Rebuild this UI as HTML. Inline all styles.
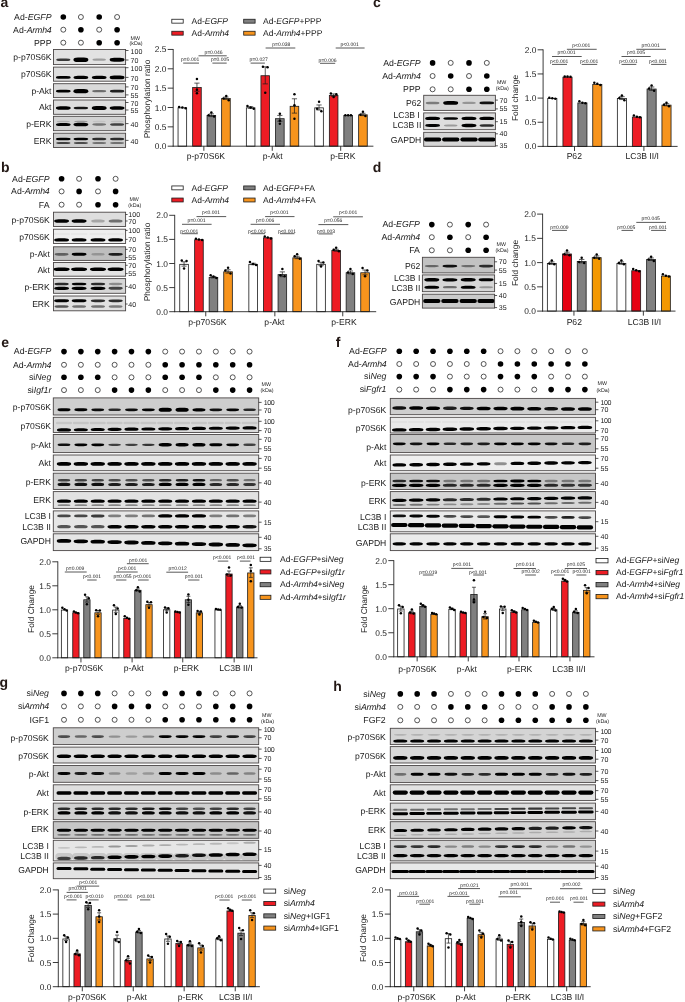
<!DOCTYPE html>
<html><head><meta charset="utf-8"><title>Figure</title>
<style>
html,body{margin:0;padding:0;background:#fff;}
body{width:685px;height:1002px;overflow:hidden;font-family:"Liberation Sans",sans-serif;}
svg{display:block;font-family:"Liberation Sans",sans-serif;opacity:0.999;will-change:transform;text-rendering:geometricPrecision;}
</style></head><body>
<svg width="685" height="1002" viewBox="0 0 685 1002">
<defs><filter id="bl" x="-5%" y="-50%" width="110%" height="200%"><feGaussianBlur stdDeviation="0.75"/></filter></defs>
<rect width="685" height="1002" fill="#fff"/>
<text x="0.50" y="6.90" font-size="14.00" text-anchor="start" font-weight="bold" fill="#231815">a</text>
<text x="1.00" y="171.80" font-size="14.00" text-anchor="start" font-weight="bold" fill="#231815">b</text>
<text x="373.00" y="7.10" font-size="14.00" text-anchor="start" font-weight="bold" fill="#231815">c</text>
<text x="372.80" y="171.80" font-size="14.00" text-anchor="start" font-weight="bold" fill="#231815">d</text>
<text x="1.20" y="346.90" font-size="14.00" text-anchor="start" font-weight="bold" fill="#231815">e</text>
<text x="335.70" y="346.90" font-size="14.00" text-anchor="start" font-weight="bold" fill="#231815">f</text>
<text x="-0.40" y="686.60" font-size="14.00" text-anchor="start" font-weight="bold" fill="#231815">g</text>
<text x="333.30" y="690.70" font-size="14.00" text-anchor="start" font-weight="bold" fill="#231815">h</text>
<text x="51.50" y="19.80" font-size="8.75" text-anchor="end" fill="#1a1a1a">Ad-<tspan font-style="italic">EGFP</tspan></text>
<circle cx="63.30" cy="17.00" r="2.80" fill="#000"/>
<circle cx="80.90" cy="17.00" r="2.50" fill="#fff" stroke="#111" stroke-width="0.7"/>
<circle cx="99.20" cy="17.00" r="2.80" fill="#000"/>
<circle cx="117.10" cy="17.00" r="2.50" fill="#fff" stroke="#111" stroke-width="0.7"/>
<text x="51.50" y="32.50" font-size="8.75" text-anchor="end" fill="#1a1a1a">Ad-<tspan font-style="italic" letter-spacing="-0.2">Armh4</tspan></text>
<circle cx="63.30" cy="29.70" r="2.50" fill="#fff" stroke="#111" stroke-width="0.7"/>
<circle cx="80.90" cy="29.70" r="2.80" fill="#000"/>
<circle cx="99.20" cy="29.70" r="2.50" fill="#fff" stroke="#111" stroke-width="0.7"/>
<circle cx="117.10" cy="29.70" r="2.80" fill="#000"/>
<text x="51.50" y="45.50" font-size="8.75" text-anchor="end" fill="#1a1a1a">PPP</text>
<circle cx="63.30" cy="42.70" r="2.50" fill="#fff" stroke="#111" stroke-width="0.7"/>
<circle cx="80.90" cy="42.70" r="2.50" fill="#fff" stroke="#111" stroke-width="0.7"/>
<circle cx="99.20" cy="42.70" r="2.80" fill="#000"/>
<circle cx="117.10" cy="42.70" r="2.80" fill="#000"/>
<clipPath id="c1"><rect x="53.50" y="49.50" width="72.10" height="15.10"/></clipPath>
<rect x="53.50" y="49.50" width="72.10" height="15.10" fill="#e2e2e2"/>
<g clip-path="url(#c1)"><g filter="url(#bl)">
<rect x="56.19" y="58.40" width="14.22" height="2.60" rx="4.27" ry="1.30" fill="#000" fill-opacity="0.75"/>
<rect x="73.44" y="57.40" width="14.92" height="4.60" rx="4.48" ry="2.30" fill="#000" fill-opacity="1.00"/>
<rect x="92.44" y="58.58" width="13.51" height="2.24" rx="4.05" ry="1.12" fill="#000" fill-opacity="0.30"/>
<rect x="109.66" y="57.71" width="14.88" height="3.98" rx="4.46" ry="1.99" fill="#000" fill-opacity="1.00"/>
</g></g>
<rect x="53.50" y="49.50" width="72.10" height="15.10" fill="none" stroke="#4a4646" stroke-width="0.9"/>
<clipPath id="c2"><rect x="53.50" y="67.10" width="72.10" height="14.10"/></clipPath>
<rect x="53.50" y="67.10" width="72.10" height="14.10" fill="#dedede"/>
<g clip-path="url(#c2)"><g filter="url(#bl)">
<rect x="55.94" y="75.93" width="14.72" height="2.94" rx="4.42" ry="1.47" fill="#000" fill-opacity="1.00"/>
<rect x="73.52" y="75.73" width="14.76" height="3.35" rx="4.43" ry="1.67" fill="#000" fill-opacity="1.00"/>
<rect x="91.84" y="75.73" width="14.72" height="3.33" rx="4.42" ry="1.67" fill="#000" fill-opacity="1.00"/>
<rect x="109.66" y="75.51" width="14.88" height="3.78" rx="4.46" ry="1.89" fill="#000" fill-opacity="1.00"/>
</g></g>
<rect x="53.50" y="67.10" width="72.10" height="14.10" fill="none" stroke="#4a4646" stroke-width="0.9"/>
<clipPath id="c3"><rect x="53.50" y="83.70" width="72.10" height="13.90"/></clipPath>
<rect x="53.50" y="83.70" width="72.10" height="13.90" fill="#dadada"/>
<g clip-path="url(#c3)"><g filter="url(#bl)">
<rect x="55.94" y="89.83" width="14.72" height="2.74" rx="4.42" ry="1.37" fill="#000" fill-opacity="1.00"/>
<rect x="73.44" y="89.10" width="14.92" height="4.20" rx="4.48" ry="2.10" fill="#000" fill-opacity="1.00"/>
<rect x="92.24" y="90.12" width="13.92" height="2.16" rx="4.17" ry="1.08" fill="#000" fill-opacity="0.50"/>
<rect x="109.89" y="89.87" width="14.42" height="2.66" rx="4.33" ry="1.33" fill="#000" fill-opacity="0.86"/>
</g></g>
<rect x="53.50" y="83.70" width="72.10" height="13.90" fill="none" stroke="#4a4646" stroke-width="0.9"/>
<clipPath id="c4"><rect x="53.50" y="100.00" width="72.10" height="14.30"/></clipPath>
<rect x="53.50" y="100.00" width="72.10" height="14.30" fill="#dedede"/>
<g clip-path="url(#c4)"><g filter="url(#bl)">
<rect x="55.87" y="106.21" width="14.86" height="3.58" rx="4.46" ry="1.79" fill="#000" fill-opacity="1.00"/>
<rect x="73.66" y="106.66" width="14.48" height="2.68" rx="4.34" ry="1.34" fill="#000" fill-opacity="0.90"/>
<rect x="91.74" y="105.90" width="14.92" height="4.20" rx="4.48" ry="2.10" fill="#000" fill-opacity="1.00"/>
<rect x="109.69" y="106.22" width="14.82" height="3.56" rx="4.45" ry="1.78" fill="#000" fill-opacity="1.00"/>
</g></g>
<rect x="53.50" y="100.00" width="72.10" height="14.30" fill="none" stroke="#4a4646" stroke-width="0.9"/>
<clipPath id="c5"><rect x="53.50" y="116.30" width="72.10" height="14.40"/></clipPath>
<rect x="53.50" y="116.30" width="72.10" height="14.40" fill="#d2d2d2"/>
<g clip-path="url(#c5)"><g filter="url(#bl)">
<rect x="55.94" y="122.93" width="14.72" height="3.14" rx="4.42" ry="1.57" fill="#000" fill-opacity="1.00"/>
<rect x="73.47" y="122.71" width="14.86" height="3.58" rx="4.46" ry="1.79" fill="#000" fill-opacity="1.00"/>
<rect x="92.29" y="123.34" width="13.82" height="2.31" rx="4.14" ry="1.16" fill="#000" fill-opacity="0.45"/>
<rect x="110.04" y="123.21" width="14.12" height="2.58" rx="4.24" ry="1.29" fill="#000" fill-opacity="0.69"/>
<rect x="56.66" y="120.65" width="13.27" height="1.50" rx="3.98" ry="0.75" fill="#000" fill-opacity="0.18"/>
<rect x="74.16" y="120.63" width="13.47" height="1.54" rx="4.04" ry="0.77" fill="#000" fill-opacity="0.28"/>
<rect x="92.66" y="120.67" width="13.07" height="1.47" rx="3.92" ry="0.73" fill="#000" fill-opacity="0.08"/>
<rect x="110.54" y="120.66" width="13.11" height="1.48" rx="3.93" ry="0.74" fill="#000" fill-opacity="0.10"/>
</g></g>
<rect x="53.50" y="116.30" width="72.10" height="14.40" fill="none" stroke="#4a4646" stroke-width="0.9"/>
<clipPath id="c6"><rect x="53.50" y="133.20" width="72.10" height="14.30"/></clipPath>
<rect x="53.50" y="133.20" width="72.10" height="14.30" fill="#cecece"/>
<g clip-path="url(#c6)"><g filter="url(#bl)">
<rect x="55.94" y="137.63" width="14.72" height="2.74" rx="4.42" ry="1.37" fill="#000" fill-opacity="1.00"/>
<rect x="73.56" y="137.63" width="14.68" height="2.73" rx="4.40" ry="1.37" fill="#000" fill-opacity="1.00"/>
<rect x="92.06" y="137.69" width="14.28" height="2.62" rx="4.28" ry="1.31" fill="#000" fill-opacity="0.78"/>
<rect x="109.96" y="137.69" width="14.28" height="2.62" rx="4.28" ry="1.31" fill="#000" fill-opacity="0.78"/>
<rect x="56.24" y="141.90" width="14.12" height="2.21" rx="4.24" ry="1.10" fill="#000" fill-opacity="0.69"/>
<rect x="73.89" y="141.91" width="14.02" height="2.18" rx="4.21" ry="1.09" fill="#000" fill-opacity="0.63"/>
<rect x="92.29" y="141.93" width="13.82" height="2.14" rx="4.14" ry="1.07" fill="#000" fill-opacity="0.45"/>
<rect x="110.19" y="141.93" width="13.82" height="2.14" rx="4.14" ry="1.07" fill="#000" fill-opacity="0.45"/>
</g></g>
<rect x="53.50" y="133.20" width="72.10" height="14.30" fill="none" stroke="#4a4646" stroke-width="0.9"/>
<text x="51.50" y="60.00" font-size="8.60" text-anchor="end" fill="#1a1a1a">p-p70S6K</text>
<text x="51.50" y="77.20" font-size="8.60" text-anchor="end" fill="#1a1a1a">p70S6K</text>
<text x="51.50" y="94.00" font-size="8.60" text-anchor="end" fill="#1a1a1a">p-Akt</text>
<text x="51.50" y="110.30" font-size="8.60" text-anchor="end" fill="#1a1a1a">Akt</text>
<text x="51.50" y="126.70" font-size="8.60" text-anchor="end" fill="#1a1a1a">p-ERK</text>
<text x="51.50" y="143.50" font-size="8.60" text-anchor="end" fill="#1a1a1a">ERK</text>
<text x="135.30" y="39.80" font-size="5.30" text-anchor="middle" fill="#1a1a1a">MW</text>
<text x="136.00" y="45.30" font-size="5.30" text-anchor="middle" fill="#1a1a1a">(kDa)</text>
<line x1="125.60" y1="50.50" x2="128.50" y2="50.50" stroke="#222" stroke-width="0.75"/>
<text x="130.60" y="53.80" font-size="7.05" text-anchor="start" fill="#1a1a1a">100</text>
<line x1="125.60" y1="60.00" x2="128.50" y2="60.00" stroke="#222" stroke-width="0.75"/>
<text x="130.60" y="63.30" font-size="7.05" text-anchor="start" fill="#1a1a1a">70</text>
<line x1="125.60" y1="67.70" x2="128.50" y2="67.70" stroke="#222" stroke-width="0.75"/>
<text x="130.60" y="71.00" font-size="7.05" text-anchor="start" fill="#1a1a1a">100</text>
<line x1="125.60" y1="77.40" x2="128.50" y2="77.40" stroke="#222" stroke-width="0.75"/>
<text x="130.60" y="80.70" font-size="7.05" text-anchor="start" fill="#1a1a1a">70</text>
<line x1="125.60" y1="86.90" x2="128.50" y2="86.90" stroke="#222" stroke-width="0.75"/>
<text x="130.60" y="90.20" font-size="7.05" text-anchor="start" fill="#1a1a1a">70</text>
<line x1="125.60" y1="94.90" x2="128.50" y2="94.90" stroke="#222" stroke-width="0.75"/>
<text x="130.60" y="98.20" font-size="7.05" text-anchor="start" fill="#1a1a1a">55</text>
<line x1="125.60" y1="102.50" x2="128.50" y2="102.50" stroke="#222" stroke-width="0.75"/>
<text x="130.60" y="105.80" font-size="7.05" text-anchor="start" fill="#1a1a1a">70</text>
<line x1="125.60" y1="110.00" x2="128.50" y2="110.00" stroke="#222" stroke-width="0.75"/>
<text x="130.60" y="113.30" font-size="7.05" text-anchor="start" fill="#1a1a1a">55</text>
<line x1="125.60" y1="123.60" x2="128.50" y2="123.60" stroke="#222" stroke-width="0.75"/>
<text x="130.60" y="126.90" font-size="7.05" text-anchor="start" fill="#1a1a1a">40</text>
<line x1="125.60" y1="140.40" x2="128.50" y2="140.40" stroke="#222" stroke-width="0.75"/>
<text x="130.60" y="143.70" font-size="7.05" text-anchor="start" fill="#1a1a1a">40</text>
<rect x="171.80" y="19.25" width="11.40" height="3.90" fill="#ffffff" stroke="#1a1a1a" stroke-width="0.8"/>
<text x="191.50" y="23.90" font-size="8.50" text-anchor="start" fill="#1a1a1a">Ad-<tspan font-style="italic">EGFP</tspan></text>
<rect x="171.80" y="31.25" width="11.40" height="3.90" fill="#ed1c24" stroke="#1a1a1a" stroke-width="0.8"/>
<text x="191.50" y="35.90" font-size="8.50" text-anchor="start" fill="#1a1a1a">Ad-<tspan font-style="italic" letter-spacing="-0.2">Armh4</tspan></text>
<rect x="243.70" y="19.25" width="11.40" height="3.90" fill="#808080" stroke="#1a1a1a" stroke-width="0.8"/>
<text x="263.10" y="23.90" font-size="8.50" text-anchor="start" fill="#1a1a1a">Ad-<tspan font-style="italic">EGFP</tspan>+PPP</text>
<rect x="243.70" y="31.25" width="11.40" height="3.90" fill="#f7941d" stroke="#1a1a1a" stroke-width="0.8"/>
<text x="263.10" y="35.90" font-size="8.50" text-anchor="start" fill="#1a1a1a">Ad-<tspan font-style="italic" letter-spacing="-0.2">Armh4</tspan>+PPP</text>
<rect x="178.05" y="107.85" width="8.60" height="38.35" fill="#ffffff" stroke="#1a1a1a" stroke-width="0.8"/>
<circle cx="179.15" cy="106.92" r="1.25" fill="#000"/>
<circle cx="182.35" cy="107.50" r="1.25" fill="#000"/>
<circle cx="185.65" cy="108.27" r="1.25" fill="#000"/>
<rect x="192.65" y="87.53" width="8.60" height="58.67" fill="#ed1c24" stroke="#1a1a1a" stroke-width="0.8"/>
<line x1="196.95" y1="83.12" x2="196.95" y2="91.25" stroke="#1a1a1a" stroke-width="0.70"/>
<line x1="194.35" y1="83.12" x2="199.55" y2="83.12" stroke="#1a1a1a" stroke-width="0.70"/>
<line x1="194.35" y1="91.25" x2="199.55" y2="91.25" stroke="#1a1a1a" stroke-width="0.70"/>
<circle cx="196.95" cy="79.06" r="1.25" fill="#000"/>
<circle cx="196.95" cy="89.85" r="1.25" fill="#000"/>
<circle cx="196.95" cy="93.18" r="1.25" fill="#000"/>
<rect x="207.05" y="115.59" width="8.60" height="30.61" fill="#808080" stroke="#1a1a1a" stroke-width="0.8"/>
<line x1="211.35" y1="113.89" x2="211.35" y2="116.59" stroke="#1a1a1a" stroke-width="0.70"/>
<line x1="208.75" y1="113.89" x2="213.95" y2="113.89" stroke="#1a1a1a" stroke-width="0.70"/>
<line x1="208.75" y1="116.59" x2="213.95" y2="116.59" stroke="#1a1a1a" stroke-width="0.70"/>
<circle cx="208.65" cy="115.24" r="1.25" fill="#000"/>
<circle cx="211.35" cy="112.53" r="1.25" fill="#000"/>
<circle cx="214.15" cy="116.40" r="1.25" fill="#000"/>
<rect x="221.65" y="98.56" width="8.60" height="47.64" fill="#f7941d" stroke="#1a1a1a" stroke-width="0.8"/>
<line x1="225.95" y1="97.05" x2="225.95" y2="99.37" stroke="#1a1a1a" stroke-width="0.70"/>
<line x1="223.35" y1="97.05" x2="228.55" y2="97.05" stroke="#1a1a1a" stroke-width="0.70"/>
<line x1="223.35" y1="99.37" x2="228.55" y2="99.37" stroke="#1a1a1a" stroke-width="0.70"/>
<circle cx="223.55" cy="98.60" r="1.25" fill="#000"/>
<circle cx="226.25" cy="95.89" r="1.25" fill="#000"/>
<circle cx="228.75" cy="100.15" r="1.25" fill="#000"/>
<rect x="246.35" y="107.85" width="8.60" height="38.35" fill="#ffffff" stroke="#1a1a1a" stroke-width="0.8"/>
<line x1="250.65" y1="106.73" x2="250.65" y2="108.27" stroke="#1a1a1a" stroke-width="0.70"/>
<line x1="248.05" y1="106.73" x2="253.25" y2="106.73" stroke="#1a1a1a" stroke-width="0.70"/>
<line x1="248.05" y1="108.27" x2="253.25" y2="108.27" stroke="#1a1a1a" stroke-width="0.70"/>
<circle cx="247.45" cy="105.95" r="1.25" fill="#000"/>
<circle cx="250.65" cy="107.50" r="1.25" fill="#000"/>
<circle cx="253.75" cy="108.82" r="1.25" fill="#000"/>
<rect x="260.95" y="75.73" width="8.60" height="70.47" fill="#ed1c24" stroke="#1a1a1a" stroke-width="0.8"/>
<line x1="265.25" y1="66.86" x2="265.25" y2="83.89" stroke="#1a1a1a" stroke-width="0.70"/>
<line x1="262.65" y1="66.86" x2="267.85" y2="66.86" stroke="#1a1a1a" stroke-width="0.70"/>
<line x1="262.65" y1="83.89" x2="267.85" y2="83.89" stroke="#1a1a1a" stroke-width="0.70"/>
<circle cx="262.95" cy="66.86" r="1.25" fill="#000"/>
<circle cx="267.55" cy="67.25" r="1.25" fill="#000"/>
<circle cx="265.25" cy="92.79" r="1.25" fill="#000"/>
<rect x="275.55" y="118.69" width="8.60" height="27.51" fill="#808080" stroke="#1a1a1a" stroke-width="0.8"/>
<line x1="279.85" y1="115.43" x2="279.85" y2="121.24" stroke="#1a1a1a" stroke-width="0.70"/>
<line x1="277.25" y1="115.43" x2="282.45" y2="115.43" stroke="#1a1a1a" stroke-width="0.70"/>
<line x1="277.25" y1="121.24" x2="282.45" y2="121.24" stroke="#1a1a1a" stroke-width="0.70"/>
<circle cx="279.85" cy="113.69" r="1.25" fill="#000"/>
<circle cx="279.85" cy="120.66" r="1.25" fill="#000"/>
<circle cx="279.85" cy="123.75" r="1.25" fill="#000"/>
<rect x="290.15" y="106.30" width="8.60" height="39.90" fill="#f7941d" stroke="#1a1a1a" stroke-width="0.8"/>
<line x1="294.45" y1="98.79" x2="294.45" y2="113.11" stroke="#1a1a1a" stroke-width="0.70"/>
<line x1="291.85" y1="98.79" x2="297.05" y2="98.79" stroke="#1a1a1a" stroke-width="0.70"/>
<line x1="291.85" y1="113.11" x2="297.05" y2="113.11" stroke="#1a1a1a" stroke-width="0.70"/>
<circle cx="294.45" cy="94.34" r="1.25" fill="#000"/>
<circle cx="294.45" cy="105.18" r="1.25" fill="#000"/>
<circle cx="294.45" cy="118.72" r="1.25" fill="#000"/>
<rect x="314.75" y="107.85" width="8.60" height="38.35" fill="#ffffff" stroke="#1a1a1a" stroke-width="0.8"/>
<line x1="319.05" y1="104.98" x2="319.05" y2="110.02" stroke="#1a1a1a" stroke-width="0.70"/>
<line x1="316.45" y1="104.98" x2="321.65" y2="104.98" stroke="#1a1a1a" stroke-width="0.70"/>
<line x1="316.45" y1="110.02" x2="321.65" y2="110.02" stroke="#1a1a1a" stroke-width="0.70"/>
<circle cx="319.05" cy="101.81" r="1.25" fill="#000"/>
<circle cx="317.15" cy="108.82" r="1.25" fill="#000"/>
<circle cx="321.35" cy="111.37" r="1.25" fill="#000"/>
<rect x="329.35" y="95.47" width="8.60" height="50.73" fill="#ed1c24" stroke="#1a1a1a" stroke-width="0.8"/>
<line x1="333.65" y1="93.95" x2="333.65" y2="96.28" stroke="#1a1a1a" stroke-width="0.70"/>
<line x1="331.05" y1="93.95" x2="336.25" y2="93.95" stroke="#1a1a1a" stroke-width="0.70"/>
<line x1="331.05" y1="96.28" x2="336.25" y2="96.28" stroke="#1a1a1a" stroke-width="0.70"/>
<circle cx="330.85" cy="93.57" r="1.25" fill="#000"/>
<circle cx="333.65" cy="97.05" r="1.25" fill="#000"/>
<circle cx="336.35" cy="94.34" r="1.25" fill="#000"/>
<rect x="343.85" y="115.59" width="8.60" height="30.61" fill="#808080" stroke="#1a1a1a" stroke-width="0.8"/>
<circle cx="345.35" cy="115.24" r="1.25" fill="#000"/>
<circle cx="348.15" cy="115.24" r="1.25" fill="#000"/>
<circle cx="350.95" cy="115.36" r="1.25" fill="#000"/>
<rect x="358.65" y="114.82" width="8.60" height="31.38" fill="#f7941d" stroke="#1a1a1a" stroke-width="0.8"/>
<line x1="362.95" y1="113.30" x2="362.95" y2="115.63" stroke="#1a1a1a" stroke-width="0.70"/>
<line x1="360.35" y1="113.30" x2="365.55" y2="113.30" stroke="#1a1a1a" stroke-width="0.70"/>
<line x1="360.35" y1="115.63" x2="365.55" y2="115.63" stroke="#1a1a1a" stroke-width="0.70"/>
<circle cx="360.45" cy="114.85" r="1.25" fill="#000"/>
<circle cx="362.95" cy="111.76" r="1.25" fill="#000"/>
<circle cx="365.45" cy="116.01" r="1.25" fill="#000"/>
<line x1="173.20" y1="49.05" x2="173.20" y2="146.60" stroke="#1a1a1a" stroke-width="0.85"/>
<line x1="172.80" y1="146.20" x2="373.40" y2="146.20" stroke="#1a1a1a" stroke-width="0.85"/>
<line x1="167.70" y1="146.20" x2="173.20" y2="146.20" stroke="#1a1a1a" stroke-width="0.85"/>
<text x="166.40" y="149.20" font-size="8.40" text-anchor="end" fill="#1a1a1a">0.0</text>
<line x1="167.70" y1="126.85" x2="173.20" y2="126.85" stroke="#1a1a1a" stroke-width="0.85"/>
<text x="166.40" y="129.85" font-size="8.40" text-anchor="end" fill="#1a1a1a">0.5</text>
<line x1="167.70" y1="107.50" x2="173.20" y2="107.50" stroke="#1a1a1a" stroke-width="0.85"/>
<text x="166.40" y="110.50" font-size="8.40" text-anchor="end" fill="#1a1a1a">1.0</text>
<line x1="167.70" y1="88.15" x2="173.20" y2="88.15" stroke="#1a1a1a" stroke-width="0.85"/>
<text x="166.40" y="91.15" font-size="8.40" text-anchor="end" fill="#1a1a1a">1.5</text>
<line x1="167.70" y1="68.80" x2="173.20" y2="68.80" stroke="#1a1a1a" stroke-width="0.85"/>
<text x="166.40" y="71.80" font-size="8.40" text-anchor="end" fill="#1a1a1a">2.0</text>
<line x1="167.70" y1="49.45" x2="173.20" y2="49.45" stroke="#1a1a1a" stroke-width="0.85"/>
<text x="166.40" y="52.45" font-size="8.40" text-anchor="end" fill="#1a1a1a">2.5</text>
<text transform="translate(150.30,99.00) rotate(-90)" font-size="8.40" text-anchor="middle" fill="#1a1a1a">Phosphorylation ratio</text>
<line x1="203.85" y1="146.20" x2="203.85" y2="150.80" stroke="#1a1a1a" stroke-width="0.85"/>
<text x="205.80" y="159.40" font-size="8.60" text-anchor="middle" fill="#1a1a1a">p-p70S6K</text>
<line x1="272.25" y1="146.20" x2="272.25" y2="150.80" stroke="#1a1a1a" stroke-width="0.85"/>
<text x="272.70" y="159.40" font-size="8.60" text-anchor="middle" fill="#1a1a1a">p-Akt</text>
<line x1="340.70" y1="146.20" x2="340.70" y2="150.80" stroke="#1a1a1a" stroke-width="0.85"/>
<text x="342.80" y="159.40" font-size="8.60" text-anchor="middle" fill="#1a1a1a">p-ERK</text>
<text x="190.20" y="61.40" font-size="5.00" text-anchor="middle" fill="#222">p=0.001</text>
<line x1="183.20" y1="63.10" x2="199.00" y2="63.10" stroke="#222" stroke-width="0.75"/>
<text x="213.50" y="53.90" font-size="5.00" text-anchor="middle" fill="#222">p=0.046</text>
<line x1="198.50" y1="55.80" x2="226.70" y2="55.80" stroke="#222" stroke-width="0.75"/>
<text x="220.00" y="61.40" font-size="5.00" text-anchor="middle" fill="#222">p=0.005</text>
<line x1="212.40" y1="63.10" x2="226.70" y2="63.10" stroke="#222" stroke-width="0.75"/>
<text x="258.70" y="61.40" font-size="5.00" text-anchor="middle" fill="#222">p=0.027</text>
<line x1="250.60" y1="63.10" x2="264.90" y2="63.10" stroke="#222" stroke-width="0.75"/>
<text x="281.30" y="46.40" font-size="5.00" text-anchor="middle" fill="#222">p=0.038</text>
<line x1="265.60" y1="48.00" x2="295.30" y2="48.00" stroke="#222" stroke-width="0.75"/>
<text x="327.50" y="61.70" font-size="5.00" text-anchor="middle" fill="#222">p=0.006</text>
<line x1="320.00" y1="63.30" x2="335.20" y2="63.30" stroke="#222" stroke-width="0.75"/>
<text x="349.70" y="46.10" font-size="5.00" text-anchor="middle" fill="#222">p&lt;0.001</text>
<line x1="335.70" y1="48.00" x2="364.60" y2="48.00" stroke="#222" stroke-width="0.75"/>
<text x="49.50" y="181.60" font-size="8.75" text-anchor="end" fill="#1a1a1a">Ad-<tspan font-style="italic">EGFP</tspan></text>
<circle cx="61.60" cy="178.80" r="2.80" fill="#000"/>
<circle cx="79.10" cy="178.80" r="2.50" fill="#fff" stroke="#111" stroke-width="0.7"/>
<circle cx="98.00" cy="178.80" r="2.80" fill="#000"/>
<circle cx="115.60" cy="178.80" r="2.50" fill="#fff" stroke="#111" stroke-width="0.7"/>
<text x="49.50" y="194.20" font-size="8.75" text-anchor="end" fill="#1a1a1a">Ad-<tspan font-style="italic" letter-spacing="-0.2">Armh4</tspan></text>
<circle cx="61.60" cy="191.40" r="2.50" fill="#fff" stroke="#111" stroke-width="0.7"/>
<circle cx="79.10" cy="191.40" r="2.80" fill="#000"/>
<circle cx="98.00" cy="191.40" r="2.50" fill="#fff" stroke="#111" stroke-width="0.7"/>
<circle cx="115.60" cy="191.40" r="2.80" fill="#000"/>
<text x="49.50" y="207.50" font-size="8.75" text-anchor="end" fill="#1a1a1a">FA</text>
<circle cx="61.60" cy="204.70" r="2.50" fill="#fff" stroke="#111" stroke-width="0.7"/>
<circle cx="79.10" cy="204.70" r="2.50" fill="#fff" stroke="#111" stroke-width="0.7"/>
<circle cx="98.00" cy="204.70" r="2.80" fill="#000"/>
<circle cx="115.60" cy="204.70" r="2.80" fill="#000"/>
<clipPath id="c7"><rect x="53.50" y="212.20" width="72.10" height="14.30"/></clipPath>
<rect x="53.50" y="212.20" width="72.10" height="14.30" fill="#dedede"/>
<g clip-path="url(#c7)"><g filter="url(#bl)">
<rect x="54.16" y="219.22" width="14.88" height="3.56" rx="4.46" ry="1.78" fill="#000" fill-opacity="1.00"/>
<rect x="71.61" y="219.20" width="14.98" height="3.60" rx="4.49" ry="1.80" fill="#000" fill-opacity="1.00"/>
<rect x="91.27" y="219.47" width="13.46" height="3.06" rx="4.04" ry="1.53" fill="#000" fill-opacity="0.25"/>
<rect x="108.62" y="219.38" width="13.97" height="3.24" rx="4.19" ry="1.62" fill="#000" fill-opacity="0.50"/>
</g></g>
<rect x="53.50" y="212.20" width="72.10" height="14.30" fill="none" stroke="#4a4646" stroke-width="0.9"/>
<clipPath id="c8"><rect x="53.50" y="229.20" width="72.10" height="14.30"/></clipPath>
<rect x="53.50" y="229.20" width="72.10" height="14.30" fill="#efefef"/>
<g clip-path="url(#c8)"><g filter="url(#bl)">
<rect x="54.16" y="238.32" width="14.88" height="3.17" rx="4.46" ry="1.58" fill="#000" fill-opacity="1.00"/>
<rect x="71.66" y="238.32" width="14.88" height="3.17" rx="4.46" ry="1.58" fill="#000" fill-opacity="1.00"/>
<rect x="90.56" y="238.32" width="14.88" height="3.17" rx="4.46" ry="1.58" fill="#000" fill-opacity="1.00"/>
<rect x="108.21" y="238.33" width="14.77" height="3.14" rx="4.43" ry="1.57" fill="#000" fill-opacity="1.00"/>
<rect x="53.12" y="233.35" width="16.95" height="1.29" rx="0.65" ry="0.65" fill="#000" fill-opacity="0.04"/>
<rect x="70.62" y="233.35" width="16.95" height="1.29" rx="0.65" ry="0.65" fill="#000" fill-opacity="0.04"/>
<rect x="89.52" y="233.35" width="16.95" height="1.29" rx="0.65" ry="0.65" fill="#000" fill-opacity="0.04"/>
<rect x="107.12" y="233.35" width="16.95" height="1.29" rx="0.65" ry="0.65" fill="#000" fill-opacity="0.04"/>
</g></g>
<rect x="53.50" y="229.20" width="72.10" height="14.30" fill="none" stroke="#4a4646" stroke-width="0.9"/>
<clipPath id="c9"><rect x="53.50" y="246.80" width="72.10" height="13.60"/></clipPath>
<rect x="53.50" y="246.80" width="72.10" height="13.60" fill="#bebebe"/>
<g clip-path="url(#c9)"><g filter="url(#bl)">
<rect x="54.62" y="252.95" width="13.97" height="2.70" rx="4.19" ry="1.35" fill="#000" fill-opacity="0.50"/>
<rect x="71.71" y="252.83" width="14.77" height="2.94" rx="4.43" ry="1.47" fill="#000" fill-opacity="1.00"/>
<rect x="91.30" y="253.03" width="13.40" height="2.53" rx="4.02" ry="1.27" fill="#000" fill-opacity="0.22"/>
<rect x="108.36" y="252.88" width="14.47" height="2.85" rx="4.34" ry="1.43" fill="#000" fill-opacity="0.86"/>
</g></g>
<rect x="53.50" y="246.80" width="72.10" height="13.60" fill="none" stroke="#4a4646" stroke-width="0.9"/>
<clipPath id="c10"><rect x="53.50" y="262.50" width="72.10" height="13.70"/></clipPath>
<rect x="53.50" y="262.50" width="72.10" height="13.70" fill="#e2e2e2"/>
<g clip-path="url(#c10)"><g filter="url(#bl)">
<rect x="53.53" y="267.51" width="16.13" height="3.59" rx="4.84" ry="1.79" fill="#000" fill-opacity="1.00"/>
<rect x="71.10" y="267.53" width="16.00" height="3.54" rx="4.80" ry="1.77" fill="#000" fill-opacity="1.00"/>
<rect x="89.93" y="267.51" width="16.13" height="3.59" rx="4.84" ry="1.79" fill="#000" fill-opacity="1.00"/>
<rect x="107.57" y="267.52" width="16.07" height="3.56" rx="4.82" ry="1.78" fill="#000" fill-opacity="1.00"/>
</g></g>
<rect x="53.50" y="262.50" width="72.10" height="13.70" fill="none" stroke="#4a4646" stroke-width="0.9"/>
<clipPath id="c11"><rect x="53.50" y="278.60" width="72.10" height="14.70"/></clipPath>
<rect x="53.50" y="278.60" width="72.10" height="14.70" fill="#d6d6d6"/>
<g clip-path="url(#c11)"><g filter="url(#bl)">
<rect x="54.41" y="282.78" width="14.37" height="2.44" rx="4.31" ry="1.22" fill="#000" fill-opacity="0.80"/>
<rect x="71.76" y="282.74" width="14.67" height="2.52" rx="4.40" ry="1.26" fill="#000" fill-opacity="0.98"/>
<rect x="90.81" y="282.78" width="14.37" height="2.44" rx="4.31" ry="1.22" fill="#000" fill-opacity="0.80"/>
<rect x="108.77" y="282.87" width="13.67" height="2.26" rx="4.10" ry="1.13" fill="#000" fill-opacity="0.35"/>
<rect x="54.16" y="286.72" width="14.88" height="3.17" rx="4.46" ry="1.58" fill="#000" fill-opacity="1.00"/>
<rect x="71.63" y="286.71" width="14.94" height="3.19" rx="4.48" ry="1.59" fill="#000" fill-opacity="1.00"/>
<rect x="90.56" y="286.72" width="14.88" height="3.17" rx="4.46" ry="1.58" fill="#000" fill-opacity="1.00"/>
<rect x="108.52" y="286.83" width="14.17" height="2.94" rx="4.25" ry="1.47" fill="#000" fill-opacity="0.69"/>
</g></g>
<rect x="53.50" y="278.60" width="72.10" height="14.70" fill="none" stroke="#4a4646" stroke-width="0.9"/>
<clipPath id="c12"><rect x="53.50" y="296.00" width="72.10" height="14.80"/></clipPath>
<rect x="53.50" y="296.00" width="72.10" height="14.80" fill="#e0e0e0"/>
<g clip-path="url(#c12)"><g filter="url(#bl)">
<rect x="54.16" y="299.31" width="14.88" height="2.97" rx="4.46" ry="1.48" fill="#000" fill-opacity="1.00"/>
<rect x="71.71" y="299.33" width="14.77" height="2.94" rx="4.43" ry="1.47" fill="#000" fill-opacity="1.00"/>
<rect x="90.81" y="299.39" width="14.37" height="2.82" rx="4.31" ry="1.41" fill="#000" fill-opacity="0.80"/>
<rect x="108.41" y="299.39" width="14.37" height="2.82" rx="4.31" ry="1.41" fill="#000" fill-opacity="0.80"/>
<rect x="54.57" y="305.13" width="14.07" height="2.55" rx="4.22" ry="1.27" fill="#000" fill-opacity="0.63"/>
<rect x="72.12" y="305.14" width="13.97" height="2.52" rx="4.19" ry="1.26" fill="#000" fill-opacity="0.50"/>
<rect x="91.02" y="305.14" width="13.97" height="2.52" rx="4.19" ry="1.26" fill="#000" fill-opacity="0.50"/>
<rect x="108.67" y="305.15" width="13.87" height="2.49" rx="4.16" ry="1.25" fill="#000" fill-opacity="0.45"/>
</g></g>
<rect x="53.50" y="296.00" width="72.10" height="14.80" fill="none" stroke="#4a4646" stroke-width="0.9"/>
<text x="49.80" y="223.30" font-size="8.60" text-anchor="end" fill="#1a1a1a">p-p70S6K</text>
<text x="49.80" y="240.20" font-size="8.60" text-anchor="end" fill="#1a1a1a">p70S6K</text>
<text x="49.80" y="257.00" font-size="8.60" text-anchor="end" fill="#1a1a1a">p-Akt</text>
<text x="49.80" y="273.20" font-size="8.60" text-anchor="end" fill="#1a1a1a">Akt</text>
<text x="49.80" y="290.30" font-size="8.60" text-anchor="end" fill="#1a1a1a">p-ERK</text>
<text x="49.80" y="307.20" font-size="8.60" text-anchor="end" fill="#1a1a1a">ERK</text>
<text x="134.10" y="201.30" font-size="5.30" text-anchor="middle" fill="#1a1a1a">MW</text>
<text x="134.80" y="207.30" font-size="5.30" text-anchor="middle" fill="#1a1a1a">(kDa)</text>
<line x1="125.60" y1="214.50" x2="127.60" y2="214.50" stroke="#222" stroke-width="0.75"/>
<text x="128.30" y="217.00" font-size="7.05" text-anchor="start" fill="#1a1a1a">100</text>
<line x1="125.60" y1="221.00" x2="127.60" y2="221.00" stroke="#222" stroke-width="0.75"/>
<text x="128.30" y="223.50" font-size="7.05" text-anchor="start" fill="#1a1a1a">70</text>
<line x1="125.60" y1="230.40" x2="127.60" y2="230.40" stroke="#222" stroke-width="0.75"/>
<text x="128.30" y="232.90" font-size="7.05" text-anchor="start" fill="#1a1a1a">100</text>
<line x1="125.60" y1="239.40" x2="127.60" y2="239.40" stroke="#222" stroke-width="0.75"/>
<text x="128.30" y="241.90" font-size="7.05" text-anchor="start" fill="#1a1a1a">70</text>
<line x1="125.60" y1="249.40" x2="127.60" y2="249.40" stroke="#222" stroke-width="0.75"/>
<text x="128.30" y="251.90" font-size="7.05" text-anchor="start" fill="#1a1a1a">70</text>
<line x1="125.60" y1="257.50" x2="127.60" y2="257.50" stroke="#222" stroke-width="0.75"/>
<text x="128.30" y="260.00" font-size="7.05" text-anchor="start" fill="#1a1a1a">55</text>
<line x1="125.60" y1="265.30" x2="127.60" y2="265.30" stroke="#222" stroke-width="0.75"/>
<text x="128.30" y="267.80" font-size="7.05" text-anchor="start" fill="#1a1a1a">70</text>
<line x1="125.60" y1="273.60" x2="127.60" y2="273.60" stroke="#222" stroke-width="0.75"/>
<text x="128.30" y="276.10" font-size="7.05" text-anchor="start" fill="#1a1a1a">55</text>
<line x1="125.60" y1="286.40" x2="127.60" y2="286.40" stroke="#222" stroke-width="0.75"/>
<text x="128.30" y="288.90" font-size="7.05" text-anchor="start" fill="#1a1a1a">40</text>
<line x1="125.60" y1="304.00" x2="127.60" y2="304.00" stroke="#222" stroke-width="0.75"/>
<text x="128.30" y="306.50" font-size="7.05" text-anchor="start" fill="#1a1a1a">40</text>
<rect x="171.80" y="185.95" width="11.40" height="3.90" fill="#ffffff" stroke="#1a1a1a" stroke-width="0.8"/>
<text x="191.50" y="190.60" font-size="8.50" text-anchor="start" fill="#1a1a1a">Ad-<tspan font-style="italic">EGFP</tspan></text>
<rect x="171.80" y="198.05" width="11.40" height="3.90" fill="#ed1c24" stroke="#1a1a1a" stroke-width="0.8"/>
<text x="191.50" y="202.70" font-size="8.50" text-anchor="start" fill="#1a1a1a">Ad-<tspan font-style="italic" letter-spacing="-0.2">Armh4</tspan></text>
<rect x="243.70" y="185.95" width="11.40" height="3.90" fill="#808080" stroke="#1a1a1a" stroke-width="0.8"/>
<text x="263.10" y="190.60" font-size="8.50" text-anchor="start" fill="#1a1a1a">Ad-<tspan font-style="italic">EGFP</tspan>+FA</text>
<rect x="243.70" y="198.05" width="11.40" height="3.90" fill="#f7941d" stroke="#1a1a1a" stroke-width="0.8"/>
<text x="263.10" y="202.70" font-size="8.50" text-anchor="start" fill="#1a1a1a">Ad-<tspan font-style="italic" letter-spacing="-0.2">Armh4</tspan>+FA</text>
<rect x="179.75" y="264.33" width="8.60" height="47.37" fill="#ffffff" stroke="#1a1a1a" stroke-width="0.8"/>
<line x1="184.05" y1="261.81" x2="184.05" y2="266.15" stroke="#1a1a1a" stroke-width="0.70"/>
<line x1="181.45" y1="261.81" x2="186.65" y2="261.81" stroke="#1a1a1a" stroke-width="0.70"/>
<line x1="181.45" y1="266.15" x2="186.65" y2="266.15" stroke="#1a1a1a" stroke-width="0.70"/>
<circle cx="181.75" cy="260.46" r="1.25" fill="#000"/>
<circle cx="186.55" cy="261.09" r="1.25" fill="#000"/>
<circle cx="184.05" cy="268.61" r="1.25" fill="#000"/>
<rect x="194.65" y="239.75" width="8.60" height="71.95" fill="#ed1c24" stroke="#1a1a1a" stroke-width="0.8"/>
<circle cx="195.95" cy="238.63" r="1.25" fill="#000"/>
<circle cx="198.95" cy="239.40" r="1.25" fill="#000"/>
<circle cx="202.15" cy="239.88" r="1.25" fill="#000"/>
<rect x="209.15" y="277.54" width="8.60" height="34.16" fill="#808080" stroke="#1a1a1a" stroke-width="0.8"/>
<line x1="213.45" y1="276.47" x2="213.45" y2="277.91" stroke="#1a1a1a" stroke-width="0.70"/>
<line x1="210.85" y1="276.47" x2="216.05" y2="276.47" stroke="#1a1a1a" stroke-width="0.70"/>
<line x1="210.85" y1="277.91" x2="216.05" y2="277.91" stroke="#1a1a1a" stroke-width="0.70"/>
<circle cx="210.65" cy="275.26" r="1.25" fill="#000"/>
<circle cx="213.45" cy="276.61" r="1.25" fill="#000"/>
<circle cx="216.45" cy="277.96" r="1.25" fill="#000"/>
<rect x="223.75" y="271.80" width="8.60" height="39.90" fill="#f7941d" stroke="#1a1a1a" stroke-width="0.8"/>
<line x1="228.05" y1="269.77" x2="228.05" y2="273.14" stroke="#1a1a1a" stroke-width="0.70"/>
<line x1="225.45" y1="269.77" x2="230.65" y2="269.77" stroke="#1a1a1a" stroke-width="0.70"/>
<line x1="225.45" y1="273.14" x2="230.65" y2="273.14" stroke="#1a1a1a" stroke-width="0.70"/>
<circle cx="225.35" cy="270.54" r="1.25" fill="#000"/>
<circle cx="228.05" cy="267.69" r="1.25" fill="#000"/>
<circle cx="230.55" cy="273.38" r="1.25" fill="#000"/>
<rect x="248.85" y="264.33" width="8.60" height="47.37" fill="#ffffff" stroke="#1a1a1a" stroke-width="0.8"/>
<line x1="253.15" y1="263.26" x2="253.15" y2="264.70" stroke="#1a1a1a" stroke-width="0.70"/>
<line x1="250.55" y1="263.26" x2="255.75" y2="263.26" stroke="#1a1a1a" stroke-width="0.70"/>
<line x1="250.55" y1="264.70" x2="255.75" y2="264.70" stroke="#1a1a1a" stroke-width="0.70"/>
<circle cx="249.95" cy="262.05" r="1.25" fill="#000"/>
<circle cx="253.15" cy="263.98" r="1.25" fill="#000"/>
<circle cx="256.15" cy="264.95" r="1.25" fill="#000"/>
<rect x="263.45" y="237.82" width="8.60" height="73.88" fill="#ed1c24" stroke="#1a1a1a" stroke-width="0.8"/>
<circle cx="264.75" cy="236.51" r="1.25" fill="#000"/>
<circle cx="267.75" cy="237.47" r="1.25" fill="#000"/>
<circle cx="270.95" cy="238.44" r="1.25" fill="#000"/>
<rect x="278.05" y="274.65" width="8.60" height="37.05" fill="#808080" stroke="#1a1a1a" stroke-width="0.8"/>
<line x1="282.35" y1="271.89" x2="282.35" y2="276.71" stroke="#1a1a1a" stroke-width="0.70"/>
<line x1="279.75" y1="271.89" x2="284.95" y2="271.89" stroke="#1a1a1a" stroke-width="0.70"/>
<line x1="279.75" y1="276.71" x2="284.95" y2="276.71" stroke="#1a1a1a" stroke-width="0.70"/>
<circle cx="282.35" cy="268.99" r="1.25" fill="#000"/>
<circle cx="280.45" cy="275.26" r="1.25" fill="#000"/>
<circle cx="284.65" cy="276.22" r="1.25" fill="#000"/>
<rect x="292.85" y="257.82" width="8.60" height="53.88" fill="#f7941d" stroke="#1a1a1a" stroke-width="0.8"/>
<line x1="297.15" y1="256.27" x2="297.15" y2="258.68" stroke="#1a1a1a" stroke-width="0.70"/>
<line x1="294.55" y1="256.27" x2="299.75" y2="256.27" stroke="#1a1a1a" stroke-width="0.70"/>
<line x1="294.55" y1="258.68" x2="299.75" y2="258.68" stroke="#1a1a1a" stroke-width="0.70"/>
<circle cx="294.65" cy="256.27" r="1.25" fill="#000"/>
<circle cx="297.15" cy="254.34" r="1.25" fill="#000"/>
<circle cx="299.85" cy="258.68" r="1.25" fill="#000"/>
<rect x="316.75" y="264.33" width="8.60" height="47.37" fill="#ffffff" stroke="#1a1a1a" stroke-width="0.8"/>
<line x1="321.05" y1="262.29" x2="321.05" y2="265.67" stroke="#1a1a1a" stroke-width="0.70"/>
<line x1="318.45" y1="262.29" x2="323.65" y2="262.29" stroke="#1a1a1a" stroke-width="0.70"/>
<line x1="318.45" y1="265.67" x2="323.65" y2="265.67" stroke="#1a1a1a" stroke-width="0.70"/>
<circle cx="318.55" cy="261.09" r="1.25" fill="#000"/>
<circle cx="323.35" cy="262.54" r="1.25" fill="#000"/>
<circle cx="321.05" cy="266.39" r="1.25" fill="#000"/>
<rect x="331.85" y="250.59" width="8.60" height="61.10" fill="#ed1c24" stroke="#1a1a1a" stroke-width="0.8"/>
<line x1="336.15" y1="249.28" x2="336.15" y2="251.21" stroke="#1a1a1a" stroke-width="0.70"/>
<line x1="333.55" y1="249.28" x2="338.75" y2="249.28" stroke="#1a1a1a" stroke-width="0.70"/>
<line x1="333.55" y1="251.21" x2="338.75" y2="251.21" stroke="#1a1a1a" stroke-width="0.70"/>
<circle cx="333.65" cy="249.67" r="1.25" fill="#000"/>
<circle cx="336.15" cy="247.74" r="1.25" fill="#000"/>
<circle cx="338.95" cy="251.16" r="1.25" fill="#000"/>
<rect x="346.15" y="272.77" width="8.60" height="38.93" fill="#808080" stroke="#1a1a1a" stroke-width="0.8"/>
<line x1="350.45" y1="270.97" x2="350.45" y2="273.86" stroke="#1a1a1a" stroke-width="0.70"/>
<line x1="347.85" y1="270.97" x2="353.05" y2="270.97" stroke="#1a1a1a" stroke-width="0.70"/>
<line x1="347.85" y1="273.86" x2="353.05" y2="273.86" stroke="#1a1a1a" stroke-width="0.70"/>
<circle cx="350.45" cy="268.99" r="1.25" fill="#000"/>
<circle cx="347.95" cy="272.42" r="1.25" fill="#000"/>
<circle cx="352.75" cy="273.96" r="1.25" fill="#000"/>
<rect x="360.75" y="272.77" width="8.60" height="38.93" fill="#f7941d" stroke="#1a1a1a" stroke-width="0.8"/>
<line x1="365.05" y1="270.01" x2="365.05" y2="274.83" stroke="#1a1a1a" stroke-width="0.70"/>
<line x1="362.45" y1="270.01" x2="367.65" y2="270.01" stroke="#1a1a1a" stroke-width="0.70"/>
<line x1="362.45" y1="274.83" x2="367.65" y2="274.83" stroke="#1a1a1a" stroke-width="0.70"/>
<circle cx="362.55" cy="268.08" r="1.25" fill="#000"/>
<circle cx="367.35" cy="270.54" r="1.25" fill="#000"/>
<circle cx="365.05" cy="276.22" r="1.25" fill="#000"/>
<line x1="174.70" y1="214.90" x2="174.70" y2="312.10" stroke="#1a1a1a" stroke-width="0.85"/>
<line x1="174.30" y1="311.70" x2="376.20" y2="311.70" stroke="#1a1a1a" stroke-width="0.85"/>
<line x1="169.20" y1="311.70" x2="174.70" y2="311.70" stroke="#1a1a1a" stroke-width="0.85"/>
<text x="167.90" y="314.70" font-size="8.40" text-anchor="end" fill="#1a1a1a">0.0</text>
<line x1="169.20" y1="287.60" x2="174.70" y2="287.60" stroke="#1a1a1a" stroke-width="0.85"/>
<text x="167.90" y="290.60" font-size="8.40" text-anchor="end" fill="#1a1a1a">0.5</text>
<line x1="169.20" y1="263.50" x2="174.70" y2="263.50" stroke="#1a1a1a" stroke-width="0.85"/>
<text x="167.90" y="266.50" font-size="8.40" text-anchor="end" fill="#1a1a1a">1.0</text>
<line x1="169.20" y1="239.40" x2="174.70" y2="239.40" stroke="#1a1a1a" stroke-width="0.85"/>
<text x="167.90" y="242.40" font-size="8.40" text-anchor="end" fill="#1a1a1a">1.5</text>
<line x1="169.20" y1="215.30" x2="174.70" y2="215.30" stroke="#1a1a1a" stroke-width="0.85"/>
<text x="167.90" y="218.30" font-size="8.40" text-anchor="end" fill="#1a1a1a">2.0</text>
<text transform="translate(150.30,262.00) rotate(-90)" font-size="8.40" text-anchor="middle" fill="#1a1a1a">Phosphorylation ratio</text>
<line x1="205.75" y1="311.70" x2="205.75" y2="316.30" stroke="#1a1a1a" stroke-width="0.85"/>
<text x="207.30" y="325.40" font-size="8.60" text-anchor="middle" fill="#1a1a1a">p-p70S6K</text>
<line x1="274.85" y1="311.70" x2="274.85" y2="316.30" stroke="#1a1a1a" stroke-width="0.85"/>
<text x="274.40" y="325.40" font-size="8.60" text-anchor="middle" fill="#1a1a1a">p-Akt</text>
<line x1="342.75" y1="311.70" x2="342.75" y2="316.30" stroke="#1a1a1a" stroke-width="0.85"/>
<text x="344.00" y="325.40" font-size="8.60" text-anchor="middle" fill="#1a1a1a">p-ERK</text>
<text x="189.30" y="232.50" font-size="5.00" text-anchor="middle" fill="#222">p&lt;0.001</text>
<line x1="181.50" y1="233.70" x2="197.80" y2="233.70" stroke="#222" stroke-width="0.75"/>
<text x="196.50" y="221.70" font-size="5.00" text-anchor="middle" fill="#222">p=0.001</text>
<line x1="182.00" y1="224.30" x2="211.60" y2="224.30" stroke="#222" stroke-width="0.75"/>
<text x="211.00" y="213.60" font-size="5.00" text-anchor="middle" fill="#222">p&lt;0.001</text>
<line x1="196.50" y1="216.60" x2="226.20" y2="216.60" stroke="#222" stroke-width="0.75"/>
<text x="257.20" y="232.50" font-size="5.00" text-anchor="middle" fill="#222">p&lt;0.001</text>
<line x1="250.60" y1="233.70" x2="265.10" y2="233.70" stroke="#222" stroke-width="0.75"/>
<text x="265.20" y="221.70" font-size="5.00" text-anchor="middle" fill="#222">p=0.006</text>
<line x1="250.60" y1="224.30" x2="280.00" y2="224.30" stroke="#222" stroke-width="0.75"/>
<text x="279.40" y="213.60" font-size="5.00" text-anchor="middle" fill="#222">p&lt;0.001</text>
<line x1="265.10" y1="216.60" x2="294.50" y2="216.60" stroke="#222" stroke-width="0.75"/>
<text x="287.00" y="232.50" font-size="5.00" text-anchor="middle" fill="#222">p&lt;0.001</text>
<line x1="280.00" y1="233.70" x2="294.50" y2="233.70" stroke="#222" stroke-width="0.75"/>
<text x="326.00" y="233.00" font-size="5.00" text-anchor="middle" fill="#222">p=0.003</text>
<line x1="318.40" y1="233.90" x2="332.70" y2="233.90" stroke="#222" stroke-width="0.75"/>
<text x="333.30" y="222.20" font-size="5.00" text-anchor="middle" fill="#222">p=0.056</text>
<line x1="318.40" y1="224.60" x2="348.30" y2="224.60" stroke="#222" stroke-width="0.75"/>
<text x="348.10" y="214.10" font-size="5.00" text-anchor="middle" fill="#222">p&lt;0.001</text>
<line x1="333.20" y1="216.80" x2="362.90" y2="216.80" stroke="#222" stroke-width="0.75"/>
<text x="420.60" y="65.70" font-size="8.75" text-anchor="end" fill="#1a1a1a">Ad-<tspan font-style="italic">EGFP</tspan></text>
<circle cx="432.60" cy="62.90" r="2.80" fill="#000"/>
<circle cx="450.70" cy="62.90" r="2.50" fill="#fff" stroke="#111" stroke-width="0.7"/>
<circle cx="469.00" cy="62.90" r="2.80" fill="#000"/>
<circle cx="486.80" cy="62.90" r="2.50" fill="#fff" stroke="#111" stroke-width="0.7"/>
<text x="420.60" y="78.80" font-size="8.75" text-anchor="end" fill="#1a1a1a">Ad-<tspan font-style="italic" letter-spacing="-0.2">Armh4</tspan></text>
<circle cx="432.60" cy="76.00" r="2.50" fill="#fff" stroke="#111" stroke-width="0.7"/>
<circle cx="450.70" cy="76.00" r="2.80" fill="#000"/>
<circle cx="469.00" cy="76.00" r="2.50" fill="#fff" stroke="#111" stroke-width="0.7"/>
<circle cx="486.80" cy="76.00" r="2.80" fill="#000"/>
<text x="420.60" y="92.10" font-size="8.75" text-anchor="end" fill="#1a1a1a">PPP</text>
<circle cx="432.60" cy="89.30" r="2.50" fill="#fff" stroke="#111" stroke-width="0.7"/>
<circle cx="450.70" cy="89.30" r="2.50" fill="#fff" stroke="#111" stroke-width="0.7"/>
<circle cx="469.00" cy="89.30" r="2.80" fill="#000"/>
<circle cx="486.80" cy="89.30" r="2.80" fill="#000"/>
<clipPath id="c13"><rect x="423.70" y="95.30" width="71.70" height="15.10"/></clipPath>
<rect x="423.70" y="95.30" width="71.70" height="15.10" fill="#d6d6d6"/>
<g clip-path="url(#c13)"><g filter="url(#bl)">
<rect x="425.67" y="101.66" width="13.86" height="2.48" rx="4.16" ry="1.24" fill="#000" fill-opacity="0.42"/>
<rect x="443.18" y="101.00" width="15.03" height="3.80" rx="4.51" ry="1.90" fill="#000" fill-opacity="1.00"/>
<rect x="462.19" y="101.78" width="13.62" height="2.24" rx="4.08" ry="1.12" fill="#000" fill-opacity="0.30"/>
<rect x="479.49" y="101.46" width="14.63" height="2.88" rx="4.39" ry="1.44" fill="#000" fill-opacity="0.92"/>
</g></g>
<rect x="423.70" y="95.30" width="71.70" height="15.10" fill="none" stroke="#4a4646" stroke-width="0.9"/>
<clipPath id="c14"><rect x="423.70" y="112.90" width="71.70" height="16.80"/></clipPath>
<rect x="423.70" y="112.90" width="71.70" height="16.80" fill="#dedede"/>
<g clip-path="url(#c14)"><g filter="url(#bl)">
<rect x="425.13" y="116.82" width="14.93" height="3.17" rx="4.48" ry="1.58" fill="#000" fill-opacity="1.00"/>
<rect x="443.34" y="117.14" width="14.73" height="2.52" rx="4.42" ry="1.26" fill="#000" fill-opacity="0.98"/>
<rect x="461.53" y="116.82" width="14.93" height="3.17" rx="4.48" ry="1.58" fill="#000" fill-opacity="1.00"/>
<rect x="479.33" y="116.82" width="14.93" height="3.17" rx="4.48" ry="1.58" fill="#000" fill-opacity="1.00"/>
<rect x="425.24" y="124.05" width="14.73" height="2.91" rx="4.42" ry="1.46" fill="#000" fill-opacity="0.98"/>
<rect x="443.89" y="124.38" width="13.62" height="2.24" rx="4.08" ry="1.12" fill="#000" fill-opacity="0.30"/>
<rect x="461.53" y="123.82" width="14.93" height="3.37" rx="4.48" ry="1.68" fill="#000" fill-opacity="1.00"/>
<rect x="479.59" y="124.28" width="14.42" height="2.44" rx="4.33" ry="1.22" fill="#000" fill-opacity="0.80"/>
</g></g>
<rect x="423.70" y="112.90" width="71.70" height="16.80" fill="none" stroke="#4a4646" stroke-width="0.9"/>
<clipPath id="c15"><rect x="423.70" y="132.30" width="71.70" height="14.00"/></clipPath>
<rect x="423.70" y="132.30" width="71.70" height="14.00" fill="#d6d6d6"/>
<g clip-path="url(#c15)"><g filter="url(#bl)">
<rect x="423.96" y="137.50" width="17.29" height="4.00" rx="2.00" ry="2.00" fill="#000" fill-opacity="1.00"/>
<rect x="442.06" y="137.50" width="17.29" height="4.00" rx="2.00" ry="2.00" fill="#000" fill-opacity="1.00"/>
<rect x="460.36" y="137.50" width="17.29" height="4.00" rx="2.00" ry="2.00" fill="#000" fill-opacity="1.00"/>
<rect x="478.16" y="137.50" width="17.29" height="4.00" rx="2.00" ry="2.00" fill="#000" fill-opacity="1.00"/>
</g></g>
<rect x="423.70" y="132.30" width="71.70" height="14.00" fill="none" stroke="#4a4646" stroke-width="0.9"/>
<text x="421.30" y="106.40" font-size="8.60" text-anchor="end" fill="#1a1a1a">P62</text>
<text x="419.70" y="118.20" font-size="8.60" text-anchor="end" fill="#1a1a1a">LC3B I</text>
<text x="421.30" y="128.40" font-size="8.60" text-anchor="end" fill="#1a1a1a">LC3B II</text>
<text x="421.30" y="142.60" font-size="8.60" text-anchor="end" fill="#1a1a1a">GAPDH</text>
<text x="501.60" y="84.40" font-size="5.30" text-anchor="middle" fill="#1a1a1a">MW</text>
<text x="502.30" y="90.40" font-size="5.30" text-anchor="middle" fill="#1a1a1a">(kDa)</text>
<line x1="495.40" y1="100.10" x2="497.90" y2="100.10" stroke="#222" stroke-width="0.75"/>
<text x="499.60" y="102.60" font-size="7.05" text-anchor="start" fill="#1a1a1a">70</text>
<line x1="495.40" y1="108.90" x2="497.90" y2="108.90" stroke="#222" stroke-width="0.75"/>
<text x="499.60" y="111.40" font-size="7.05" text-anchor="start" fill="#1a1a1a">55</text>
<line x1="495.40" y1="121.70" x2="497.90" y2="121.70" stroke="#222" stroke-width="0.75"/>
<text x="499.60" y="124.20" font-size="7.05" text-anchor="start" fill="#1a1a1a">15</text>
<line x1="495.40" y1="133.80" x2="497.90" y2="133.80" stroke="#222" stroke-width="0.75"/>
<text x="499.60" y="136.30" font-size="7.05" text-anchor="start" fill="#1a1a1a">40</text>
<line x1="495.40" y1="145.80" x2="497.90" y2="145.80" stroke="#222" stroke-width="0.75"/>
<text x="499.60" y="148.30" font-size="7.05" text-anchor="start" fill="#1a1a1a">35</text>
<rect x="547.75" y="98.45" width="9.10" height="47.95" fill="#ffffff" stroke="#1a1a1a" stroke-width="0.8"/>
<circle cx="549.30" cy="97.67" r="1.25" fill="#000"/>
<circle cx="552.30" cy="98.29" r="1.25" fill="#000"/>
<circle cx="555.30" cy="98.73" r="1.25" fill="#000"/>
<rect x="562.95" y="77.20" width="9.10" height="69.20" fill="#ed1c24" stroke="#1a1a1a" stroke-width="0.8"/>
<circle cx="564.70" cy="76.51" r="1.25" fill="#000"/>
<circle cx="567.50" cy="76.51" r="1.25" fill="#000"/>
<circle cx="570.50" cy="76.70" r="1.25" fill="#000"/>
<rect x="577.85" y="102.94" width="9.10" height="43.46" fill="#808080" stroke="#1a1a1a" stroke-width="0.8"/>
<circle cx="579.40" cy="101.29" r="1.25" fill="#000"/>
<circle cx="582.40" cy="102.74" r="1.25" fill="#000"/>
<circle cx="585.40" cy="103.17" r="1.25" fill="#000"/>
<rect x="592.75" y="84.44" width="9.10" height="61.96" fill="#f7941d" stroke="#1a1a1a" stroke-width="0.8"/>
<circle cx="594.30" cy="82.84" r="1.25" fill="#000"/>
<circle cx="597.30" cy="83.71" r="1.25" fill="#000"/>
<circle cx="600.40" cy="84.96" r="1.25" fill="#000"/>
<rect x="617.35" y="98.45" width="9.10" height="47.95" fill="#ffffff" stroke="#1a1a1a" stroke-width="0.8"/>
<line x1="621.90" y1="96.65" x2="621.90" y2="99.55" stroke="#1a1a1a" stroke-width="0.70"/>
<line x1="619.16" y1="96.65" x2="624.64" y2="96.65" stroke="#1a1a1a" stroke-width="0.70"/>
<line x1="619.16" y1="99.55" x2="624.64" y2="99.55" stroke="#1a1a1a" stroke-width="0.70"/>
<circle cx="621.90" cy="95.54" r="1.25" fill="#000"/>
<circle cx="619.40" cy="98.10" r="1.25" fill="#000"/>
<circle cx="624.40" cy="100.23" r="1.25" fill="#000"/>
<rect x="632.35" y="117.05" width="9.10" height="29.35" fill="#ed1c24" stroke="#1a1a1a" stroke-width="0.8"/>
<circle cx="633.90" cy="115.49" r="1.25" fill="#000"/>
<circle cx="636.90" cy="116.74" r="1.25" fill="#000"/>
<circle cx="639.90" cy="117.18" r="1.25" fill="#000"/>
<rect x="647.05" y="89.03" width="9.10" height="57.37" fill="#808080" stroke="#1a1a1a" stroke-width="0.8"/>
<line x1="651.60" y1="86.99" x2="651.60" y2="90.37" stroke="#1a1a1a" stroke-width="0.70"/>
<line x1="648.86" y1="86.99" x2="654.34" y2="86.99" stroke="#1a1a1a" stroke-width="0.70"/>
<line x1="648.86" y1="90.37" x2="654.34" y2="90.37" stroke="#1a1a1a" stroke-width="0.70"/>
<circle cx="651.60" cy="85.40" r="1.25" fill="#000"/>
<circle cx="649.10" cy="88.58" r="1.25" fill="#000"/>
<circle cx="654.10" cy="90.66" r="1.25" fill="#000"/>
<rect x="661.95" y="105.12" width="9.10" height="41.28" fill="#f7941d" stroke="#1a1a1a" stroke-width="0.8"/>
<line x1="666.50" y1="103.70" x2="666.50" y2="105.83" stroke="#1a1a1a" stroke-width="0.70"/>
<line x1="663.76" y1="103.70" x2="669.24" y2="103.70" stroke="#1a1a1a" stroke-width="0.70"/>
<line x1="663.76" y1="105.83" x2="669.24" y2="105.83" stroke="#1a1a1a" stroke-width="0.70"/>
<circle cx="666.50" cy="102.74" r="1.25" fill="#000"/>
<circle cx="664.00" cy="104.86" r="1.25" fill="#000"/>
<circle cx="669.00" cy="106.17" r="1.25" fill="#000"/>
<line x1="543.10" y1="49.40" x2="543.10" y2="146.80" stroke="#1a1a1a" stroke-width="0.85"/>
<line x1="542.70" y1="146.40" x2="677.60" y2="146.40" stroke="#1a1a1a" stroke-width="0.85"/>
<line x1="537.60" y1="146.40" x2="543.10" y2="146.40" stroke="#1a1a1a" stroke-width="0.85"/>
<text x="536.30" y="149.40" font-size="8.40" text-anchor="end" fill="#1a1a1a">0.0</text>
<line x1="537.60" y1="122.25" x2="543.10" y2="122.25" stroke="#1a1a1a" stroke-width="0.85"/>
<text x="536.30" y="125.25" font-size="8.40" text-anchor="end" fill="#1a1a1a">0.5</text>
<line x1="537.60" y1="98.10" x2="543.10" y2="98.10" stroke="#1a1a1a" stroke-width="0.85"/>
<text x="536.30" y="101.10" font-size="8.40" text-anchor="end" fill="#1a1a1a">1.0</text>
<line x1="537.60" y1="73.95" x2="543.10" y2="73.95" stroke="#1a1a1a" stroke-width="0.85"/>
<text x="536.30" y="76.95" font-size="8.40" text-anchor="end" fill="#1a1a1a">1.5</text>
<line x1="537.60" y1="49.80" x2="543.10" y2="49.80" stroke="#1a1a1a" stroke-width="0.85"/>
<text x="536.30" y="52.80" font-size="8.40" text-anchor="end" fill="#1a1a1a">2.0</text>
<text transform="translate(518.20,98.00) rotate(-90)" font-size="8.40" text-anchor="middle" fill="#1a1a1a">Fold change</text>
<line x1="574.50" y1="146.40" x2="574.50" y2="151.00" stroke="#1a1a1a" stroke-width="0.85"/>
<text x="574.30" y="159.20" font-size="8.60" text-anchor="middle" fill="#1a1a1a">P62</text>
<line x1="643.90" y1="146.40" x2="643.90" y2="151.00" stroke="#1a1a1a" stroke-width="0.85"/>
<text x="642.20" y="159.20" font-size="8.60" text-anchor="middle" fill="#1a1a1a">LC3B II/I</text>
<text x="559.20" y="62.50" font-size="5.00" text-anchor="middle" fill="#222">p&lt;0.001</text>
<line x1="552.00" y1="64.40" x2="567.00" y2="64.40" stroke="#222" stroke-width="0.75"/>
<text x="566.50" y="54.00" font-size="5.00" text-anchor="middle" fill="#222">p=0.001</text>
<line x1="552.00" y1="56.50" x2="581.70" y2="56.50" stroke="#222" stroke-width="0.75"/>
<text x="581.30" y="47.30" font-size="5.00" text-anchor="middle" fill="#222">p&lt;0.001</text>
<line x1="566.90" y1="49.30" x2="596.70" y2="49.30" stroke="#222" stroke-width="0.75"/>
<text x="589.20" y="62.50" font-size="5.00" text-anchor="middle" fill="#222">p&lt;0.001</text>
<line x1="581.70" y1="64.40" x2="597.20" y2="64.40" stroke="#222" stroke-width="0.75"/>
<text x="628.40" y="62.50" font-size="5.00" text-anchor="middle" fill="#222">p&lt;0.001</text>
<line x1="621.50" y1="64.40" x2="636.30" y2="64.40" stroke="#222" stroke-width="0.75"/>
<text x="636.00" y="54.00" font-size="5.00" text-anchor="middle" fill="#222">p=0.005</text>
<line x1="621.50" y1="56.50" x2="650.70" y2="56.50" stroke="#222" stroke-width="0.75"/>
<text x="650.60" y="47.30" font-size="5.00" text-anchor="middle" fill="#222">p=0.001</text>
<line x1="636.30" y1="49.30" x2="666.00" y2="49.30" stroke="#222" stroke-width="0.75"/>
<text x="658.00" y="62.50" font-size="5.00" text-anchor="middle" fill="#222">p&lt;0.001</text>
<line x1="651.10" y1="64.40" x2="666.40" y2="64.40" stroke="#222" stroke-width="0.75"/>
<text x="419.90" y="227.40" font-size="8.75" text-anchor="end" fill="#1a1a1a">Ad-<tspan font-style="italic">EGFP</tspan></text>
<circle cx="431.80" cy="224.60" r="2.80" fill="#000"/>
<circle cx="449.90" cy="224.60" r="2.50" fill="#fff" stroke="#111" stroke-width="0.7"/>
<circle cx="468.20" cy="224.60" r="2.80" fill="#000"/>
<circle cx="486.10" cy="224.60" r="2.50" fill="#fff" stroke="#111" stroke-width="0.7"/>
<text x="419.90" y="240.00" font-size="8.75" text-anchor="end" fill="#1a1a1a">Ad-<tspan font-style="italic" letter-spacing="-0.2">Armh4</tspan></text>
<circle cx="431.80" cy="237.20" r="2.50" fill="#fff" stroke="#111" stroke-width="0.7"/>
<circle cx="449.90" cy="237.20" r="2.80" fill="#000"/>
<circle cx="468.20" cy="237.20" r="2.50" fill="#fff" stroke="#111" stroke-width="0.7"/>
<circle cx="486.10" cy="237.20" r="2.80" fill="#000"/>
<text x="419.90" y="253.10" font-size="8.75" text-anchor="end" fill="#1a1a1a">FA</text>
<circle cx="431.80" cy="250.30" r="2.50" fill="#fff" stroke="#111" stroke-width="0.7"/>
<circle cx="449.90" cy="250.30" r="2.50" fill="#fff" stroke="#111" stroke-width="0.7"/>
<circle cx="468.20" cy="250.30" r="2.80" fill="#000"/>
<circle cx="486.10" cy="250.30" r="2.80" fill="#000"/>
<clipPath id="c16"><rect x="422.40" y="257.30" width="72.20" height="15.60"/></clipPath>
<rect x="422.40" y="257.30" width="72.20" height="15.60" fill="#c2c2c2"/>
<g clip-path="url(#c16)"><g filter="url(#bl)">
<rect x="424.80" y="264.94" width="14.01" height="2.33" rx="4.20" ry="1.16" fill="#000" fill-opacity="0.48"/>
<rect x="442.57" y="264.66" width="14.65" height="2.88" rx="4.40" ry="1.44" fill="#000" fill-opacity="0.92"/>
<rect x="461.23" y="265.03" width="13.94" height="2.14" rx="4.18" ry="1.07" fill="#000" fill-opacity="0.45"/>
<rect x="478.89" y="264.79" width="14.41" height="2.62" rx="4.32" ry="1.31" fill="#000" fill-opacity="0.78"/>
</g></g>
<rect x="422.40" y="257.30" width="72.20" height="15.60" fill="none" stroke="#4a4646" stroke-width="0.9"/>
<clipPath id="c17"><rect x="422.40" y="274.90" width="72.20" height="16.80"/></clipPath>
<rect x="422.40" y="274.90" width="72.20" height="16.80" fill="#d6d6d6"/>
<g clip-path="url(#c17)"><g filter="url(#bl)">
<rect x="424.27" y="278.00" width="15.06" height="3.60" rx="4.52" ry="1.80" fill="#000" fill-opacity="1.00"/>
<rect x="442.42" y="278.22" width="14.96" height="3.17" rx="4.49" ry="1.58" fill="#000" fill-opacity="1.00"/>
<rect x="460.70" y="278.11" width="15.00" height="3.38" rx="4.50" ry="1.69" fill="#000" fill-opacity="1.00"/>
<rect x="478.67" y="278.33" width="14.86" height="2.94" rx="4.46" ry="1.47" fill="#000" fill-opacity="1.00"/>
<rect x="424.37" y="285.63" width="14.86" height="3.14" rx="4.46" ry="1.57" fill="#000" fill-opacity="1.00"/>
<rect x="442.88" y="286.03" width="14.05" height="2.34" rx="4.21" ry="1.17" fill="#000" fill-opacity="0.50"/>
<rect x="460.77" y="285.63" width="14.86" height="3.14" rx="4.46" ry="1.57" fill="#000" fill-opacity="1.00"/>
<rect x="479.28" y="286.17" width="13.64" height="2.06" rx="4.09" ry="1.03" fill="#000" fill-opacity="0.30"/>
</g></g>
<rect x="422.40" y="274.90" width="72.20" height="16.80" fill="none" stroke="#4a4646" stroke-width="0.9"/>
<clipPath id="c18"><rect x="422.40" y="294.20" width="72.20" height="13.90"/></clipPath>
<rect x="422.40" y="294.20" width="72.20" height="13.90" fill="#cacaca"/>
<g clip-path="url(#c18)"><g filter="url(#bl)">
<rect x="423.14" y="299.00" width="17.32" height="4.00" rx="2.00" ry="2.00" fill="#000" fill-opacity="1.00"/>
<rect x="441.24" y="299.00" width="17.32" height="4.00" rx="2.00" ry="2.00" fill="#000" fill-opacity="1.00"/>
<rect x="459.54" y="299.00" width="17.32" height="4.00" rx="2.00" ry="2.00" fill="#000" fill-opacity="1.00"/>
<rect x="477.44" y="299.00" width="17.32" height="4.00" rx="2.00" ry="2.00" fill="#000" fill-opacity="1.00"/>
</g></g>
<rect x="422.40" y="294.20" width="72.20" height="13.90" fill="none" stroke="#4a4646" stroke-width="0.9"/>
<text x="420.30" y="268.70" font-size="8.60" text-anchor="end" fill="#1a1a1a">P62</text>
<text x="420.30" y="280.80" font-size="8.60" text-anchor="end" fill="#1a1a1a">LC3B I</text>
<text x="420.30" y="290.90" font-size="8.60" text-anchor="end" fill="#1a1a1a">LC3B II</text>
<text x="420.30" y="304.70" font-size="8.60" text-anchor="end" fill="#1a1a1a">GAPDH</text>
<text x="501.30" y="246.10" font-size="5.30" text-anchor="middle" fill="#1a1a1a">MW</text>
<text x="502.00" y="251.90" font-size="5.30" text-anchor="middle" fill="#1a1a1a">(kDa)</text>
<line x1="494.60" y1="261.80" x2="497.10" y2="261.80" stroke="#222" stroke-width="0.75"/>
<text x="498.80" y="264.30" font-size="7.05" text-anchor="start" fill="#1a1a1a">70</text>
<line x1="494.60" y1="270.10" x2="497.10" y2="270.10" stroke="#222" stroke-width="0.75"/>
<text x="498.80" y="272.60" font-size="7.05" text-anchor="start" fill="#1a1a1a">55</text>
<line x1="494.60" y1="283.40" x2="497.10" y2="283.40" stroke="#222" stroke-width="0.75"/>
<text x="498.80" y="285.90" font-size="7.05" text-anchor="start" fill="#1a1a1a">15</text>
<line x1="494.60" y1="295.50" x2="497.10" y2="295.50" stroke="#222" stroke-width="0.75"/>
<text x="498.80" y="298.00" font-size="7.05" text-anchor="start" fill="#1a1a1a">40</text>
<line x1="494.60" y1="307.60" x2="497.10" y2="307.60" stroke="#222" stroke-width="0.75"/>
<text x="498.80" y="310.10" font-size="7.05" text-anchor="start" fill="#1a1a1a">35</text>
<rect x="547.35" y="263.44" width="8.90" height="47.66" fill="#ffffff" stroke="#1a1a1a" stroke-width="0.8"/>
<line x1="551.80" y1="261.87" x2="551.80" y2="264.30" stroke="#1a1a1a" stroke-width="0.70"/>
<line x1="549.11" y1="261.87" x2="554.49" y2="261.87" stroke="#1a1a1a" stroke-width="0.70"/>
<line x1="549.11" y1="264.30" x2="554.49" y2="264.30" stroke="#1a1a1a" stroke-width="0.70"/>
<circle cx="551.80" cy="260.56" r="1.25" fill="#000"/>
<circle cx="549.30" cy="263.57" r="1.25" fill="#000"/>
<circle cx="554.30" cy="264.35" r="1.25" fill="#000"/>
<rect x="562.55" y="253.98" width="8.90" height="57.12" fill="#e60012" stroke="#1a1a1a" stroke-width="0.8"/>
<line x1="567.00" y1="252.17" x2="567.00" y2="255.08" stroke="#1a1a1a" stroke-width="0.70"/>
<line x1="564.31" y1="252.17" x2="569.69" y2="252.17" stroke="#1a1a1a" stroke-width="0.70"/>
<line x1="564.31" y1="255.08" x2="569.69" y2="255.08" stroke="#1a1a1a" stroke-width="0.70"/>
<circle cx="567.00" cy="250.38" r="1.25" fill="#000"/>
<circle cx="564.50" cy="254.21" r="1.25" fill="#000"/>
<circle cx="569.50" cy="255.33" r="1.25" fill="#000"/>
<rect x="577.25" y="261.50" width="8.90" height="49.60" fill="#808080" stroke="#1a1a1a" stroke-width="0.8"/>
<line x1="581.70" y1="259.45" x2="581.70" y2="262.84" stroke="#1a1a1a" stroke-width="0.70"/>
<line x1="579.01" y1="259.45" x2="584.39" y2="259.45" stroke="#1a1a1a" stroke-width="0.70"/>
<line x1="579.01" y1="262.84" x2="584.39" y2="262.84" stroke="#1a1a1a" stroke-width="0.70"/>
<circle cx="581.70" cy="257.75" r="1.25" fill="#000"/>
<circle cx="579.20" cy="262.12" r="1.25" fill="#000"/>
<circle cx="584.20" cy="263.09" r="1.25" fill="#000"/>
<rect x="592.25" y="257.62" width="8.90" height="53.49" fill="#f39800" stroke="#1a1a1a" stroke-width="0.8"/>
<line x1="596.70" y1="255.96" x2="596.70" y2="258.57" stroke="#1a1a1a" stroke-width="0.70"/>
<line x1="594.01" y1="255.96" x2="599.39" y2="255.96" stroke="#1a1a1a" stroke-width="0.70"/>
<line x1="594.01" y1="258.57" x2="599.39" y2="258.57" stroke="#1a1a1a" stroke-width="0.70"/>
<circle cx="596.70" cy="254.60" r="1.25" fill="#000"/>
<circle cx="594.20" cy="257.75" r="1.25" fill="#000"/>
<circle cx="599.20" cy="258.87" r="1.25" fill="#000"/>
<rect x="616.95" y="263.44" width="8.90" height="47.66" fill="#ffffff" stroke="#1a1a1a" stroke-width="0.8"/>
<line x1="621.40" y1="261.92" x2="621.40" y2="264.25" stroke="#1a1a1a" stroke-width="0.70"/>
<line x1="618.71" y1="261.92" x2="624.09" y2="261.92" stroke="#1a1a1a" stroke-width="0.70"/>
<line x1="618.71" y1="264.25" x2="624.09" y2="264.25" stroke="#1a1a1a" stroke-width="0.70"/>
<circle cx="621.40" cy="260.56" r="1.25" fill="#000"/>
<circle cx="618.90" cy="263.09" r="1.25" fill="#000"/>
<circle cx="623.90" cy="264.35" r="1.25" fill="#000"/>
<rect x="631.75" y="270.71" width="8.90" height="40.39" fill="#e60012" stroke="#1a1a1a" stroke-width="0.8"/>
<circle cx="633.20" cy="269.00" r="1.25" fill="#000"/>
<circle cx="636.20" cy="270.31" r="1.25" fill="#000"/>
<circle cx="639.20" cy="271.14" r="1.25" fill="#000"/>
<rect x="646.65" y="259.56" width="8.90" height="51.54" fill="#808080" stroke="#1a1a1a" stroke-width="0.8"/>
<line x1="651.10" y1="257.94" x2="651.10" y2="260.47" stroke="#1a1a1a" stroke-width="0.70"/>
<line x1="648.41" y1="257.94" x2="653.79" y2="257.94" stroke="#1a1a1a" stroke-width="0.70"/>
<line x1="648.41" y1="260.47" x2="653.79" y2="260.47" stroke="#1a1a1a" stroke-width="0.70"/>
<circle cx="651.10" cy="256.78" r="1.25" fill="#000"/>
<circle cx="648.60" cy="259.50" r="1.25" fill="#000"/>
<circle cx="653.80" cy="261.00" r="1.25" fill="#000"/>
<rect x="661.45" y="276.05" width="8.90" height="35.05" fill="#f39800" stroke="#1a1a1a" stroke-width="0.8"/>
<circle cx="662.90" cy="274.34" r="1.25" fill="#000"/>
<circle cx="665.90" cy="275.79" r="1.25" fill="#000"/>
<circle cx="668.90" cy="276.42" r="1.25" fill="#000"/>
<line x1="542.60" y1="213.70" x2="542.60" y2="311.50" stroke="#1a1a1a" stroke-width="0.85"/>
<line x1="542.20" y1="311.10" x2="675.50" y2="311.10" stroke="#1a1a1a" stroke-width="0.85"/>
<line x1="537.10" y1="311.10" x2="542.60" y2="311.10" stroke="#1a1a1a" stroke-width="0.85"/>
<text x="535.80" y="314.10" font-size="8.40" text-anchor="end" fill="#1a1a1a">0.0</text>
<line x1="537.10" y1="286.85" x2="542.60" y2="286.85" stroke="#1a1a1a" stroke-width="0.85"/>
<text x="535.80" y="289.85" font-size="8.40" text-anchor="end" fill="#1a1a1a">0.5</text>
<line x1="537.10" y1="262.60" x2="542.60" y2="262.60" stroke="#1a1a1a" stroke-width="0.85"/>
<text x="535.80" y="265.60" font-size="8.40" text-anchor="end" fill="#1a1a1a">1.0</text>
<line x1="537.10" y1="238.35" x2="542.60" y2="238.35" stroke="#1a1a1a" stroke-width="0.85"/>
<text x="535.80" y="241.35" font-size="8.40" text-anchor="end" fill="#1a1a1a">1.5</text>
<line x1="537.10" y1="214.10" x2="542.60" y2="214.10" stroke="#1a1a1a" stroke-width="0.85"/>
<text x="535.80" y="217.10" font-size="8.40" text-anchor="end" fill="#1a1a1a">2.0</text>
<text transform="translate(518.20,263.00) rotate(-90)" font-size="8.40" text-anchor="middle" fill="#1a1a1a">Fold change</text>
<line x1="573.95" y1="311.10" x2="573.95" y2="315.70" stroke="#1a1a1a" stroke-width="0.85"/>
<text x="574.30" y="325.00" font-size="8.60" text-anchor="middle" fill="#1a1a1a">P62</text>
<line x1="643.35" y1="311.10" x2="643.35" y2="315.70" stroke="#1a1a1a" stroke-width="0.85"/>
<text x="644.40" y="325.00" font-size="8.60" text-anchor="middle" fill="#1a1a1a">LC3B II/I</text>
<text x="559.40" y="228.60" font-size="5.00" text-anchor="middle" fill="#222">p=0.009</text>
<line x1="552.00" y1="230.40" x2="566.90" y2="230.40" stroke="#222" stroke-width="0.75"/>
<text x="626.30" y="228.60" font-size="5.00" text-anchor="middle" fill="#222">p=0.005</text>
<line x1="621.50" y1="230.40" x2="633.10" y2="230.40" stroke="#222" stroke-width="0.75"/>
<text x="650.70" y="219.70" font-size="5.00" text-anchor="middle" fill="#222">p=0.045</text>
<line x1="636.30" y1="222.40" x2="666.00" y2="222.40" stroke="#222" stroke-width="0.75"/>
<text x="658.00" y="228.60" font-size="5.00" text-anchor="middle" fill="#222">p=0.001</text>
<line x1="651.10" y1="230.40" x2="666.00" y2="230.40" stroke="#222" stroke-width="0.75"/>
<text x="51.30" y="354.40" font-size="8.75" text-anchor="end" fill="#1a1a1a">Ad-<tspan font-style="italic">EGFP</tspan></text>
<circle cx="64.00" cy="351.60" r="2.80" fill="#000"/>
<circle cx="80.87" cy="351.60" r="2.80" fill="#000"/>
<circle cx="97.74" cy="351.60" r="2.80" fill="#000"/>
<circle cx="114.61" cy="351.60" r="2.80" fill="#000"/>
<circle cx="131.48" cy="351.60" r="2.80" fill="#000"/>
<circle cx="148.35" cy="351.60" r="2.80" fill="#000"/>
<circle cx="165.22" cy="351.60" r="2.50" fill="#fff" stroke="#111" stroke-width="0.7"/>
<circle cx="182.09" cy="351.60" r="2.50" fill="#fff" stroke="#111" stroke-width="0.7"/>
<circle cx="198.96" cy="351.60" r="2.50" fill="#fff" stroke="#111" stroke-width="0.7"/>
<circle cx="215.83" cy="351.60" r="2.50" fill="#fff" stroke="#111" stroke-width="0.7"/>
<circle cx="232.70" cy="351.60" r="2.50" fill="#fff" stroke="#111" stroke-width="0.7"/>
<circle cx="249.57" cy="351.60" r="2.50" fill="#fff" stroke="#111" stroke-width="0.7"/>
<text x="51.30" y="367.60" font-size="8.75" text-anchor="end" fill="#1a1a1a">Ad-<tspan font-style="italic" letter-spacing="-0.2">Armh4</tspan></text>
<circle cx="64.00" cy="364.80" r="2.50" fill="#fff" stroke="#111" stroke-width="0.7"/>
<circle cx="80.87" cy="364.80" r="2.50" fill="#fff" stroke="#111" stroke-width="0.7"/>
<circle cx="97.74" cy="364.80" r="2.50" fill="#fff" stroke="#111" stroke-width="0.7"/>
<circle cx="114.61" cy="364.80" r="2.50" fill="#fff" stroke="#111" stroke-width="0.7"/>
<circle cx="131.48" cy="364.80" r="2.50" fill="#fff" stroke="#111" stroke-width="0.7"/>
<circle cx="148.35" cy="364.80" r="2.50" fill="#fff" stroke="#111" stroke-width="0.7"/>
<circle cx="165.22" cy="364.80" r="2.80" fill="#000"/>
<circle cx="182.09" cy="364.80" r="2.80" fill="#000"/>
<circle cx="198.96" cy="364.80" r="2.80" fill="#000"/>
<circle cx="215.83" cy="364.80" r="2.80" fill="#000"/>
<circle cx="232.70" cy="364.80" r="2.80" fill="#000"/>
<circle cx="249.57" cy="364.80" r="2.80" fill="#000"/>
<text x="51.30" y="380.10" font-size="8.75" text-anchor="end" fill="#1a1a1a">si<tspan font-style="italic">Neg</tspan></text>
<circle cx="64.00" cy="377.30" r="2.80" fill="#000"/>
<circle cx="80.87" cy="377.30" r="2.80" fill="#000"/>
<circle cx="97.74" cy="377.30" r="2.80" fill="#000"/>
<circle cx="114.61" cy="377.30" r="2.50" fill="#fff" stroke="#111" stroke-width="0.7"/>
<circle cx="131.48" cy="377.30" r="2.50" fill="#fff" stroke="#111" stroke-width="0.7"/>
<circle cx="148.35" cy="377.30" r="2.50" fill="#fff" stroke="#111" stroke-width="0.7"/>
<circle cx="165.22" cy="377.30" r="2.80" fill="#000"/>
<circle cx="182.09" cy="377.30" r="2.80" fill="#000"/>
<circle cx="198.96" cy="377.30" r="2.80" fill="#000"/>
<circle cx="215.83" cy="377.30" r="2.50" fill="#fff" stroke="#111" stroke-width="0.7"/>
<circle cx="232.70" cy="377.30" r="2.50" fill="#fff" stroke="#111" stroke-width="0.7"/>
<circle cx="249.57" cy="377.30" r="2.50" fill="#fff" stroke="#111" stroke-width="0.7"/>
<text x="51.30" y="392.90" font-size="8.75" text-anchor="end" fill="#1a1a1a">si<tspan font-style="italic">Igf1r</tspan></text>
<circle cx="64.00" cy="390.10" r="2.50" fill="#fff" stroke="#111" stroke-width="0.7"/>
<circle cx="80.87" cy="390.10" r="2.50" fill="#fff" stroke="#111" stroke-width="0.7"/>
<circle cx="97.74" cy="390.10" r="2.50" fill="#fff" stroke="#111" stroke-width="0.7"/>
<circle cx="114.61" cy="390.10" r="2.80" fill="#000"/>
<circle cx="131.48" cy="390.10" r="2.80" fill="#000"/>
<circle cx="148.35" cy="390.10" r="2.80" fill="#000"/>
<circle cx="165.22" cy="390.10" r="2.50" fill="#fff" stroke="#111" stroke-width="0.7"/>
<circle cx="182.09" cy="390.10" r="2.50" fill="#fff" stroke="#111" stroke-width="0.7"/>
<circle cx="198.96" cy="390.10" r="2.50" fill="#fff" stroke="#111" stroke-width="0.7"/>
<circle cx="215.83" cy="390.10" r="2.80" fill="#000"/>
<circle cx="232.70" cy="390.10" r="2.80" fill="#000"/>
<circle cx="249.57" cy="390.10" r="2.80" fill="#000"/>
<clipPath id="c19"><rect x="53.30" y="397.90" width="205.40" height="17.10"/></clipPath>
<rect x="53.30" y="397.90" width="205.40" height="17.10" fill="#cecece"/>
<g clip-path="url(#c19)"><g filter="url(#bl)">
<rect x="57.49" y="408.32" width="13.02" height="2.95" rx="3.91" ry="1.48" fill="#000" fill-opacity="1.00"/>
<rect x="74.40" y="408.34" width="12.95" height="2.93" rx="3.88" ry="1.46" fill="#000" fill-opacity="1.00"/>
<rect x="91.32" y="408.45" width="12.84" height="2.70" rx="3.85" ry="1.35" fill="#000" fill-opacity="0.94"/>
<rect x="108.30" y="408.58" width="12.63" height="2.44" rx="3.79" ry="1.22" fill="#000" fill-opacity="0.80"/>
<rect x="125.06" y="408.45" width="12.84" height="2.70" rx="3.85" ry="1.35" fill="#000" fill-opacity="0.94"/>
<rect x="141.90" y="408.44" width="12.89" height="2.72" rx="3.87" ry="1.36" fill="#000" fill-opacity="0.98"/>
<rect x="158.64" y="407.80" width="13.16" height="4.00" rx="3.95" ry="2.00" fill="#000" fill-opacity="1.00"/>
<rect x="175.51" y="407.80" width="13.16" height="4.00" rx="3.95" ry="2.00" fill="#000" fill-opacity="1.00"/>
<rect x="192.45" y="408.23" width="13.02" height="3.15" rx="3.91" ry="1.57" fill="#000" fill-opacity="1.00"/>
<rect x="209.43" y="408.46" width="12.80" height="2.69" rx="3.84" ry="1.34" fill="#000" fill-opacity="0.92"/>
<rect x="226.25" y="408.44" width="12.89" height="2.72" rx="3.87" ry="1.36" fill="#000" fill-opacity="0.98"/>
<rect x="243.26" y="408.48" width="12.63" height="2.63" rx="3.79" ry="1.32" fill="#000" fill-opacity="0.80"/>
</g></g>
<rect x="53.30" y="397.90" width="205.40" height="17.10" fill="none" stroke="#4a4646" stroke-width="0.9"/>
<clipPath id="c20"><rect x="53.30" y="417.30" width="205.40" height="15.20"/></clipPath>
<rect x="53.30" y="417.30" width="205.40" height="15.20" fill="#dadada"/>
<g clip-path="url(#c20)"><g filter="url(#bl)">
<rect x="56.95" y="428.32" width="14.10" height="3.16" rx="4.23" ry="1.58" fill="#000" fill-opacity="1.00"/>
<rect x="73.82" y="428.14" width="14.10" height="3.16" rx="4.23" ry="1.58" fill="#000" fill-opacity="1.00"/>
<rect x="90.69" y="427.96" width="14.10" height="3.16" rx="4.23" ry="1.58" fill="#000" fill-opacity="1.00"/>
<rect x="107.56" y="427.77" width="14.10" height="3.16" rx="4.23" ry="1.58" fill="#000" fill-opacity="1.00"/>
<rect x="124.43" y="427.59" width="14.10" height="3.16" rx="4.23" ry="1.58" fill="#000" fill-opacity="1.00"/>
<rect x="141.30" y="427.41" width="14.10" height="3.16" rx="4.23" ry="1.58" fill="#000" fill-opacity="1.00"/>
<rect x="158.17" y="427.23" width="14.10" height="3.16" rx="4.23" ry="1.58" fill="#000" fill-opacity="1.00"/>
<rect x="175.04" y="427.05" width="14.10" height="3.16" rx="4.23" ry="1.58" fill="#000" fill-opacity="1.00"/>
<rect x="191.91" y="426.86" width="14.10" height="3.16" rx="4.23" ry="1.58" fill="#000" fill-opacity="1.00"/>
<rect x="208.78" y="426.68" width="14.10" height="3.16" rx="4.23" ry="1.58" fill="#000" fill-opacity="1.00"/>
<rect x="225.65" y="426.50" width="14.10" height="3.16" rx="4.23" ry="1.58" fill="#000" fill-opacity="1.00"/>
<rect x="242.52" y="426.32" width="14.10" height="3.16" rx="4.23" ry="1.58" fill="#000" fill-opacity="1.00"/>
<rect x="55.92" y="421.77" width="16.17" height="2.45" rx="1.23" ry="1.23" fill="#000" fill-opacity="0.09"/>
<rect x="72.79" y="421.77" width="16.17" height="2.45" rx="1.23" ry="1.23" fill="#000" fill-opacity="0.09"/>
<rect x="89.66" y="421.77" width="16.17" height="2.45" rx="1.23" ry="1.23" fill="#000" fill-opacity="0.09"/>
<rect x="106.53" y="421.77" width="16.17" height="2.45" rx="1.23" ry="1.23" fill="#000" fill-opacity="0.09"/>
<rect x="123.40" y="421.77" width="16.17" height="2.45" rx="1.23" ry="1.23" fill="#000" fill-opacity="0.09"/>
<rect x="140.27" y="421.77" width="16.17" height="2.45" rx="1.23" ry="1.23" fill="#000" fill-opacity="0.09"/>
<rect x="157.14" y="421.77" width="16.17" height="2.45" rx="1.23" ry="1.23" fill="#000" fill-opacity="0.09"/>
<rect x="174.01" y="421.77" width="16.17" height="2.45" rx="1.23" ry="1.23" fill="#000" fill-opacity="0.09"/>
<rect x="190.88" y="421.77" width="16.17" height="2.45" rx="1.23" ry="1.23" fill="#000" fill-opacity="0.09"/>
<rect x="207.75" y="421.77" width="16.17" height="2.45" rx="1.23" ry="1.23" fill="#000" fill-opacity="0.09"/>
<rect x="224.62" y="421.77" width="16.17" height="2.45" rx="1.23" ry="1.23" fill="#000" fill-opacity="0.09"/>
<rect x="241.49" y="421.77" width="16.17" height="2.45" rx="1.23" ry="1.23" fill="#000" fill-opacity="0.09"/>
</g></g>
<rect x="53.30" y="417.30" width="205.40" height="15.20" fill="none" stroke="#4a4646" stroke-width="0.9"/>
<clipPath id="c21"><rect x="53.30" y="434.50" width="205.40" height="18.10"/></clipPath>
<rect x="53.30" y="434.50" width="205.40" height="18.10" fill="#cecece"/>
<g clip-path="url(#c21)"><g filter="url(#bl)">
<rect x="57.60" y="443.55" width="12.80" height="2.50" rx="3.84" ry="1.25" fill="#000" fill-opacity="0.92"/>
<rect x="74.40" y="443.43" width="12.95" height="2.73" rx="3.88" ry="1.37" fill="#000" fill-opacity="1.00"/>
<rect x="91.27" y="443.43" width="12.95" height="2.73" rx="3.88" ry="1.37" fill="#000" fill-opacity="1.00"/>
<rect x="108.38" y="443.70" width="12.45" height="2.21" rx="3.74" ry="1.10" fill="#000" fill-opacity="0.69"/>
<rect x="125.25" y="443.70" width="12.45" height="2.21" rx="3.74" ry="1.10" fill="#000" fill-opacity="0.69"/>
<rect x="142.08" y="443.68" width="12.54" height="2.23" rx="3.76" ry="1.12" fill="#000" fill-opacity="0.75"/>
<rect x="158.64" y="443.10" width="13.16" height="3.40" rx="3.95" ry="1.70" fill="#000" fill-opacity="1.00"/>
<rect x="175.54" y="443.11" width="13.11" height="3.38" rx="3.93" ry="1.69" fill="#000" fill-opacity="1.00"/>
<rect x="192.41" y="443.01" width="13.11" height="3.58" rx="3.93" ry="1.79" fill="#000" fill-opacity="1.00"/>
<rect x="209.34" y="443.33" width="12.98" height="2.94" rx="3.89" ry="1.47" fill="#000" fill-opacity="1.00"/>
<rect x="226.25" y="443.44" width="12.89" height="2.72" rx="3.87" ry="1.36" fill="#000" fill-opacity="0.98"/>
<rect x="243.34" y="443.60" width="12.45" height="2.39" rx="3.74" ry="1.20" fill="#000" fill-opacity="0.69"/>
</g></g>
<rect x="53.30" y="434.50" width="205.40" height="18.10" fill="none" stroke="#4a4646" stroke-width="0.9"/>
<clipPath id="c22"><rect x="53.30" y="455.00" width="205.40" height="15.70"/></clipPath>
<rect x="53.30" y="455.00" width="205.40" height="15.70" fill="#e6e6e6"/>
<g clip-path="url(#c22)"><g filter="url(#bl)">
<rect x="56.79" y="462.11" width="14.42" height="3.58" rx="4.32" ry="1.79" fill="#000" fill-opacity="1.00"/>
<rect x="73.66" y="462.11" width="14.42" height="3.58" rx="4.32" ry="1.79" fill="#000" fill-opacity="1.00"/>
<rect x="90.53" y="462.11" width="14.42" height="3.58" rx="4.32" ry="1.79" fill="#000" fill-opacity="1.00"/>
<rect x="107.40" y="462.11" width="14.42" height="3.58" rx="4.32" ry="1.79" fill="#000" fill-opacity="1.00"/>
<rect x="124.27" y="462.11" width="14.42" height="3.58" rx="4.32" ry="1.79" fill="#000" fill-opacity="1.00"/>
<rect x="141.14" y="462.11" width="14.42" height="3.58" rx="4.32" ry="1.79" fill="#000" fill-opacity="1.00"/>
<rect x="158.01" y="462.11" width="14.42" height="3.58" rx="4.32" ry="1.79" fill="#000" fill-opacity="1.00"/>
<rect x="174.88" y="462.11" width="14.42" height="3.58" rx="4.32" ry="1.79" fill="#000" fill-opacity="1.00"/>
<rect x="191.75" y="462.11" width="14.42" height="3.58" rx="4.32" ry="1.79" fill="#000" fill-opacity="1.00"/>
<rect x="208.62" y="462.11" width="14.42" height="3.58" rx="4.32" ry="1.79" fill="#000" fill-opacity="1.00"/>
<rect x="225.49" y="462.11" width="14.42" height="3.58" rx="4.32" ry="1.79" fill="#000" fill-opacity="1.00"/>
<rect x="242.36" y="462.11" width="14.42" height="3.58" rx="4.32" ry="1.79" fill="#000" fill-opacity="1.00"/>
</g></g>
<rect x="53.30" y="455.00" width="205.40" height="15.70" fill="none" stroke="#4a4646" stroke-width="0.9"/>
<clipPath id="c23"><rect x="53.30" y="473.20" width="205.40" height="16.30"/></clipPath>
<rect x="53.30" y="473.20" width="205.40" height="16.30" fill="#cecece"/>
<g clip-path="url(#c23)"><g filter="url(#bl)">
<rect x="57.77" y="479.00" width="12.45" height="2.39" rx="3.74" ry="1.20" fill="#000" fill-opacity="0.69"/>
<rect x="74.64" y="479.00" width="12.45" height="2.39" rx="3.74" ry="1.20" fill="#000" fill-opacity="0.69"/>
<rect x="91.51" y="479.00" width="12.45" height="2.39" rx="3.74" ry="1.20" fill="#000" fill-opacity="0.69"/>
<rect x="108.43" y="479.02" width="12.36" height="2.37" rx="3.71" ry="1.18" fill="#000" fill-opacity="0.63"/>
<rect x="125.30" y="479.02" width="12.36" height="2.37" rx="3.71" ry="1.18" fill="#000" fill-opacity="0.63"/>
<rect x="142.17" y="479.02" width="12.36" height="2.37" rx="3.71" ry="1.18" fill="#000" fill-opacity="0.63"/>
<rect x="158.91" y="478.98" width="12.63" height="2.44" rx="3.79" ry="1.22" fill="#000" fill-opacity="0.80"/>
<rect x="175.73" y="478.96" width="12.72" height="2.47" rx="3.81" ry="1.24" fill="#000" fill-opacity="0.86"/>
<rect x="192.56" y="478.95" width="12.80" height="2.50" rx="3.84" ry="1.25" fill="#000" fill-opacity="0.92"/>
<rect x="209.69" y="479.03" width="12.27" height="2.34" rx="3.68" ry="1.17" fill="#000" fill-opacity="0.50"/>
<rect x="226.52" y="479.02" width="12.36" height="2.37" rx="3.71" ry="1.18" fill="#000" fill-opacity="0.63"/>
<rect x="243.48" y="479.04" width="12.18" height="2.31" rx="3.66" ry="1.16" fill="#000" fill-opacity="0.45"/>
<rect x="57.60" y="482.86" width="12.80" height="3.07" rx="3.84" ry="1.54" fill="#000" fill-opacity="0.92"/>
<rect x="74.47" y="482.86" width="12.80" height="3.07" rx="3.84" ry="1.54" fill="#000" fill-opacity="0.92"/>
<rect x="91.34" y="482.86" width="12.80" height="3.07" rx="3.84" ry="1.54" fill="#000" fill-opacity="0.92"/>
<rect x="108.25" y="482.88" width="12.72" height="3.04" rx="3.81" ry="1.52" fill="#000" fill-opacity="0.86"/>
<rect x="125.12" y="482.88" width="12.72" height="3.04" rx="3.81" ry="1.52" fill="#000" fill-opacity="0.86"/>
<rect x="141.99" y="482.88" width="12.72" height="3.04" rx="3.81" ry="1.52" fill="#000" fill-opacity="0.86"/>
<rect x="158.68" y="482.82" width="13.07" height="3.17" rx="3.92" ry="1.58" fill="#000" fill-opacity="1.00"/>
<rect x="175.55" y="482.82" width="13.07" height="3.17" rx="3.92" ry="1.58" fill="#000" fill-opacity="1.00"/>
<rect x="192.42" y="482.82" width="13.07" height="3.17" rx="3.92" ry="1.58" fill="#000" fill-opacity="1.00"/>
<rect x="209.52" y="482.90" width="12.63" height="3.01" rx="3.79" ry="1.50" fill="#000" fill-opacity="0.80"/>
<rect x="226.39" y="482.90" width="12.63" height="3.01" rx="3.79" ry="1.50" fill="#000" fill-opacity="0.80"/>
<rect x="243.30" y="482.91" width="12.54" height="2.98" rx="3.76" ry="1.49" fill="#000" fill-opacity="0.75"/>
</g></g>
<rect x="53.30" y="473.20" width="205.40" height="16.30" fill="none" stroke="#4a4646" stroke-width="0.9"/>
<clipPath id="c24"><rect x="53.30" y="491.60" width="205.40" height="16.80"/></clipPath>
<rect x="53.30" y="491.60" width="205.40" height="16.80" fill="#e2e2e2"/>
<g clip-path="url(#c24)"><g filter="url(#bl)">
<rect x="56.94" y="499.62" width="14.12" height="3.17" rx="4.23" ry="1.58" fill="#000" fill-opacity="1.00"/>
<rect x="73.81" y="499.62" width="14.12" height="3.17" rx="4.23" ry="1.58" fill="#000" fill-opacity="1.00"/>
<rect x="90.68" y="499.62" width="14.12" height="3.17" rx="4.23" ry="1.58" fill="#000" fill-opacity="1.00"/>
<rect x="107.55" y="499.62" width="14.12" height="3.17" rx="4.23" ry="1.58" fill="#000" fill-opacity="1.00"/>
<rect x="124.42" y="499.62" width="14.12" height="3.17" rx="4.23" ry="1.58" fill="#000" fill-opacity="1.00"/>
<rect x="141.29" y="499.62" width="14.12" height="3.17" rx="4.23" ry="1.58" fill="#000" fill-opacity="1.00"/>
<rect x="158.16" y="499.62" width="14.12" height="3.17" rx="4.23" ry="1.58" fill="#000" fill-opacity="1.00"/>
<rect x="175.03" y="499.62" width="14.12" height="3.17" rx="4.23" ry="1.58" fill="#000" fill-opacity="1.00"/>
<rect x="191.90" y="499.62" width="14.12" height="3.17" rx="4.23" ry="1.58" fill="#000" fill-opacity="1.00"/>
<rect x="208.77" y="499.62" width="14.12" height="3.17" rx="4.23" ry="1.58" fill="#000" fill-opacity="1.00"/>
<rect x="225.64" y="499.62" width="14.12" height="3.17" rx="4.23" ry="1.58" fill="#000" fill-opacity="1.00"/>
<rect x="242.51" y="499.62" width="14.12" height="3.17" rx="4.23" ry="1.58" fill="#000" fill-opacity="1.00"/>
<rect x="57.65" y="504.32" width="12.70" height="1.76" rx="3.81" ry="0.88" fill="#000" fill-opacity="0.40"/>
<rect x="74.52" y="504.32" width="12.70" height="1.76" rx="3.81" ry="0.88" fill="#000" fill-opacity="0.40"/>
<rect x="91.39" y="504.32" width="12.70" height="1.76" rx="3.81" ry="0.88" fill="#000" fill-opacity="0.40"/>
<rect x="108.26" y="504.32" width="12.70" height="1.76" rx="3.81" ry="0.88" fill="#000" fill-opacity="0.40"/>
<rect x="125.13" y="504.32" width="12.70" height="1.76" rx="3.81" ry="0.88" fill="#000" fill-opacity="0.40"/>
<rect x="142.00" y="504.32" width="12.70" height="1.76" rx="3.81" ry="0.88" fill="#000" fill-opacity="0.40"/>
<rect x="158.87" y="504.32" width="12.70" height="1.76" rx="3.81" ry="0.88" fill="#000" fill-opacity="0.40"/>
<rect x="175.74" y="504.32" width="12.70" height="1.76" rx="3.81" ry="0.88" fill="#000" fill-opacity="0.40"/>
<rect x="192.61" y="504.32" width="12.70" height="1.76" rx="3.81" ry="0.88" fill="#000" fill-opacity="0.40"/>
<rect x="209.48" y="504.32" width="12.70" height="1.76" rx="3.81" ry="0.88" fill="#000" fill-opacity="0.40"/>
<rect x="226.35" y="504.32" width="12.70" height="1.76" rx="3.81" ry="0.88" fill="#000" fill-opacity="0.40"/>
<rect x="243.22" y="504.32" width="12.70" height="1.76" rx="3.81" ry="0.88" fill="#000" fill-opacity="0.40"/>
</g></g>
<rect x="53.30" y="491.60" width="205.40" height="16.80" fill="none" stroke="#4a4646" stroke-width="0.9"/>
<clipPath id="c25"><rect x="53.30" y="510.90" width="205.40" height="20.90"/></clipPath>
<rect x="53.30" y="510.90" width="205.40" height="20.90" fill="#e6e6e6"/>
<g clip-path="url(#c25)"><g filter="url(#bl)">
<rect x="57.28" y="514.43" width="13.45" height="2.94" rx="4.03" ry="1.47" fill="#000" fill-opacity="0.69"/>
<rect x="74.15" y="514.43" width="13.45" height="2.94" rx="4.03" ry="1.47" fill="#000" fill-opacity="0.69"/>
<rect x="90.97" y="514.41" width="13.54" height="2.98" rx="4.06" ry="1.49" fill="#000" fill-opacity="0.75"/>
<rect x="108.03" y="514.48" width="13.16" height="2.85" rx="3.95" ry="1.42" fill="#000" fill-opacity="0.45"/>
<rect x="124.90" y="514.48" width="13.16" height="2.85" rx="3.95" ry="1.42" fill="#000" fill-opacity="0.45"/>
<rect x="141.72" y="514.46" width="13.25" height="2.88" rx="3.98" ry="1.44" fill="#000" fill-opacity="0.50"/>
<rect x="158.11" y="514.30" width="14.21" height="3.20" rx="4.26" ry="1.60" fill="#000" fill-opacity="1.00"/>
<rect x="174.98" y="514.30" width="14.21" height="3.20" rx="4.26" ry="1.60" fill="#000" fill-opacity="1.00"/>
<rect x="191.85" y="514.30" width="14.21" height="3.20" rx="4.26" ry="1.60" fill="#000" fill-opacity="1.00"/>
<rect x="209.25" y="514.48" width="13.16" height="2.85" rx="3.95" ry="1.42" fill="#000" fill-opacity="0.45"/>
<rect x="226.07" y="514.46" width="13.25" height="2.88" rx="3.98" ry="1.44" fill="#000" fill-opacity="0.50"/>
<rect x="242.99" y="514.48" width="13.16" height="2.85" rx="3.95" ry="1.42" fill="#000" fill-opacity="0.45"/>
<rect x="57.20" y="525.06" width="13.60" height="3.28" rx="4.08" ry="1.64" fill="#000" fill-opacity="0.63"/>
<rect x="74.07" y="525.06" width="13.60" height="3.28" rx="4.08" ry="1.64" fill="#000" fill-opacity="0.63"/>
<rect x="90.94" y="525.06" width="13.60" height="3.28" rx="4.08" ry="1.64" fill="#000" fill-opacity="0.63"/>
<rect x="107.47" y="524.94" width="14.28" height="3.53" rx="4.28" ry="1.76" fill="#000" fill-opacity="1.00"/>
<rect x="124.29" y="524.92" width="14.38" height="3.56" rx="4.31" ry="1.78" fill="#000" fill-opacity="1.00"/>
<rect x="141.16" y="524.92" width="14.38" height="3.56" rx="4.31" ry="1.78" fill="#000" fill-opacity="1.00"/>
<rect x="158.03" y="524.92" width="14.38" height="3.56" rx="4.31" ry="1.78" fill="#000" fill-opacity="1.00"/>
<rect x="174.90" y="524.92" width="14.38" height="3.56" rx="4.31" ry="1.78" fill="#000" fill-opacity="1.00"/>
<rect x="191.77" y="524.92" width="14.38" height="3.56" rx="4.31" ry="1.78" fill="#000" fill-opacity="1.00"/>
<rect x="208.69" y="524.94" width="14.28" height="3.53" rx="4.28" ry="1.76" fill="#000" fill-opacity="1.00"/>
<rect x="225.56" y="524.94" width="14.28" height="3.53" rx="4.28" ry="1.76" fill="#000" fill-opacity="1.00"/>
<rect x="242.53" y="524.97" width="14.08" height="3.46" rx="4.23" ry="1.73" fill="#000" fill-opacity="0.92"/>
</g></g>
<rect x="53.30" y="510.90" width="205.40" height="20.90" fill="none" stroke="#4a4646" stroke-width="0.9"/>
<clipPath id="c26"><rect x="53.30" y="533.80" width="205.40" height="16.80"/></clipPath>
<rect x="53.30" y="533.80" width="205.40" height="16.80" fill="#e6e6e6"/>
<g clip-path="url(#c26)"><g filter="url(#bl)">
<rect x="56.76" y="539.00" width="14.47" height="3.80" rx="4.34" ry="1.90" fill="#000" fill-opacity="1.00"/>
<rect x="73.63" y="539.40" width="14.47" height="3.80" rx="4.34" ry="1.90" fill="#000" fill-opacity="1.00"/>
<rect x="90.50" y="539.80" width="14.47" height="3.80" rx="4.34" ry="1.90" fill="#000" fill-opacity="1.00"/>
<rect x="107.37" y="540.20" width="14.47" height="3.80" rx="4.34" ry="1.90" fill="#000" fill-opacity="1.00"/>
<rect x="124.24" y="540.60" width="14.47" height="3.80" rx="4.34" ry="1.90" fill="#000" fill-opacity="1.00"/>
<rect x="141.11" y="541.00" width="14.47" height="3.80" rx="4.34" ry="1.90" fill="#000" fill-opacity="1.00"/>
<rect x="157.98" y="541.40" width="14.47" height="3.80" rx="4.34" ry="1.90" fill="#000" fill-opacity="1.00"/>
<rect x="174.85" y="541.80" width="14.47" height="3.80" rx="4.34" ry="1.90" fill="#000" fill-opacity="1.00"/>
<rect x="191.72" y="542.20" width="14.47" height="3.80" rx="4.34" ry="1.90" fill="#000" fill-opacity="1.00"/>
<rect x="208.59" y="542.60" width="14.47" height="3.80" rx="4.34" ry="1.90" fill="#000" fill-opacity="1.00"/>
<rect x="225.46" y="543.00" width="14.47" height="3.80" rx="4.34" ry="1.90" fill="#000" fill-opacity="1.00"/>
<rect x="242.33" y="543.40" width="14.47" height="3.80" rx="4.34" ry="1.90" fill="#000" fill-opacity="1.00"/>
</g></g>
<rect x="53.30" y="533.80" width="205.40" height="16.80" fill="none" stroke="#4a4646" stroke-width="0.9"/>
<text x="51.00" y="410.30" font-size="8.60" text-anchor="end" fill="#1a1a1a">p-p70S6K</text>
<text x="51.00" y="428.50" font-size="8.60" text-anchor="end" fill="#1a1a1a">p70S6K</text>
<text x="51.00" y="448.00" font-size="8.60" text-anchor="end" fill="#1a1a1a">p-Akt</text>
<text x="51.00" y="466.30" font-size="8.60" text-anchor="end" fill="#1a1a1a">Akt</text>
<text x="51.00" y="485.00" font-size="8.60" text-anchor="end" fill="#1a1a1a">p-ERK</text>
<text x="51.00" y="502.80" font-size="8.60" text-anchor="end" fill="#1a1a1a">ERK</text>
<text x="51.00" y="519.00" font-size="8.60" text-anchor="end" fill="#1a1a1a">LC3B I</text>
<text x="51.00" y="529.50" font-size="8.60" text-anchor="end" fill="#1a1a1a">LC3B II</text>
<text x="51.00" y="544.30" font-size="8.60" text-anchor="end" fill="#1a1a1a">GAPDH</text>
<text x="266.30" y="385.70" font-size="5.30" text-anchor="middle" fill="#1a1a1a">MW</text>
<text x="267.00" y="391.50" font-size="5.30" text-anchor="middle" fill="#1a1a1a">(kDa)</text>
<line x1="258.70" y1="402.40" x2="261.60" y2="402.40" stroke="#222" stroke-width="0.75"/>
<text x="263.70" y="404.90" font-size="7.05" text-anchor="start" fill="#1a1a1a" textLength="11.0">100</text>
<line x1="258.70" y1="410.00" x2="261.60" y2="410.00" stroke="#222" stroke-width="0.75"/>
<text x="263.70" y="412.50" font-size="7.05" text-anchor="start" fill="#1a1a1a">70</text>
<line x1="258.70" y1="421.30" x2="261.60" y2="421.30" stroke="#222" stroke-width="0.75"/>
<text x="263.70" y="423.80" font-size="7.05" text-anchor="start" fill="#1a1a1a" textLength="11.0">100</text>
<line x1="258.70" y1="430.60" x2="261.60" y2="430.60" stroke="#222" stroke-width="0.75"/>
<text x="263.70" y="433.10" font-size="7.05" text-anchor="start" fill="#1a1a1a">70</text>
<line x1="258.70" y1="439.30" x2="261.60" y2="439.30" stroke="#222" stroke-width="0.75"/>
<text x="263.70" y="441.80" font-size="7.05" text-anchor="start" fill="#1a1a1a">70</text>
<line x1="258.70" y1="448.80" x2="261.60" y2="448.80" stroke="#222" stroke-width="0.75"/>
<text x="263.70" y="451.30" font-size="7.05" text-anchor="start" fill="#1a1a1a">55</text>
<line x1="258.70" y1="458.40" x2="261.60" y2="458.40" stroke="#222" stroke-width="0.75"/>
<text x="263.70" y="460.90" font-size="7.05" text-anchor="start" fill="#1a1a1a">70</text>
<line x1="258.70" y1="468.20" x2="261.60" y2="468.20" stroke="#222" stroke-width="0.75"/>
<text x="263.70" y="470.70" font-size="7.05" text-anchor="start" fill="#1a1a1a">55</text>
<line x1="258.70" y1="482.80" x2="261.60" y2="482.80" stroke="#222" stroke-width="0.75"/>
<text x="263.70" y="485.30" font-size="7.05" text-anchor="start" fill="#1a1a1a">40</text>
<line x1="258.70" y1="502.10" x2="261.60" y2="502.10" stroke="#222" stroke-width="0.75"/>
<text x="263.70" y="504.60" font-size="7.05" text-anchor="start" fill="#1a1a1a">40</text>
<line x1="258.70" y1="522.20" x2="261.60" y2="522.20" stroke="#222" stroke-width="0.75"/>
<text x="263.70" y="524.70" font-size="7.05" text-anchor="start" fill="#1a1a1a">15</text>
<line x1="258.70" y1="537.30" x2="261.60" y2="537.30" stroke="#222" stroke-width="0.75"/>
<text x="263.70" y="539.80" font-size="7.05" text-anchor="start" fill="#1a1a1a">40</text>
<line x1="258.70" y1="548.80" x2="261.60" y2="548.80" stroke="#222" stroke-width="0.75"/>
<text x="263.70" y="551.30" font-size="7.05" text-anchor="start" fill="#1a1a1a">35</text>
<rect x="61.35" y="610.05" width="6.30" height="47.75" fill="#ffffff" stroke="#1a1a1a" stroke-width="0.8"/>
<circle cx="62.35" cy="607.83" r="1.25" fill="#000"/>
<circle cx="64.50" cy="609.37" r="1.25" fill="#000"/>
<circle cx="66.65" cy="610.62" r="1.25" fill="#000"/>
<rect x="72.75" y="612.79" width="6.30" height="45.01" fill="#ed1c24" stroke="#1a1a1a" stroke-width="0.8"/>
<circle cx="73.91" cy="611.38" r="1.25" fill="#000"/>
<circle cx="75.90" cy="612.44" r="1.25" fill="#000"/>
<circle cx="78.05" cy="613.21" r="1.25" fill="#000"/>
<rect x="83.75" y="599.78" width="6.30" height="58.02" fill="#808080" stroke="#1a1a1a" stroke-width="0.8"/>
<line x1="86.90" y1="596.79" x2="86.90" y2="602.07" stroke="#1a1a1a" stroke-width="0.70"/>
<line x1="84.94" y1="596.79" x2="88.86" y2="596.79" stroke="#1a1a1a" stroke-width="0.70"/>
<line x1="84.94" y1="602.07" x2="88.86" y2="602.07" stroke="#1a1a1a" stroke-width="0.70"/>
<circle cx="85.06" cy="594.82" r="1.25" fill="#000"/>
<circle cx="88.74" cy="598.18" r="1.25" fill="#000"/>
<circle cx="86.90" cy="604.33" r="1.25" fill="#000"/>
<rect x="94.85" y="612.79" width="6.30" height="45.01" fill="#f7941d" stroke="#1a1a1a" stroke-width="0.8"/>
<line x1="98.00" y1="610.52" x2="98.00" y2="614.36" stroke="#1a1a1a" stroke-width="0.70"/>
<line x1="96.04" y1="610.52" x2="99.96" y2="610.52" stroke="#1a1a1a" stroke-width="0.70"/>
<line x1="96.04" y1="614.36" x2="99.96" y2="614.36" stroke="#1a1a1a" stroke-width="0.70"/>
<circle cx="96.16" cy="610.14" r="1.25" fill="#000"/>
<circle cx="99.84" cy="610.62" r="1.25" fill="#000"/>
<circle cx="98.00" cy="616.28" r="1.25" fill="#000"/>
<rect x="112.65" y="610.05" width="6.30" height="47.75" fill="#ffffff" stroke="#1a1a1a" stroke-width="0.8"/>
<line x1="115.80" y1="607.06" x2="115.80" y2="612.34" stroke="#1a1a1a" stroke-width="0.70"/>
<line x1="113.84" y1="607.06" x2="117.76" y2="607.06" stroke="#1a1a1a" stroke-width="0.70"/>
<line x1="113.84" y1="612.34" x2="117.76" y2="612.34" stroke="#1a1a1a" stroke-width="0.70"/>
<circle cx="113.96" cy="605.24" r="1.25" fill="#000"/>
<circle cx="117.64" cy="608.60" r="1.25" fill="#000"/>
<circle cx="115.80" cy="613.98" r="1.25" fill="#000"/>
<rect x="123.75" y="618.45" width="6.30" height="39.35" fill="#ed1c24" stroke="#1a1a1a" stroke-width="0.8"/>
<circle cx="124.75" cy="616.28" r="1.25" fill="#000"/>
<circle cx="126.90" cy="617.82" r="1.25" fill="#000"/>
<circle cx="129.05" cy="618.87" r="1.25" fill="#000"/>
<rect x="134.75" y="590.28" width="6.30" height="67.52" fill="#808080" stroke="#1a1a1a" stroke-width="0.8"/>
<line x1="137.90" y1="588.97" x2="137.90" y2="590.89" stroke="#1a1a1a" stroke-width="0.70"/>
<line x1="135.94" y1="588.97" x2="139.86" y2="588.97" stroke="#1a1a1a" stroke-width="0.70"/>
<line x1="135.94" y1="590.89" x2="139.86" y2="590.89" stroke="#1a1a1a" stroke-width="0.70"/>
<circle cx="137.90" cy="587.14" r="1.25" fill="#000"/>
<circle cx="136.21" cy="590.22" r="1.25" fill="#000"/>
<circle cx="139.74" cy="591.46" r="1.25" fill="#000"/>
<rect x="145.85" y="604.68" width="6.30" height="53.12" fill="#f7941d" stroke="#1a1a1a" stroke-width="0.8"/>
<line x1="149.00" y1="602.55" x2="149.00" y2="606.10" stroke="#1a1a1a" stroke-width="0.70"/>
<line x1="147.04" y1="602.55" x2="150.96" y2="602.55" stroke="#1a1a1a" stroke-width="0.70"/>
<line x1="147.04" y1="606.10" x2="150.96" y2="606.10" stroke="#1a1a1a" stroke-width="0.70"/>
<circle cx="147.31" cy="601.74" r="1.25" fill="#000"/>
<circle cx="150.99" cy="602.17" r="1.25" fill="#000"/>
<circle cx="149.00" cy="607.83" r="1.25" fill="#000"/>
<rect x="163.55" y="609.72" width="6.30" height="48.08" fill="#ffffff" stroke="#1a1a1a" stroke-width="0.8"/>
<line x1="166.70" y1="607.93" x2="166.70" y2="610.81" stroke="#1a1a1a" stroke-width="0.70"/>
<line x1="164.74" y1="607.93" x2="168.66" y2="607.93" stroke="#1a1a1a" stroke-width="0.70"/>
<line x1="164.74" y1="610.81" x2="168.66" y2="610.81" stroke="#1a1a1a" stroke-width="0.70"/>
<circle cx="165.01" cy="607.54" r="1.25" fill="#000"/>
<circle cx="168.39" cy="608.31" r="1.25" fill="#000"/>
<circle cx="166.70" cy="612.44" r="1.25" fill="#000"/>
<rect x="174.35" y="612.02" width="6.30" height="45.78" fill="#ed1c24" stroke="#1a1a1a" stroke-width="0.8"/>
<circle cx="175.35" cy="611.38" r="1.25" fill="#000"/>
<circle cx="177.50" cy="612.01" r="1.25" fill="#000"/>
<circle cx="179.65" cy="612.44" r="1.25" fill="#000"/>
<rect x="185.25" y="599.78" width="6.30" height="58.02" fill="#808080" stroke="#1a1a1a" stroke-width="0.8"/>
<line x1="188.40" y1="596.31" x2="188.40" y2="602.55" stroke="#1a1a1a" stroke-width="0.70"/>
<line x1="186.44" y1="596.31" x2="190.36" y2="596.31" stroke="#1a1a1a" stroke-width="0.70"/>
<line x1="186.44" y1="602.55" x2="190.36" y2="602.55" stroke="#1a1a1a" stroke-width="0.70"/>
<circle cx="188.40" cy="594.49" r="1.25" fill="#000"/>
<circle cx="188.40" cy="599.86" r="1.25" fill="#000"/>
<circle cx="188.40" cy="604.81" r="1.25" fill="#000"/>
<rect x="196.25" y="612.79" width="6.30" height="45.01" fill="#f7941d" stroke="#1a1a1a" stroke-width="0.8"/>
<line x1="199.40" y1="611.24" x2="199.40" y2="613.64" stroke="#1a1a1a" stroke-width="0.70"/>
<line x1="197.44" y1="611.24" x2="201.36" y2="611.24" stroke="#1a1a1a" stroke-width="0.70"/>
<line x1="197.44" y1="613.64" x2="201.36" y2="613.64" stroke="#1a1a1a" stroke-width="0.70"/>
<circle cx="197.56" cy="610.90" r="1.25" fill="#000"/>
<circle cx="200.93" cy="611.38" r="1.25" fill="#000"/>
<circle cx="199.40" cy="614.46" r="1.25" fill="#000"/>
<rect x="214.95" y="609.91" width="6.30" height="47.89" fill="#ffffff" stroke="#1a1a1a" stroke-width="0.8"/>
<circle cx="215.95" cy="608.94" r="1.25" fill="#000"/>
<circle cx="218.10" cy="609.56" r="1.25" fill="#000"/>
<circle cx="220.25" cy="609.85" r="1.25" fill="#000"/>
<rect x="225.85" y="574.01" width="6.30" height="83.79" fill="#ed1c24" stroke="#1a1a1a" stroke-width="0.8"/>
<line x1="229.00" y1="571.02" x2="229.00" y2="576.30" stroke="#1a1a1a" stroke-width="0.70"/>
<line x1="227.04" y1="571.02" x2="230.96" y2="571.02" stroke="#1a1a1a" stroke-width="0.70"/>
<line x1="227.04" y1="576.30" x2="230.96" y2="576.30" stroke="#1a1a1a" stroke-width="0.70"/>
<circle cx="229.00" cy="567.51" r="1.25" fill="#000"/>
<circle cx="227.01" cy="574.57" r="1.25" fill="#000"/>
<circle cx="230.84" cy="575.62" r="1.25" fill="#000"/>
<rect x="236.65" y="607.13" width="6.30" height="50.67" fill="#808080" stroke="#1a1a1a" stroke-width="0.8"/>
<line x1="239.80" y1="605.58" x2="239.80" y2="607.98" stroke="#1a1a1a" stroke-width="0.70"/>
<line x1="237.84" y1="605.58" x2="241.76" y2="605.58" stroke="#1a1a1a" stroke-width="0.70"/>
<line x1="237.84" y1="607.98" x2="241.76" y2="607.98" stroke="#1a1a1a" stroke-width="0.70"/>
<circle cx="239.80" cy="603.70" r="1.25" fill="#000"/>
<circle cx="237.96" cy="607.06" r="1.25" fill="#000"/>
<circle cx="241.64" cy="607.54" r="1.25" fill="#000"/>
<rect x="247.65" y="572.95" width="6.30" height="84.85" fill="#f7941d" stroke="#1a1a1a" stroke-width="0.8"/>
<line x1="250.80" y1="567.80" x2="250.80" y2="577.40" stroke="#1a1a1a" stroke-width="0.70"/>
<line x1="248.84" y1="567.80" x2="252.76" y2="567.80" stroke="#1a1a1a" stroke-width="0.70"/>
<line x1="248.84" y1="577.40" x2="252.76" y2="577.40" stroke="#1a1a1a" stroke-width="0.70"/>
<circle cx="250.80" cy="564.92" r="1.25" fill="#000"/>
<circle cx="250.80" cy="571.06" r="1.25" fill="#000"/>
<circle cx="250.80" cy="581.34" r="1.25" fill="#000"/>
<line x1="57.80" y1="561.40" x2="57.80" y2="658.20" stroke="#1a1a1a" stroke-width="0.85"/>
<line x1="57.40" y1="657.80" x2="257.50" y2="657.80" stroke="#1a1a1a" stroke-width="0.85"/>
<line x1="52.30" y1="657.80" x2="57.80" y2="657.80" stroke="#1a1a1a" stroke-width="0.85"/>
<text x="51.00" y="660.80" font-size="8.40" text-anchor="end" fill="#1a1a1a">0.0</text>
<line x1="52.30" y1="633.80" x2="57.80" y2="633.80" stroke="#1a1a1a" stroke-width="0.85"/>
<text x="51.00" y="636.80" font-size="8.40" text-anchor="end" fill="#1a1a1a">0.5</text>
<line x1="52.30" y1="609.80" x2="57.80" y2="609.80" stroke="#1a1a1a" stroke-width="0.85"/>
<text x="51.00" y="612.80" font-size="8.40" text-anchor="end" fill="#1a1a1a">1.0</text>
<line x1="52.30" y1="585.80" x2="57.80" y2="585.80" stroke="#1a1a1a" stroke-width="0.85"/>
<text x="51.00" y="588.80" font-size="8.40" text-anchor="end" fill="#1a1a1a">1.5</text>
<line x1="52.30" y1="561.80" x2="57.80" y2="561.80" stroke="#1a1a1a" stroke-width="0.85"/>
<text x="51.00" y="564.80" font-size="8.40" text-anchor="end" fill="#1a1a1a">2.0</text>
<text transform="translate(34.00,609.00) rotate(-90)" font-size="8.40" text-anchor="middle" fill="#1a1a1a">Fold Change</text>
<line x1="80.95" y1="657.80" x2="80.95" y2="662.40" stroke="#1a1a1a" stroke-width="0.85"/>
<text x="84.20" y="671.00" font-size="8.60" text-anchor="middle" fill="#1a1a1a">p-p70S6K</text>
<line x1="132.10" y1="657.80" x2="132.10" y2="662.40" stroke="#1a1a1a" stroke-width="0.85"/>
<text x="133.70" y="671.00" font-size="8.60" text-anchor="middle" fill="#1a1a1a">p-Akt</text>
<line x1="182.75" y1="657.80" x2="182.75" y2="662.40" stroke="#1a1a1a" stroke-width="0.85"/>
<text x="186.40" y="671.00" font-size="8.60" text-anchor="middle" fill="#1a1a1a">p-ERK</text>
<line x1="234.15" y1="657.80" x2="234.15" y2="662.40" stroke="#1a1a1a" stroke-width="0.85"/>
<text x="235.90" y="671.00" font-size="8.60" text-anchor="middle" fill="#1a1a1a">LC3B II/I</text>
<text x="75.20" y="570.30" font-size="5.00" text-anchor="middle" fill="#222">p=0.009</text>
<line x1="64.80" y1="572.00" x2="86.70" y2="572.00" stroke="#222" stroke-width="0.75"/>
<text x="92.00" y="578.10" font-size="5.00" text-anchor="middle" fill="#222">p&lt;0.001</text>
<line x1="87.20" y1="580.00" x2="96.70" y2="580.00" stroke="#222" stroke-width="0.75"/>
<text x="138.20" y="562.00" font-size="5.00" text-anchor="middle" fill="#222">p=0.001</text>
<line x1="126.90" y1="563.70" x2="148.70" y2="563.70" stroke="#222" stroke-width="0.75"/>
<text x="127.20" y="570.30" font-size="5.00" text-anchor="middle" fill="#222">p&lt;0.001</text>
<line x1="116.00" y1="572.00" x2="137.70" y2="572.00" stroke="#222" stroke-width="0.75"/>
<text x="122.50" y="578.10" font-size="5.00" text-anchor="middle" fill="#222">p=0.055</text>
<line x1="116.00" y1="580.00" x2="126.40" y2="580.00" stroke="#222" stroke-width="0.75"/>
<text x="142.30" y="578.10" font-size="5.00" text-anchor="middle" fill="#222">p&lt;0.001</text>
<line x1="138.00" y1="580.00" x2="148.70" y2="580.00" stroke="#222" stroke-width="0.75"/>
<text x="177.60" y="570.30" font-size="5.00" text-anchor="middle" fill="#222">p=0.012</text>
<line x1="166.30" y1="572.20" x2="188.10" y2="572.20" stroke="#222" stroke-width="0.75"/>
<text x="193.90" y="578.10" font-size="5.00" text-anchor="middle" fill="#222">p=0.001</text>
<line x1="188.10" y1="580.00" x2="199.40" y2="580.00" stroke="#222" stroke-width="0.75"/>
<text x="222.20" y="559.40" font-size="5.00" text-anchor="middle" fill="#222">p&lt;0.001</text>
<line x1="217.80" y1="561.10" x2="228.30" y2="561.10" stroke="#222" stroke-width="0.75"/>
<text x="246.00" y="559.40" font-size="5.00" text-anchor="middle" fill="#222">p&lt;0.001</text>
<line x1="239.90" y1="561.10" x2="250.50" y2="561.10" stroke="#222" stroke-width="0.75"/>
<rect x="260.10" y="557.25" width="10.80" height="4.10" fill="#ffffff" stroke="#1a1a1a" stroke-width="0.8"/>
<text x="280.00" y="562.00" font-size="8.55" text-anchor="start" fill="#1a1a1a">Ad-<tspan font-style="italic">EGFP</tspan>+si<tspan font-style="italic">Neg</tspan></text>
<rect x="260.10" y="569.85" width="10.80" height="4.10" fill="#ed1c24" stroke="#1a1a1a" stroke-width="0.8"/>
<text x="280.00" y="574.60" font-size="8.55" text-anchor="start" fill="#1a1a1a">Ad-<tspan font-style="italic">EGFP</tspan>+si<tspan font-style="italic">Igf1r</tspan></text>
<rect x="260.10" y="582.65" width="10.80" height="4.10" fill="#808080" stroke="#1a1a1a" stroke-width="0.8"/>
<text x="280.00" y="587.40" font-size="8.55" text-anchor="start" fill="#1a1a1a">Ad-<tspan font-style="italic" letter-spacing="-0.2">Armh4</tspan>+si<tspan font-style="italic">Neg</tspan></text>
<rect x="260.10" y="595.25" width="10.80" height="4.10" fill="#f7941d" stroke="#1a1a1a" stroke-width="0.8"/>
<text x="280.00" y="600.00" font-size="8.55" text-anchor="start" fill="#1a1a1a">Ad-<tspan font-style="italic" letter-spacing="-0.2">Armh4</tspan>+si<tspan font-style="italic">Igf1r</tspan></text>
<text x="386.50" y="354.00" font-size="8.75" text-anchor="end" fill="#1a1a1a">Ad-<tspan font-style="italic">EGFP</tspan></text>
<circle cx="399.30" cy="351.20" r="2.80" fill="#000"/>
<circle cx="416.17" cy="351.20" r="2.80" fill="#000"/>
<circle cx="433.04" cy="351.20" r="2.80" fill="#000"/>
<circle cx="449.91" cy="351.20" r="2.80" fill="#000"/>
<circle cx="466.78" cy="351.20" r="2.80" fill="#000"/>
<circle cx="483.65" cy="351.20" r="2.80" fill="#000"/>
<circle cx="500.52" cy="351.20" r="2.50" fill="#fff" stroke="#111" stroke-width="0.7"/>
<circle cx="517.39" cy="351.20" r="2.50" fill="#fff" stroke="#111" stroke-width="0.7"/>
<circle cx="534.26" cy="351.20" r="2.50" fill="#fff" stroke="#111" stroke-width="0.7"/>
<circle cx="551.13" cy="351.20" r="2.50" fill="#fff" stroke="#111" stroke-width="0.7"/>
<circle cx="568.00" cy="351.20" r="2.50" fill="#fff" stroke="#111" stroke-width="0.7"/>
<circle cx="584.87" cy="351.20" r="2.50" fill="#fff" stroke="#111" stroke-width="0.7"/>
<text x="386.50" y="366.80" font-size="8.75" text-anchor="end" fill="#1a1a1a">Ad-<tspan font-style="italic" letter-spacing="-0.2">Armh4</tspan></text>
<circle cx="399.30" cy="364.00" r="2.50" fill="#fff" stroke="#111" stroke-width="0.7"/>
<circle cx="416.17" cy="364.00" r="2.50" fill="#fff" stroke="#111" stroke-width="0.7"/>
<circle cx="433.04" cy="364.00" r="2.50" fill="#fff" stroke="#111" stroke-width="0.7"/>
<circle cx="449.91" cy="364.00" r="2.50" fill="#fff" stroke="#111" stroke-width="0.7"/>
<circle cx="466.78" cy="364.00" r="2.50" fill="#fff" stroke="#111" stroke-width="0.7"/>
<circle cx="483.65" cy="364.00" r="2.50" fill="#fff" stroke="#111" stroke-width="0.7"/>
<circle cx="500.52" cy="364.00" r="2.80" fill="#000"/>
<circle cx="517.39" cy="364.00" r="2.80" fill="#000"/>
<circle cx="534.26" cy="364.00" r="2.80" fill="#000"/>
<circle cx="551.13" cy="364.00" r="2.80" fill="#000"/>
<circle cx="568.00" cy="364.00" r="2.80" fill="#000"/>
<circle cx="584.87" cy="364.00" r="2.80" fill="#000"/>
<text x="386.50" y="379.40" font-size="8.75" text-anchor="end" fill="#1a1a1a">si<tspan font-style="italic">Neg</tspan></text>
<circle cx="399.30" cy="376.60" r="2.80" fill="#000"/>
<circle cx="416.17" cy="376.60" r="2.80" fill="#000"/>
<circle cx="433.04" cy="376.60" r="2.80" fill="#000"/>
<circle cx="449.91" cy="376.60" r="2.50" fill="#fff" stroke="#111" stroke-width="0.7"/>
<circle cx="466.78" cy="376.60" r="2.50" fill="#fff" stroke="#111" stroke-width="0.7"/>
<circle cx="483.65" cy="376.60" r="2.50" fill="#fff" stroke="#111" stroke-width="0.7"/>
<circle cx="500.52" cy="376.60" r="2.80" fill="#000"/>
<circle cx="517.39" cy="376.60" r="2.80" fill="#000"/>
<circle cx="534.26" cy="376.60" r="2.80" fill="#000"/>
<circle cx="551.13" cy="376.60" r="2.50" fill="#fff" stroke="#111" stroke-width="0.7"/>
<circle cx="568.00" cy="376.60" r="2.50" fill="#fff" stroke="#111" stroke-width="0.7"/>
<circle cx="584.87" cy="376.60" r="2.50" fill="#fff" stroke="#111" stroke-width="0.7"/>
<text x="386.50" y="392.40" font-size="8.75" text-anchor="end" fill="#1a1a1a">si<tspan font-style="italic">Fgfr1</tspan></text>
<circle cx="399.30" cy="389.60" r="2.50" fill="#fff" stroke="#111" stroke-width="0.7"/>
<circle cx="416.17" cy="389.60" r="2.50" fill="#fff" stroke="#111" stroke-width="0.7"/>
<circle cx="433.04" cy="389.60" r="2.50" fill="#fff" stroke="#111" stroke-width="0.7"/>
<circle cx="449.91" cy="389.60" r="2.80" fill="#000"/>
<circle cx="466.78" cy="389.60" r="2.80" fill="#000"/>
<circle cx="483.65" cy="389.60" r="2.80" fill="#000"/>
<circle cx="500.52" cy="389.60" r="2.50" fill="#fff" stroke="#111" stroke-width="0.7"/>
<circle cx="517.39" cy="389.60" r="2.50" fill="#fff" stroke="#111" stroke-width="0.7"/>
<circle cx="534.26" cy="389.60" r="2.50" fill="#fff" stroke="#111" stroke-width="0.7"/>
<circle cx="551.13" cy="389.60" r="2.80" fill="#000"/>
<circle cx="568.00" cy="389.60" r="2.80" fill="#000"/>
<circle cx="584.87" cy="389.60" r="2.80" fill="#000"/>
<clipPath id="c27"><rect x="390.30" y="398.40" width="205.20" height="16.30"/></clipPath>
<rect x="390.30" y="398.40" width="205.20" height="16.30" fill="#cecece"/>
<g clip-path="url(#c27)"><g filter="url(#bl)">
<rect x="392.39" y="406.27" width="13.83" height="3.46" rx="4.15" ry="1.73" fill="#000" fill-opacity="0.92"/>
<rect x="409.16" y="406.33" width="14.02" height="3.53" rx="4.21" ry="1.76" fill="#000" fill-opacity="1.00"/>
<rect x="426.03" y="406.42" width="14.02" height="3.53" rx="4.21" ry="1.76" fill="#000" fill-opacity="1.00"/>
<rect x="443.04" y="406.56" width="13.73" height="3.42" rx="4.12" ry="1.71" fill="#000" fill-opacity="0.86"/>
<rect x="459.87" y="406.64" width="13.83" height="3.46" rx="4.15" ry="1.73" fill="#000" fill-opacity="0.92"/>
<rect x="476.64" y="406.69" width="14.02" height="3.53" rx="4.21" ry="1.76" fill="#000" fill-opacity="1.00"/>
<rect x="493.41" y="406.75" width="14.21" height="3.60" rx="4.26" ry="1.80" fill="#000" fill-opacity="1.00"/>
<rect x="510.38" y="406.87" width="14.02" height="3.53" rx="4.21" ry="1.76" fill="#000" fill-opacity="1.00"/>
<rect x="527.25" y="406.96" width="14.02" height="3.53" rx="4.21" ry="1.76" fill="#000" fill-opacity="1.00"/>
<rect x="544.22" y="407.09" width="13.83" height="3.46" rx="4.15" ry="1.73" fill="#000" fill-opacity="0.92"/>
<rect x="561.04" y="407.16" width="13.92" height="3.49" rx="4.18" ry="1.75" fill="#000" fill-opacity="0.98"/>
<rect x="577.91" y="407.25" width="13.92" height="3.49" rx="4.18" ry="1.75" fill="#000" fill-opacity="0.98"/>
</g></g>
<rect x="390.30" y="398.40" width="205.20" height="16.30" fill="none" stroke="#4a4646" stroke-width="0.9"/>
<clipPath id="c28"><rect x="390.30" y="417.30" width="205.20" height="15.70"/></clipPath>
<rect x="390.30" y="417.30" width="205.20" height="15.70" fill="#eaeaea"/>
<g clip-path="url(#c28)"><g filter="url(#bl)">
<rect x="391.98" y="428.22" width="14.64" height="3.37" rx="4.39" ry="1.68" fill="#000" fill-opacity="1.00"/>
<rect x="408.85" y="427.99" width="14.64" height="3.37" rx="4.39" ry="1.68" fill="#000" fill-opacity="1.00"/>
<rect x="425.72" y="427.76" width="14.64" height="3.37" rx="4.39" ry="1.68" fill="#000" fill-opacity="1.00"/>
<rect x="442.59" y="427.54" width="14.64" height="3.37" rx="4.39" ry="1.68" fill="#000" fill-opacity="1.00"/>
<rect x="459.46" y="427.31" width="14.64" height="3.37" rx="4.39" ry="1.68" fill="#000" fill-opacity="1.00"/>
<rect x="476.33" y="427.08" width="14.64" height="3.37" rx="4.39" ry="1.68" fill="#000" fill-opacity="1.00"/>
<rect x="493.20" y="426.85" width="14.64" height="3.37" rx="4.39" ry="1.68" fill="#000" fill-opacity="1.00"/>
<rect x="510.07" y="426.63" width="14.64" height="3.37" rx="4.39" ry="1.68" fill="#000" fill-opacity="1.00"/>
<rect x="526.94" y="426.40" width="14.64" height="3.37" rx="4.39" ry="1.68" fill="#000" fill-opacity="1.00"/>
<rect x="543.81" y="426.17" width="14.64" height="3.37" rx="4.39" ry="1.68" fill="#000" fill-opacity="1.00"/>
<rect x="560.68" y="425.94" width="14.64" height="3.37" rx="4.39" ry="1.68" fill="#000" fill-opacity="1.00"/>
<rect x="577.55" y="425.72" width="14.64" height="3.37" rx="4.39" ry="1.68" fill="#000" fill-opacity="1.00"/>
<rect x="391.27" y="421.27" width="16.07" height="1.46" rx="0.73" ry="0.73" fill="#000" fill-opacity="0.05"/>
<rect x="408.14" y="421.27" width="16.07" height="1.46" rx="0.73" ry="0.73" fill="#000" fill-opacity="0.05"/>
<rect x="425.01" y="421.27" width="16.07" height="1.46" rx="0.73" ry="0.73" fill="#000" fill-opacity="0.05"/>
<rect x="441.88" y="421.27" width="16.07" height="1.46" rx="0.73" ry="0.73" fill="#000" fill-opacity="0.05"/>
<rect x="458.75" y="421.27" width="16.07" height="1.46" rx="0.73" ry="0.73" fill="#000" fill-opacity="0.05"/>
<rect x="475.62" y="421.27" width="16.07" height="1.46" rx="0.73" ry="0.73" fill="#000" fill-opacity="0.05"/>
<rect x="492.49" y="421.27" width="16.07" height="1.46" rx="0.73" ry="0.73" fill="#000" fill-opacity="0.05"/>
<rect x="509.36" y="421.27" width="16.07" height="1.46" rx="0.73" ry="0.73" fill="#000" fill-opacity="0.05"/>
<rect x="526.23" y="421.27" width="16.07" height="1.46" rx="0.73" ry="0.73" fill="#000" fill-opacity="0.05"/>
<rect x="543.10" y="421.27" width="16.07" height="1.46" rx="0.73" ry="0.73" fill="#000" fill-opacity="0.05"/>
<rect x="559.97" y="421.27" width="16.07" height="1.46" rx="0.73" ry="0.73" fill="#000" fill-opacity="0.05"/>
<rect x="576.84" y="421.27" width="16.07" height="1.46" rx="0.73" ry="0.73" fill="#000" fill-opacity="0.05"/>
</g></g>
<rect x="390.30" y="417.30" width="205.20" height="15.70" fill="none" stroke="#4a4646" stroke-width="0.9"/>
<clipPath id="c29"><rect x="390.30" y="434.50" width="205.20" height="18.10"/></clipPath>
<rect x="390.30" y="434.50" width="205.20" height="18.10" fill="#c6c6c6"/>
<g clip-path="url(#c29)"><g filter="url(#bl)">
<rect x="392.85" y="442.44" width="12.89" height="2.72" rx="3.87" ry="1.36" fill="#000" fill-opacity="0.98"/>
<rect x="409.77" y="442.46" width="12.80" height="2.69" rx="3.84" ry="1.34" fill="#000" fill-opacity="0.92"/>
<rect x="426.55" y="442.43" width="12.98" height="2.74" rx="3.89" ry="1.37" fill="#000" fill-opacity="1.00"/>
<rect x="443.60" y="442.48" width="12.63" height="2.63" rx="3.79" ry="1.32" fill="#000" fill-opacity="0.80"/>
<rect x="460.42" y="442.47" width="12.72" height="2.66" rx="3.81" ry="1.33" fill="#000" fill-opacity="0.86"/>
<rect x="477.29" y="442.47" width="12.72" height="2.66" rx="3.81" ry="1.33" fill="#000" fill-opacity="0.86"/>
<rect x="493.98" y="442.41" width="13.07" height="2.77" rx="3.92" ry="1.39" fill="#000" fill-opacity="1.00"/>
<rect x="510.90" y="442.43" width="12.98" height="2.74" rx="3.89" ry="1.37" fill="#000" fill-opacity="1.00"/>
<rect x="527.77" y="442.43" width="12.98" height="2.74" rx="3.89" ry="1.37" fill="#000" fill-opacity="1.00"/>
<rect x="544.73" y="442.46" width="12.80" height="2.69" rx="3.84" ry="1.34" fill="#000" fill-opacity="0.92"/>
<rect x="561.69" y="442.48" width="12.63" height="2.63" rx="3.79" ry="1.32" fill="#000" fill-opacity="0.80"/>
<rect x="578.51" y="442.47" width="12.72" height="2.66" rx="3.81" ry="1.33" fill="#000" fill-opacity="0.86"/>
</g></g>
<rect x="390.30" y="434.50" width="205.20" height="18.10" fill="none" stroke="#4a4646" stroke-width="0.9"/>
<clipPath id="c30"><rect x="390.30" y="455.00" width="205.20" height="15.70"/></clipPath>
<rect x="390.30" y="455.00" width="205.20" height="15.70" fill="#eeeeee"/>
<g clip-path="url(#c30)"><g filter="url(#bl)">
<rect x="392.44" y="463.22" width="13.72" height="3.37" rx="4.12" ry="1.68" fill="#000" fill-opacity="1.00"/>
<rect x="409.31" y="463.01" width="13.72" height="3.37" rx="4.12" ry="1.68" fill="#000" fill-opacity="1.00"/>
<rect x="426.18" y="462.80" width="13.72" height="3.37" rx="4.12" ry="1.68" fill="#000" fill-opacity="1.00"/>
<rect x="443.05" y="462.59" width="13.72" height="3.37" rx="4.12" ry="1.68" fill="#000" fill-opacity="1.00"/>
<rect x="459.92" y="462.38" width="13.72" height="3.37" rx="4.12" ry="1.68" fill="#000" fill-opacity="1.00"/>
<rect x="476.79" y="462.17" width="13.72" height="3.37" rx="4.12" ry="1.68" fill="#000" fill-opacity="1.00"/>
<rect x="494.17" y="462.15" width="12.70" height="2.99" rx="3.81" ry="1.50" fill="#000" fill-opacity="0.40"/>
<rect x="510.53" y="461.75" width="13.72" height="3.37" rx="4.12" ry="1.68" fill="#000" fill-opacity="1.00"/>
<rect x="527.40" y="461.54" width="13.72" height="3.37" rx="4.12" ry="1.68" fill="#000" fill-opacity="1.00"/>
<rect x="544.27" y="461.34" width="13.72" height="3.37" rx="4.12" ry="1.68" fill="#000" fill-opacity="1.00"/>
<rect x="561.14" y="461.13" width="13.72" height="3.37" rx="4.12" ry="1.68" fill="#000" fill-opacity="1.00"/>
<rect x="578.01" y="460.92" width="13.72" height="3.37" rx="4.12" ry="1.68" fill="#000" fill-opacity="1.00"/>
</g></g>
<rect x="390.30" y="455.00" width="205.20" height="15.70" fill="none" stroke="#4a4646" stroke-width="0.9"/>
<clipPath id="c31"><rect x="390.30" y="473.20" width="205.20" height="16.30"/></clipPath>
<rect x="390.30" y="473.20" width="205.20" height="16.30" fill="#c6c6c6"/>
<g clip-path="url(#c31)"><g filter="url(#bl)">
<rect x="392.36" y="479.68" width="13.89" height="2.63" rx="4.17" ry="1.32" fill="#000" fill-opacity="0.80"/>
<rect x="409.13" y="479.66" width="14.08" height="2.69" rx="4.23" ry="1.34" fill="#000" fill-opacity="0.92"/>
<rect x="426.00" y="479.66" width="14.08" height="2.69" rx="4.23" ry="1.34" fill="#000" fill-opacity="0.92"/>
<rect x="443.26" y="479.77" width="13.31" height="2.46" rx="3.99" ry="1.23" fill="#000" fill-opacity="0.40"/>
<rect x="460.13" y="479.77" width="13.31" height="2.46" rx="3.99" ry="1.23" fill="#000" fill-opacity="0.40"/>
<rect x="476.95" y="479.75" width="13.40" height="2.49" rx="4.02" ry="1.25" fill="#000" fill-opacity="0.45"/>
<rect x="493.38" y="479.63" width="14.28" height="2.74" rx="4.28" ry="1.37" fill="#000" fill-opacity="1.00"/>
<rect x="510.20" y="479.61" width="14.38" height="2.77" rx="4.31" ry="1.39" fill="#000" fill-opacity="1.00"/>
<rect x="527.12" y="479.63" width="14.28" height="2.74" rx="4.28" ry="1.37" fill="#000" fill-opacity="1.00"/>
<rect x="544.48" y="479.77" width="13.31" height="2.46" rx="3.99" ry="1.23" fill="#000" fill-opacity="0.40"/>
<rect x="561.35" y="479.77" width="13.31" height="2.46" rx="3.99" ry="1.23" fill="#000" fill-opacity="0.40"/>
<rect x="578.22" y="479.77" width="13.31" height="2.46" rx="3.99" ry="1.23" fill="#000" fill-opacity="0.40"/>
<rect x="391.98" y="483.72" width="14.64" height="3.17" rx="4.39" ry="1.58" fill="#000" fill-opacity="1.00"/>
<rect x="408.85" y="483.72" width="14.64" height="3.17" rx="4.39" ry="1.58" fill="#000" fill-opacity="1.00"/>
<rect x="425.72" y="483.72" width="14.64" height="3.17" rx="4.39" ry="1.58" fill="#000" fill-opacity="1.00"/>
<rect x="442.84" y="483.80" width="14.14" height="3.01" rx="4.24" ry="1.50" fill="#000" fill-opacity="0.80"/>
<rect x="459.71" y="483.80" width="14.14" height="3.01" rx="4.24" ry="1.50" fill="#000" fill-opacity="0.80"/>
<rect x="476.58" y="483.80" width="14.14" height="3.01" rx="4.24" ry="1.50" fill="#000" fill-opacity="0.80"/>
<rect x="493.20" y="483.72" width="14.64" height="3.17" rx="4.39" ry="1.58" fill="#000" fill-opacity="1.00"/>
<rect x="510.07" y="483.72" width="14.64" height="3.17" rx="4.39" ry="1.58" fill="#000" fill-opacity="1.00"/>
<rect x="526.94" y="483.72" width="14.64" height="3.17" rx="4.39" ry="1.58" fill="#000" fill-opacity="1.00"/>
<rect x="544.06" y="483.80" width="14.14" height="3.01" rx="4.24" ry="1.50" fill="#000" fill-opacity="0.80"/>
<rect x="560.98" y="483.81" width="14.04" height="2.98" rx="4.21" ry="1.49" fill="#000" fill-opacity="0.75"/>
<rect x="577.85" y="483.81" width="14.04" height="2.98" rx="4.21" ry="1.49" fill="#000" fill-opacity="0.75"/>
</g></g>
<rect x="390.30" y="473.20" width="205.20" height="16.30" fill="none" stroke="#4a4646" stroke-width="0.9"/>
<clipPath id="c32"><rect x="390.30" y="491.60" width="205.20" height="16.80"/></clipPath>
<rect x="390.30" y="491.60" width="205.20" height="16.80" fill="#d6d6d6"/>
<g clip-path="url(#c32)"><g filter="url(#bl)">
<rect x="391.98" y="498.72" width="14.64" height="3.17" rx="4.39" ry="1.58" fill="#000" fill-opacity="1.00"/>
<rect x="408.85" y="498.50" width="14.64" height="3.17" rx="4.39" ry="1.58" fill="#000" fill-opacity="1.00"/>
<rect x="425.77" y="498.30" width="14.54" height="3.14" rx="4.36" ry="1.57" fill="#000" fill-opacity="1.00"/>
<rect x="442.84" y="498.14" width="14.14" height="3.01" rx="4.24" ry="1.50" fill="#000" fill-opacity="0.80"/>
<rect x="459.71" y="497.92" width="14.14" height="3.01" rx="4.24" ry="1.50" fill="#000" fill-opacity="0.80"/>
<rect x="476.58" y="497.71" width="14.14" height="3.01" rx="4.24" ry="1.50" fill="#000" fill-opacity="0.80"/>
<rect x="493.25" y="497.42" width="14.54" height="3.14" rx="4.36" ry="1.57" fill="#000" fill-opacity="1.00"/>
<rect x="510.12" y="497.20" width="14.54" height="3.14" rx="4.36" ry="1.57" fill="#000" fill-opacity="1.00"/>
<rect x="526.99" y="496.99" width="14.54" height="3.14" rx="4.36" ry="1.57" fill="#000" fill-opacity="1.00"/>
<rect x="543.86" y="496.77" width="14.54" height="3.14" rx="4.36" ry="1.57" fill="#000" fill-opacity="1.00"/>
<rect x="560.73" y="496.55" width="14.54" height="3.14" rx="4.36" ry="1.57" fill="#000" fill-opacity="1.00"/>
<rect x="577.65" y="496.35" width="14.44" height="3.10" rx="4.33" ry="1.55" fill="#000" fill-opacity="0.98"/>
<rect x="392.60" y="504.02" width="13.40" height="1.96" rx="4.02" ry="0.98" fill="#000" fill-opacity="0.45"/>
<rect x="409.47" y="503.82" width="13.40" height="1.96" rx="4.02" ry="0.98" fill="#000" fill-opacity="0.45"/>
<rect x="426.39" y="503.63" width="13.31" height="1.94" rx="3.99" ry="0.97" fill="#000" fill-opacity="0.40"/>
<rect x="443.31" y="503.44" width="13.21" height="1.91" rx="3.96" ry="0.96" fill="#000" fill-opacity="0.35"/>
<rect x="460.18" y="503.24" width="13.21" height="1.91" rx="3.96" ry="0.96" fill="#000" fill-opacity="0.35"/>
<rect x="477.05" y="503.04" width="13.21" height="1.91" rx="3.96" ry="0.96" fill="#000" fill-opacity="0.35"/>
<rect x="493.77" y="502.81" width="13.50" height="1.98" rx="4.05" ry="0.99" fill="#000" fill-opacity="0.50"/>
<rect x="510.59" y="502.60" width="13.60" height="2.00" rx="4.08" ry="1.00" fill="#000" fill-opacity="0.63"/>
<rect x="527.46" y="502.40" width="13.60" height="2.00" rx="4.08" ry="1.00" fill="#000" fill-opacity="0.63"/>
<rect x="544.38" y="502.21" width="13.50" height="1.98" rx="4.05" ry="0.99" fill="#000" fill-opacity="0.50"/>
<rect x="561.25" y="502.01" width="13.50" height="1.98" rx="4.05" ry="0.99" fill="#000" fill-opacity="0.50"/>
<rect x="578.12" y="501.81" width="13.50" height="1.98" rx="4.05" ry="0.99" fill="#000" fill-opacity="0.50"/>
</g></g>
<rect x="390.30" y="491.60" width="205.20" height="16.80" fill="none" stroke="#4a4646" stroke-width="0.9"/>
<clipPath id="c33"><rect x="390.30" y="510.90" width="205.20" height="20.90"/></clipPath>
<rect x="390.30" y="510.90" width="205.20" height="20.90" fill="#eaeaea"/>
<g clip-path="url(#c33)"><g filter="url(#bl)">
<rect x="392.58" y="514.46" width="13.44" height="2.88" rx="4.03" ry="1.44" fill="#000" fill-opacity="0.92"/>
<rect x="409.40" y="514.60" width="13.54" height="2.91" rx="4.06" ry="1.46" fill="#000" fill-opacity="0.98"/>
<rect x="426.27" y="514.75" width="13.54" height="2.91" rx="4.06" ry="1.46" fill="#000" fill-opacity="0.98"/>
<rect x="443.37" y="514.98" width="13.07" height="2.76" rx="3.92" ry="1.38" fill="#000" fill-opacity="0.69"/>
<rect x="460.24" y="515.14" width="13.07" height="2.76" rx="3.92" ry="1.38" fill="#000" fill-opacity="0.69"/>
<rect x="477.16" y="515.31" width="12.98" height="2.73" rx="3.89" ry="1.36" fill="#000" fill-opacity="0.63"/>
<rect x="493.66" y="515.34" width="13.72" height="2.97" rx="4.12" ry="1.48" fill="#000" fill-opacity="1.00"/>
<rect x="510.57" y="515.51" width="13.63" height="2.94" rx="4.09" ry="1.47" fill="#000" fill-opacity="1.00"/>
<rect x="527.44" y="515.67" width="13.63" height="2.94" rx="4.09" ry="1.47" fill="#000" fill-opacity="1.00"/>
<rect x="544.59" y="515.91" width="13.07" height="2.76" rx="3.92" ry="1.38" fill="#000" fill-opacity="0.69"/>
<rect x="561.32" y="516.02" width="13.35" height="2.85" rx="4.01" ry="1.43" fill="#000" fill-opacity="0.86"/>
<rect x="578.33" y="516.22" width="13.07" height="2.76" rx="3.92" ry="1.38" fill="#000" fill-opacity="0.69"/>
<rect x="391.08" y="522.90" width="16.45" height="4.20" rx="2.10" ry="2.10" fill="#000" fill-opacity="1.00"/>
<rect x="407.95" y="523.12" width="16.45" height="4.20" rx="2.10" ry="2.10" fill="#000" fill-opacity="1.00"/>
<rect x="424.82" y="523.34" width="16.45" height="4.20" rx="2.10" ry="2.10" fill="#000" fill-opacity="1.00"/>
<rect x="441.69" y="523.55" width="16.45" height="4.20" rx="2.10" ry="2.10" fill="#000" fill-opacity="1.00"/>
<rect x="458.56" y="523.77" width="16.45" height="4.20" rx="2.10" ry="2.10" fill="#000" fill-opacity="1.00"/>
<rect x="475.43" y="523.99" width="16.45" height="4.20" rx="2.10" ry="2.10" fill="#000" fill-opacity="1.00"/>
<rect x="492.30" y="524.21" width="16.45" height="4.20" rx="2.10" ry="2.10" fill="#000" fill-opacity="1.00"/>
<rect x="509.17" y="524.43" width="16.45" height="4.20" rx="2.10" ry="2.10" fill="#000" fill-opacity="1.00"/>
<rect x="526.04" y="524.65" width="16.45" height="4.20" rx="2.10" ry="2.10" fill="#000" fill-opacity="1.00"/>
<rect x="542.91" y="524.86" width="16.45" height="4.20" rx="2.10" ry="2.10" fill="#000" fill-opacity="1.00"/>
<rect x="559.78" y="525.08" width="16.45" height="4.20" rx="2.10" ry="2.10" fill="#000" fill-opacity="1.00"/>
<rect x="576.65" y="525.30" width="16.45" height="4.20" rx="2.10" ry="2.10" fill="#000" fill-opacity="1.00"/>
</g></g>
<rect x="390.30" y="510.90" width="205.20" height="20.90" fill="none" stroke="#4a4646" stroke-width="0.9"/>
<clipPath id="c34"><rect x="390.30" y="533.80" width="205.20" height="16.80"/></clipPath>
<rect x="390.30" y="533.80" width="205.20" height="16.80" fill="#eaeaea"/>
<g clip-path="url(#c34)"><g filter="url(#bl)">
<rect x="392.59" y="542.15" width="13.42" height="3.30" rx="4.03" ry="1.65" fill="#000" fill-opacity="1.00"/>
<rect x="409.46" y="542.15" width="13.42" height="3.30" rx="4.03" ry="1.65" fill="#000" fill-opacity="1.00"/>
<rect x="426.33" y="542.15" width="13.42" height="3.30" rx="4.03" ry="1.65" fill="#000" fill-opacity="1.00"/>
<rect x="443.20" y="542.15" width="13.42" height="3.30" rx="4.03" ry="1.65" fill="#000" fill-opacity="1.00"/>
<rect x="460.07" y="542.15" width="13.42" height="3.30" rx="4.03" ry="1.65" fill="#000" fill-opacity="1.00"/>
<rect x="476.94" y="542.15" width="13.42" height="3.30" rx="4.03" ry="1.65" fill="#000" fill-opacity="1.00"/>
<rect x="493.81" y="542.15" width="13.42" height="3.30" rx="4.03" ry="1.65" fill="#000" fill-opacity="1.00"/>
<rect x="510.68" y="542.15" width="13.42" height="3.30" rx="4.03" ry="1.65" fill="#000" fill-opacity="1.00"/>
<rect x="527.55" y="542.15" width="13.42" height="3.30" rx="4.03" ry="1.65" fill="#000" fill-opacity="1.00"/>
<rect x="544.42" y="542.15" width="13.42" height="3.30" rx="4.03" ry="1.65" fill="#000" fill-opacity="1.00"/>
<rect x="561.29" y="542.15" width="13.42" height="3.30" rx="4.03" ry="1.65" fill="#000" fill-opacity="1.00"/>
<rect x="578.16" y="542.15" width="13.42" height="3.30" rx="4.03" ry="1.65" fill="#000" fill-opacity="1.00"/>
</g></g>
<rect x="390.30" y="533.80" width="205.20" height="16.80" fill="none" stroke="#4a4646" stroke-width="0.9"/>
<text x="386.30" y="412.50" font-size="8.60" text-anchor="end" fill="#1a1a1a">p-p70S6K</text>
<text x="386.30" y="430.80" font-size="8.60" text-anchor="end" fill="#1a1a1a">p70S6K</text>
<text x="386.30" y="450.00" font-size="8.60" text-anchor="end" fill="#1a1a1a">p-Akt</text>
<text x="386.30" y="466.20" font-size="8.60" text-anchor="end" fill="#1a1a1a">Akt</text>
<text x="386.30" y="486.00" font-size="8.60" text-anchor="end" fill="#1a1a1a">p-ERK</text>
<text x="386.30" y="503.80" font-size="8.60" text-anchor="end" fill="#1a1a1a">ERK</text>
<text x="386.30" y="519.50" font-size="8.60" text-anchor="end" fill="#1a1a1a">LC3B I</text>
<text x="386.30" y="530.00" font-size="8.60" text-anchor="end" fill="#1a1a1a">LC3B II</text>
<text x="386.30" y="546.00" font-size="8.60" text-anchor="end" fill="#1a1a1a">GAPDH</text>
<text x="602.30" y="385.40" font-size="5.30" text-anchor="middle" fill="#1a1a1a">MW</text>
<text x="603.00" y="391.70" font-size="5.30" text-anchor="middle" fill="#1a1a1a">(kDa)</text>
<line x1="595.50" y1="402.20" x2="598.40" y2="402.20" stroke="#222" stroke-width="0.75"/>
<text x="600.50" y="404.70" font-size="7.05" text-anchor="start" fill="#1a1a1a" textLength="11.0">100</text>
<line x1="595.50" y1="409.70" x2="598.40" y2="409.70" stroke="#222" stroke-width="0.75"/>
<text x="600.50" y="412.20" font-size="7.05" text-anchor="start" fill="#1a1a1a">70</text>
<line x1="595.50" y1="420.80" x2="598.40" y2="420.80" stroke="#222" stroke-width="0.75"/>
<text x="600.50" y="423.30" font-size="7.05" text-anchor="start" fill="#1a1a1a" textLength="11.0">100</text>
<line x1="595.50" y1="430.60" x2="598.40" y2="430.60" stroke="#222" stroke-width="0.75"/>
<text x="600.50" y="433.10" font-size="7.05" text-anchor="start" fill="#1a1a1a">70</text>
<line x1="595.50" y1="438.80" x2="598.40" y2="438.80" stroke="#222" stroke-width="0.75"/>
<text x="600.50" y="441.30" font-size="7.05" text-anchor="start" fill="#1a1a1a">70</text>
<line x1="595.50" y1="448.80" x2="598.40" y2="448.80" stroke="#222" stroke-width="0.75"/>
<text x="600.50" y="451.30" font-size="7.05" text-anchor="start" fill="#1a1a1a">55</text>
<line x1="595.50" y1="458.40" x2="598.40" y2="458.40" stroke="#222" stroke-width="0.75"/>
<text x="600.50" y="460.90" font-size="7.05" text-anchor="start" fill="#1a1a1a">70</text>
<line x1="595.50" y1="468.20" x2="598.40" y2="468.20" stroke="#222" stroke-width="0.75"/>
<text x="600.50" y="470.70" font-size="7.05" text-anchor="start" fill="#1a1a1a">55</text>
<line x1="595.50" y1="483.50" x2="598.40" y2="483.50" stroke="#222" stroke-width="0.75"/>
<text x="600.50" y="486.00" font-size="7.05" text-anchor="start" fill="#1a1a1a">40</text>
<line x1="595.50" y1="502.40" x2="598.40" y2="502.40" stroke="#222" stroke-width="0.75"/>
<text x="600.50" y="504.90" font-size="7.05" text-anchor="start" fill="#1a1a1a">40</text>
<line x1="595.50" y1="521.70" x2="598.40" y2="521.70" stroke="#222" stroke-width="0.75"/>
<text x="600.50" y="524.20" font-size="7.05" text-anchor="start" fill="#1a1a1a">15</text>
<line x1="595.50" y1="536.30" x2="598.40" y2="536.30" stroke="#222" stroke-width="0.75"/>
<text x="600.50" y="538.80" font-size="7.05" text-anchor="start" fill="#1a1a1a">40</text>
<line x1="595.50" y1="548.10" x2="598.40" y2="548.10" stroke="#222" stroke-width="0.75"/>
<text x="600.50" y="550.60" font-size="7.05" text-anchor="start" fill="#1a1a1a">35</text>
<rect x="397.65" y="609.00" width="6.40" height="47.80" fill="#ffffff" stroke="#1a1a1a" stroke-width="0.8"/>
<line x1="400.85" y1="606.25" x2="400.85" y2="611.06" stroke="#1a1a1a" stroke-width="0.70"/>
<line x1="398.86" y1="606.25" x2="402.84" y2="606.25" stroke="#1a1a1a" stroke-width="0.70"/>
<line x1="398.86" y1="611.06" x2="402.84" y2="611.06" stroke="#1a1a1a" stroke-width="0.70"/>
<circle cx="399.01" cy="605.28" r="1.25" fill="#000"/>
<circle cx="402.69" cy="607.11" r="1.25" fill="#000"/>
<circle cx="400.85" cy="613.27" r="1.25" fill="#000"/>
<rect x="408.65" y="612.85" width="6.40" height="43.95" fill="#ed1c24" stroke="#1a1a1a" stroke-width="0.8"/>
<line x1="411.85" y1="611.15" x2="411.85" y2="613.85" stroke="#1a1a1a" stroke-width="0.70"/>
<line x1="409.86" y1="611.15" x2="413.84" y2="611.15" stroke="#1a1a1a" stroke-width="0.70"/>
<line x1="409.86" y1="613.85" x2="413.84" y2="613.85" stroke="#1a1a1a" stroke-width="0.70"/>
<circle cx="411.85" cy="609.42" r="1.25" fill="#000"/>
<circle cx="410.01" cy="612.50" r="1.25" fill="#000"/>
<circle cx="413.69" cy="613.56" r="1.25" fill="#000"/>
<rect x="419.75" y="606.40" width="6.40" height="50.40" fill="#808080" stroke="#1a1a1a" stroke-width="0.8"/>
<line x1="422.95" y1="605.19" x2="422.95" y2="606.92" stroke="#1a1a1a" stroke-width="0.70"/>
<line x1="420.96" y1="605.19" x2="424.94" y2="605.19" stroke="#1a1a1a" stroke-width="0.70"/>
<line x1="420.96" y1="606.92" x2="424.94" y2="606.92" stroke="#1a1a1a" stroke-width="0.70"/>
<circle cx="420.80" cy="603.75" r="1.25" fill="#000"/>
<circle cx="422.95" cy="605.28" r="1.25" fill="#000"/>
<circle cx="425.10" cy="606.82" r="1.25" fill="#000"/>
<rect x="430.85" y="614.39" width="6.40" height="42.41" fill="#f7941d" stroke="#1a1a1a" stroke-width="0.8"/>
<circle cx="432.06" cy="612.98" r="1.25" fill="#000"/>
<circle cx="434.05" cy="613.56" r="1.25" fill="#000"/>
<circle cx="436.20" cy="614.18" r="1.25" fill="#000"/>
<rect x="448.85" y="609.34" width="6.40" height="47.46" fill="#ffffff" stroke="#1a1a1a" stroke-width="0.8"/>
<line x1="452.05" y1="608.32" x2="452.05" y2="609.66" stroke="#1a1a1a" stroke-width="0.70"/>
<line x1="450.06" y1="608.32" x2="454.04" y2="608.32" stroke="#1a1a1a" stroke-width="0.70"/>
<line x1="450.06" y1="609.66" x2="454.04" y2="609.66" stroke="#1a1a1a" stroke-width="0.70"/>
<circle cx="449.90" cy="607.59" r="1.25" fill="#000"/>
<circle cx="452.05" cy="608.65" r="1.25" fill="#000"/>
<circle cx="454.20" cy="609.90" r="1.25" fill="#000"/>
<rect x="459.95" y="612.85" width="6.40" height="43.95" fill="#ed1c24" stroke="#1a1a1a" stroke-width="0.8"/>
<circle cx="461.00" cy="611.73" r="1.25" fill="#000"/>
<circle cx="463.15" cy="612.50" r="1.25" fill="#000"/>
<circle cx="465.30" cy="612.98" r="1.25" fill="#000"/>
<rect x="470.75" y="594.48" width="6.40" height="62.32" fill="#808080" stroke="#1a1a1a" stroke-width="0.8"/>
<line x1="473.95" y1="587.25" x2="473.95" y2="601.00" stroke="#1a1a1a" stroke-width="0.70"/>
<line x1="471.96" y1="587.25" x2="475.94" y2="587.25" stroke="#1a1a1a" stroke-width="0.70"/>
<line x1="471.96" y1="601.00" x2="475.94" y2="601.00" stroke="#1a1a1a" stroke-width="0.70"/>
<circle cx="473.95" cy="580.32" r="1.25" fill="#000"/>
<circle cx="473.95" cy="599.46" r="1.25" fill="#000"/>
<circle cx="473.95" cy="602.25" r="1.25" fill="#000"/>
<rect x="481.85" y="616.70" width="6.40" height="40.10" fill="#f7941d" stroke="#1a1a1a" stroke-width="0.8"/>
<line x1="485.05" y1="613.70" x2="485.05" y2="618.99" stroke="#1a1a1a" stroke-width="0.70"/>
<line x1="483.06" y1="613.70" x2="487.04" y2="613.70" stroke="#1a1a1a" stroke-width="0.70"/>
<line x1="483.06" y1="618.99" x2="487.04" y2="618.99" stroke="#1a1a1a" stroke-width="0.70"/>
<circle cx="485.05" cy="611.73" r="1.25" fill="#000"/>
<circle cx="483.36" cy="617.12" r="1.25" fill="#000"/>
<circle cx="486.89" cy="617.89" r="1.25" fill="#000"/>
<rect x="499.55" y="609.00" width="6.40" height="47.80" fill="#ffffff" stroke="#1a1a1a" stroke-width="0.8"/>
<line x1="502.75" y1="606.73" x2="502.75" y2="610.58" stroke="#1a1a1a" stroke-width="0.70"/>
<line x1="500.76" y1="606.73" x2="504.74" y2="606.73" stroke="#1a1a1a" stroke-width="0.70"/>
<line x1="500.76" y1="610.58" x2="504.74" y2="610.58" stroke="#1a1a1a" stroke-width="0.70"/>
<circle cx="500.91" cy="606.39" r="1.25" fill="#000"/>
<circle cx="504.59" cy="606.82" r="1.25" fill="#000"/>
<circle cx="502.75" cy="612.98" r="1.25" fill="#000"/>
<rect x="510.75" y="612.08" width="6.40" height="44.72" fill="#ed1c24" stroke="#1a1a1a" stroke-width="0.8"/>
<line x1="513.95" y1="611.06" x2="513.95" y2="612.40" stroke="#1a1a1a" stroke-width="0.70"/>
<line x1="511.96" y1="611.06" x2="515.94" y2="611.06" stroke="#1a1a1a" stroke-width="0.70"/>
<line x1="511.96" y1="612.40" x2="515.94" y2="612.40" stroke="#1a1a1a" stroke-width="0.70"/>
<circle cx="511.80" cy="610.19" r="1.25" fill="#000"/>
<circle cx="513.95" cy="611.44" r="1.25" fill="#000"/>
<circle cx="516.10" cy="612.50" r="1.25" fill="#000"/>
<rect x="521.65" y="609.77" width="6.40" height="47.03" fill="#808080" stroke="#1a1a1a" stroke-width="0.8"/>
<circle cx="522.70" cy="607.88" r="1.25" fill="#000"/>
<circle cx="524.85" cy="608.99" r="1.25" fill="#000"/>
<circle cx="527.00" cy="609.90" r="1.25" fill="#000"/>
<rect x="532.65" y="622.52" width="6.40" height="34.28" fill="#f7941d" stroke="#1a1a1a" stroke-width="0.8"/>
<circle cx="533.86" cy="620.63" r="1.25" fill="#000"/>
<circle cx="535.85" cy="621.69" r="1.25" fill="#000"/>
<circle cx="538.00" cy="622.46" r="1.25" fill="#000"/>
<rect x="550.55" y="609.77" width="6.40" height="47.03" fill="#ffffff" stroke="#1a1a1a" stroke-width="0.8"/>
<line x1="553.75" y1="608.46" x2="553.75" y2="610.38" stroke="#1a1a1a" stroke-width="0.70"/>
<line x1="551.76" y1="608.46" x2="555.74" y2="608.46" stroke="#1a1a1a" stroke-width="0.70"/>
<line x1="551.76" y1="610.38" x2="555.74" y2="610.38" stroke="#1a1a1a" stroke-width="0.70"/>
<circle cx="553.75" cy="607.11" r="1.25" fill="#000"/>
<circle cx="551.91" cy="608.65" r="1.25" fill="#000"/>
<circle cx="555.59" cy="610.53" r="1.25" fill="#000"/>
<rect x="561.65" y="581.10" width="6.40" height="75.70" fill="#ed1c24" stroke="#1a1a1a" stroke-width="0.8"/>
<line x1="564.85" y1="579.98" x2="564.85" y2="581.52" stroke="#1a1a1a" stroke-width="0.70"/>
<line x1="562.86" y1="579.98" x2="566.84" y2="579.98" stroke="#1a1a1a" stroke-width="0.70"/>
<line x1="562.86" y1="581.52" x2="566.84" y2="581.52" stroke="#1a1a1a" stroke-width="0.70"/>
<circle cx="562.86" cy="578.78" r="1.25" fill="#000"/>
<circle cx="564.85" cy="579.98" r="1.25" fill="#000"/>
<circle cx="567.00" cy="581.38" r="1.25" fill="#000"/>
<rect x="572.65" y="612.37" width="6.40" height="44.43" fill="#808080" stroke="#1a1a1a" stroke-width="0.8"/>
<line x1="575.85" y1="610.82" x2="575.85" y2="613.22" stroke="#1a1a1a" stroke-width="0.70"/>
<line x1="573.86" y1="610.82" x2="577.84" y2="610.82" stroke="#1a1a1a" stroke-width="0.70"/>
<line x1="573.86" y1="613.22" x2="577.84" y2="613.22" stroke="#1a1a1a" stroke-width="0.70"/>
<circle cx="575.85" cy="608.99" r="1.25" fill="#000"/>
<circle cx="574.01" cy="611.73" r="1.25" fill="#000"/>
<circle cx="577.69" cy="612.98" r="1.25" fill="#000"/>
<rect x="583.55" y="590.34" width="6.40" height="66.46" fill="#f7941d" stroke="#1a1a1a" stroke-width="0.8"/>
<line x1="586.75" y1="587.68" x2="586.75" y2="592.30" stroke="#1a1a1a" stroke-width="0.70"/>
<line x1="584.76" y1="587.68" x2="588.74" y2="587.68" stroke="#1a1a1a" stroke-width="0.70"/>
<line x1="584.76" y1="592.30" x2="588.74" y2="592.30" stroke="#1a1a1a" stroke-width="0.70"/>
<circle cx="585.06" cy="585.37" r="1.25" fill="#000"/>
<circle cx="588.59" cy="587.97" r="1.25" fill="#000"/>
<circle cx="586.75" cy="593.36" r="1.25" fill="#000"/>
<line x1="393.80" y1="560.20" x2="393.80" y2="657.20" stroke="#1a1a1a" stroke-width="0.85"/>
<line x1="393.40" y1="656.80" x2="594.50" y2="656.80" stroke="#1a1a1a" stroke-width="0.85"/>
<line x1="388.30" y1="656.80" x2="393.80" y2="656.80" stroke="#1a1a1a" stroke-width="0.85"/>
<text x="387.00" y="659.80" font-size="8.40" text-anchor="end" fill="#1a1a1a">0.0</text>
<line x1="388.30" y1="632.75" x2="393.80" y2="632.75" stroke="#1a1a1a" stroke-width="0.85"/>
<text x="387.00" y="635.75" font-size="8.40" text-anchor="end" fill="#1a1a1a">0.5</text>
<line x1="388.30" y1="608.70" x2="393.80" y2="608.70" stroke="#1a1a1a" stroke-width="0.85"/>
<text x="387.00" y="611.70" font-size="8.40" text-anchor="end" fill="#1a1a1a">1.0</text>
<line x1="388.30" y1="584.65" x2="393.80" y2="584.65" stroke="#1a1a1a" stroke-width="0.85"/>
<text x="387.00" y="587.65" font-size="8.40" text-anchor="end" fill="#1a1a1a">1.5</text>
<line x1="388.30" y1="560.60" x2="393.80" y2="560.60" stroke="#1a1a1a" stroke-width="0.85"/>
<text x="387.00" y="563.60" font-size="8.40" text-anchor="end" fill="#1a1a1a">2.0</text>
<text transform="translate(367.00,609.00) rotate(-90)" font-size="8.40" text-anchor="middle" fill="#1a1a1a">Fold Change</text>
<line x1="417.15" y1="656.80" x2="417.15" y2="661.40" stroke="#1a1a1a" stroke-width="0.85"/>
<text x="417.40" y="671.50" font-size="8.60" text-anchor="middle" fill="#1a1a1a">p-p70S6K</text>
<line x1="468.25" y1="656.80" x2="468.25" y2="661.40" stroke="#1a1a1a" stroke-width="0.85"/>
<text x="466.90" y="671.50" font-size="8.60" text-anchor="middle" fill="#1a1a1a">p-Akt</text>
<line x1="519.00" y1="656.80" x2="519.00" y2="661.40" stroke="#1a1a1a" stroke-width="0.85"/>
<text x="519.70" y="671.50" font-size="8.60" text-anchor="middle" fill="#1a1a1a">p-ERK</text>
<line x1="569.95" y1="656.80" x2="569.95" y2="661.40" stroke="#1a1a1a" stroke-width="0.85"/>
<text x="568.90" y="671.50" font-size="8.60" text-anchor="middle" fill="#1a1a1a">LC3B II/I</text>
<text x="428.30" y="573.50" font-size="5.00" text-anchor="middle" fill="#222">p=0.019</text>
<line x1="422.90" y1="575.00" x2="433.50" y2="575.00" stroke="#222" stroke-width="0.75"/>
<text x="461.90" y="565.50" font-size="5.00" text-anchor="middle" fill="#222">p&lt;0.001</text>
<line x1="451.30" y1="568.40" x2="473.20" y2="568.40" stroke="#222" stroke-width="0.75"/>
<text x="478.00" y="573.50" font-size="5.00" text-anchor="middle" fill="#222">p&lt;0.001</text>
<line x1="473.20" y1="575.00" x2="484.00" y2="575.00" stroke="#222" stroke-width="0.75"/>
<text x="525.10" y="565.60" font-size="5.00" text-anchor="middle" fill="#222">p=0.014</text>
<line x1="513.50" y1="568.50" x2="535.90" y2="568.50" stroke="#222" stroke-width="0.75"/>
<text x="530.70" y="573.40" font-size="5.00" text-anchor="middle" fill="#222">p=0.002</text>
<line x1="525.10" y1="575.00" x2="535.90" y2="575.00" stroke="#222" stroke-width="0.75"/>
<text x="575.90" y="565.60" font-size="5.00" text-anchor="middle" fill="#222">p=0.025</text>
<line x1="564.80" y1="568.50" x2="587.00" y2="568.50" stroke="#222" stroke-width="0.75"/>
<text x="560.20" y="573.40" font-size="5.00" text-anchor="middle" fill="#222">p&lt;0.001</text>
<line x1="554.00" y1="575.00" x2="564.80" y2="575.00" stroke="#222" stroke-width="0.75"/>
<text x="581.70" y="573.40" font-size="5.00" text-anchor="middle" fill="#222">p&lt;0.001</text>
<line x1="576.40" y1="575.00" x2="586.40" y2="575.00" stroke="#222" stroke-width="0.75"/>
<rect x="596.00" y="558.55" width="12.00" height="4.30" fill="#ffffff" stroke="#1a1a1a" stroke-width="0.8"/>
<text x="616.10" y="563.40" font-size="8.50" text-anchor="start" fill="#1a1a1a">Ad-<tspan font-style="italic">EGFP</tspan>+si<tspan font-style="italic">Neg</tspan></text>
<rect x="596.00" y="570.45" width="12.00" height="4.30" fill="#ed1c24" stroke="#1a1a1a" stroke-width="0.8"/>
<text x="616.10" y="575.30" font-size="8.50" text-anchor="start" fill="#1a1a1a">Ad-<tspan font-style="italic">EGFP</tspan>+si<tspan font-style="italic">Fgfr1</tspan></text>
<rect x="596.00" y="582.55" width="12.00" height="4.30" fill="#808080" stroke="#1a1a1a" stroke-width="0.8"/>
<text x="616.10" y="587.40" font-size="8.50" text-anchor="start" fill="#1a1a1a">Ad-<tspan font-style="italic" letter-spacing="-0.2">Armh4</tspan>+si<tspan font-style="italic">Neg</tspan></text>
<rect x="596.00" y="594.45" width="12.00" height="4.30" fill="#f7941d" stroke="#1a1a1a" stroke-width="0.8"/>
<text x="616.10" y="599.30" font-size="8.50" text-anchor="start" fill="#1a1a1a">Ad-<tspan font-style="italic" letter-spacing="-0.2">Armh4</tspan>+si<tspan font-style="italic">Fgfr1</tspan></text>
<text x="49.00" y="696.20" font-size="8.75" text-anchor="end" fill="#1a1a1a">si<tspan font-style="italic">Neg</tspan></text>
<circle cx="64.00" cy="693.40" r="2.80" fill="#000"/>
<circle cx="80.87" cy="693.40" r="2.80" fill="#000"/>
<circle cx="97.74" cy="693.40" r="2.80" fill="#000"/>
<circle cx="114.61" cy="693.40" r="2.50" fill="#fff" stroke="#111" stroke-width="0.7"/>
<circle cx="131.48" cy="693.40" r="2.50" fill="#fff" stroke="#111" stroke-width="0.7"/>
<circle cx="148.35" cy="693.40" r="2.50" fill="#fff" stroke="#111" stroke-width="0.7"/>
<circle cx="165.22" cy="693.40" r="2.80" fill="#000"/>
<circle cx="182.09" cy="693.40" r="2.80" fill="#000"/>
<circle cx="198.96" cy="693.40" r="2.80" fill="#000"/>
<circle cx="215.83" cy="693.40" r="2.50" fill="#fff" stroke="#111" stroke-width="0.7"/>
<circle cx="232.70" cy="693.40" r="2.50" fill="#fff" stroke="#111" stroke-width="0.7"/>
<circle cx="249.57" cy="693.40" r="2.50" fill="#fff" stroke="#111" stroke-width="0.7"/>
<text x="49.00" y="709.20" font-size="8.75" text-anchor="end" fill="#1a1a1a">si<tspan font-style="italic" letter-spacing="-0.2">Armh4</tspan></text>
<circle cx="64.00" cy="706.40" r="2.50" fill="#fff" stroke="#111" stroke-width="0.7"/>
<circle cx="80.87" cy="706.40" r="2.50" fill="#fff" stroke="#111" stroke-width="0.7"/>
<circle cx="97.74" cy="706.40" r="2.50" fill="#fff" stroke="#111" stroke-width="0.7"/>
<circle cx="114.61" cy="706.40" r="2.80" fill="#000"/>
<circle cx="131.48" cy="706.40" r="2.80" fill="#000"/>
<circle cx="148.35" cy="706.40" r="2.80" fill="#000"/>
<circle cx="165.22" cy="706.40" r="2.50" fill="#fff" stroke="#111" stroke-width="0.7"/>
<circle cx="182.09" cy="706.40" r="2.50" fill="#fff" stroke="#111" stroke-width="0.7"/>
<circle cx="198.96" cy="706.40" r="2.50" fill="#fff" stroke="#111" stroke-width="0.7"/>
<circle cx="215.83" cy="706.40" r="2.80" fill="#000"/>
<circle cx="232.70" cy="706.40" r="2.80" fill="#000"/>
<circle cx="249.57" cy="706.40" r="2.80" fill="#000"/>
<text x="49.00" y="722.60" font-size="8.75" text-anchor="end" fill="#1a1a1a">IGF1</text>
<circle cx="64.00" cy="719.80" r="2.50" fill="#fff" stroke="#111" stroke-width="0.7"/>
<circle cx="80.87" cy="719.80" r="2.50" fill="#fff" stroke="#111" stroke-width="0.7"/>
<circle cx="97.74" cy="719.80" r="2.50" fill="#fff" stroke="#111" stroke-width="0.7"/>
<circle cx="114.61" cy="719.80" r="2.50" fill="#fff" stroke="#111" stroke-width="0.7"/>
<circle cx="131.48" cy="719.80" r="2.50" fill="#fff" stroke="#111" stroke-width="0.7"/>
<circle cx="148.35" cy="719.80" r="2.50" fill="#fff" stroke="#111" stroke-width="0.7"/>
<circle cx="165.22" cy="719.80" r="2.80" fill="#000"/>
<circle cx="182.09" cy="719.80" r="2.80" fill="#000"/>
<circle cx="198.96" cy="719.80" r="2.80" fill="#000"/>
<circle cx="215.83" cy="719.80" r="2.80" fill="#000"/>
<circle cx="232.70" cy="719.80" r="2.80" fill="#000"/>
<circle cx="249.57" cy="719.80" r="2.80" fill="#000"/>
<clipPath id="c35"><rect x="53.30" y="727.80" width="205.40" height="16.80"/></clipPath>
<rect x="53.30" y="727.80" width="205.40" height="16.80" fill="#cecece"/>
<g clip-path="url(#c35)"><g filter="url(#bl)">
<rect x="57.82" y="735.33" width="12.36" height="2.55" rx="3.71" ry="1.27" fill="#000" fill-opacity="0.63"/>
<rect x="74.73" y="735.34" width="12.27" height="2.52" rx="3.68" ry="1.26" fill="#000" fill-opacity="0.50"/>
<rect x="91.56" y="735.33" width="12.36" height="2.55" rx="3.71" ry="1.27" fill="#000" fill-opacity="0.63"/>
<rect x="108.65" y="735.40" width="11.92" height="2.41" rx="3.58" ry="1.20" fill="#000" fill-opacity="0.30"/>
<rect x="125.56" y="735.41" width="11.83" height="2.38" rx="3.55" ry="1.19" fill="#000" fill-opacity="0.25"/>
<rect x="142.35" y="735.38" width="12.01" height="2.44" rx="3.60" ry="1.22" fill="#000" fill-opacity="0.35"/>
<rect x="158.73" y="735.23" width="12.98" height="2.74" rx="3.89" ry="1.37" fill="#000" fill-opacity="1.00"/>
<rect x="175.64" y="735.24" width="12.89" height="2.72" rx="3.87" ry="1.36" fill="#000" fill-opacity="0.98"/>
<rect x="192.51" y="735.24" width="12.89" height="2.72" rx="3.87" ry="1.36" fill="#000" fill-opacity="0.98"/>
<rect x="209.60" y="735.31" width="12.45" height="2.58" rx="3.74" ry="1.29" fill="#000" fill-opacity="0.69"/>
<rect x="226.34" y="735.27" width="12.72" height="2.66" rx="3.81" ry="1.33" fill="#000" fill-opacity="0.86"/>
<rect x="243.34" y="735.31" width="12.45" height="2.58" rx="3.74" ry="1.29" fill="#000" fill-opacity="0.69"/>
</g></g>
<rect x="53.30" y="727.80" width="205.40" height="16.80" fill="none" stroke="#4a4646" stroke-width="0.9"/>
<clipPath id="c36"><rect x="53.30" y="747.10" width="205.40" height="15.90"/></clipPath>
<rect x="53.30" y="747.10" width="205.40" height="15.90" fill="#dedede"/>
<g clip-path="url(#c36)"><g filter="url(#bl)">
<rect x="56.81" y="754.42" width="14.38" height="3.56" rx="4.31" ry="1.78" fill="#000" fill-opacity="1.00"/>
<rect x="73.68" y="754.42" width="14.38" height="3.56" rx="4.31" ry="1.78" fill="#000" fill-opacity="1.00"/>
<rect x="90.55" y="754.42" width="14.38" height="3.56" rx="4.31" ry="1.78" fill="#000" fill-opacity="1.00"/>
<rect x="107.42" y="754.42" width="14.38" height="3.56" rx="4.31" ry="1.78" fill="#000" fill-opacity="1.00"/>
<rect x="124.29" y="754.42" width="14.38" height="3.56" rx="4.31" ry="1.78" fill="#000" fill-opacity="1.00"/>
<rect x="141.16" y="754.42" width="14.38" height="3.56" rx="4.31" ry="1.78" fill="#000" fill-opacity="1.00"/>
<rect x="158.03" y="754.42" width="14.38" height="3.56" rx="4.31" ry="1.78" fill="#000" fill-opacity="1.00"/>
<rect x="174.90" y="754.42" width="14.38" height="3.56" rx="4.31" ry="1.78" fill="#000" fill-opacity="1.00"/>
<rect x="191.77" y="754.42" width="14.38" height="3.56" rx="4.31" ry="1.78" fill="#000" fill-opacity="1.00"/>
<rect x="208.64" y="754.42" width="14.38" height="3.56" rx="4.31" ry="1.78" fill="#000" fill-opacity="1.00"/>
<rect x="225.51" y="754.42" width="14.38" height="3.56" rx="4.31" ry="1.78" fill="#000" fill-opacity="1.00"/>
<rect x="242.38" y="754.42" width="14.38" height="3.56" rx="4.31" ry="1.78" fill="#000" fill-opacity="1.00"/>
</g></g>
<rect x="53.30" y="747.10" width="205.40" height="15.90" fill="none" stroke="#4a4646" stroke-width="0.9"/>
<clipPath id="c37"><rect x="53.30" y="765.50" width="205.40" height="16.80"/></clipPath>
<rect x="53.30" y="765.50" width="205.40" height="16.80" fill="#c8c8c8"/>
<g clip-path="url(#c37)"><g filter="url(#bl)">
<rect x="57.55" y="772.04" width="12.89" height="2.91" rx="3.87" ry="1.46" fill="#000" fill-opacity="0.98"/>
<rect x="74.51" y="772.08" width="12.72" height="2.85" rx="3.81" ry="1.43" fill="#000" fill-opacity="0.86"/>
<rect x="91.34" y="772.06" width="12.80" height="2.88" rx="3.84" ry="1.44" fill="#000" fill-opacity="0.92"/>
<rect x="108.65" y="772.21" width="11.92" height="2.58" rx="3.58" ry="1.29" fill="#000" fill-opacity="0.30"/>
<rect x="125.61" y="772.24" width="11.74" height="2.52" rx="3.52" ry="1.26" fill="#000" fill-opacity="0.20"/>
<rect x="142.43" y="772.23" width="11.83" height="2.55" rx="3.55" ry="1.28" fill="#000" fill-opacity="0.25"/>
<rect x="158.73" y="772.03" width="12.98" height="2.94" rx="3.89" ry="1.47" fill="#000" fill-opacity="1.00"/>
<rect x="175.64" y="772.04" width="12.89" height="2.91" rx="3.87" ry="1.46" fill="#000" fill-opacity="0.98"/>
<rect x="192.42" y="772.01" width="13.07" height="2.97" rx="3.92" ry="1.48" fill="#000" fill-opacity="1.00"/>
<rect x="209.87" y="772.21" width="11.92" height="2.58" rx="3.58" ry="1.29" fill="#000" fill-opacity="0.30"/>
<rect x="226.56" y="772.15" width="12.27" height="2.70" rx="3.68" ry="1.35" fill="#000" fill-opacity="0.50"/>
<rect x="243.57" y="772.20" width="12.01" height="2.61" rx="3.60" ry="1.30" fill="#000" fill-opacity="0.35"/>
</g></g>
<rect x="53.30" y="765.50" width="205.40" height="16.80" fill="none" stroke="#4a4646" stroke-width="0.9"/>
<clipPath id="c38"><rect x="53.30" y="784.80" width="205.40" height="15.80"/></clipPath>
<rect x="53.30" y="784.80" width="205.40" height="15.80" fill="#dedede"/>
<g clip-path="url(#c38)"><g filter="url(#bl)">
<rect x="56.48" y="791.32" width="15.03" height="3.37" rx="1.68" ry="1.68" fill="#000" fill-opacity="1.00"/>
<rect x="73.35" y="791.32" width="15.03" height="3.37" rx="1.68" ry="1.68" fill="#000" fill-opacity="1.00"/>
<rect x="90.22" y="791.32" width="15.03" height="3.37" rx="1.68" ry="1.68" fill="#000" fill-opacity="1.00"/>
<rect x="107.09" y="791.32" width="15.03" height="3.37" rx="1.68" ry="1.68" fill="#000" fill-opacity="1.00"/>
<rect x="123.96" y="791.32" width="15.03" height="3.37" rx="1.68" ry="1.68" fill="#000" fill-opacity="1.00"/>
<rect x="140.83" y="791.32" width="15.03" height="3.37" rx="1.68" ry="1.68" fill="#000" fill-opacity="1.00"/>
<rect x="157.70" y="791.32" width="15.03" height="3.37" rx="1.68" ry="1.68" fill="#000" fill-opacity="1.00"/>
<rect x="174.57" y="791.32" width="15.03" height="3.37" rx="1.68" ry="1.68" fill="#000" fill-opacity="1.00"/>
<rect x="191.44" y="791.32" width="15.03" height="3.37" rx="1.68" ry="1.68" fill="#000" fill-opacity="1.00"/>
<rect x="208.31" y="791.32" width="15.03" height="3.37" rx="1.68" ry="1.68" fill="#000" fill-opacity="1.00"/>
<rect x="225.18" y="791.32" width="15.03" height="3.37" rx="1.68" ry="1.68" fill="#000" fill-opacity="1.00"/>
<rect x="242.05" y="791.32" width="15.03" height="3.37" rx="1.68" ry="1.68" fill="#000" fill-opacity="1.00"/>
</g></g>
<rect x="53.30" y="784.80" width="205.40" height="15.80" fill="none" stroke="#4a4646" stroke-width="0.9"/>
<clipPath id="c39"><rect x="53.30" y="803.10" width="205.40" height="16.60"/></clipPath>
<rect x="53.30" y="803.10" width="205.40" height="16.60" fill="#d0d0d0"/>
<g clip-path="url(#c39)"><g filter="url(#bl)">
<rect x="57.69" y="807.48" width="12.63" height="2.44" rx="3.79" ry="1.22" fill="#000" fill-opacity="0.80"/>
<rect x="74.51" y="807.47" width="12.72" height="2.47" rx="3.81" ry="1.24" fill="#000" fill-opacity="0.86"/>
<rect x="91.43" y="807.48" width="12.63" height="2.44" rx="3.79" ry="1.22" fill="#000" fill-opacity="0.80"/>
<rect x="108.30" y="807.48" width="12.63" height="2.44" rx="3.79" ry="1.22" fill="#000" fill-opacity="0.80"/>
<rect x="125.17" y="807.48" width="12.63" height="2.44" rx="3.79" ry="1.22" fill="#000" fill-opacity="0.80"/>
<rect x="141.99" y="807.47" width="12.72" height="2.47" rx="3.81" ry="1.24" fill="#000" fill-opacity="0.86"/>
<rect x="158.82" y="807.45" width="12.80" height="2.50" rx="3.84" ry="1.25" fill="#000" fill-opacity="0.92"/>
<rect x="175.86" y="807.50" width="12.45" height="2.39" rx="3.74" ry="1.20" fill="#000" fill-opacity="0.69"/>
<rect x="192.78" y="807.52" width="12.36" height="2.37" rx="3.71" ry="1.18" fill="#000" fill-opacity="0.63"/>
<rect x="209.60" y="807.50" width="12.45" height="2.39" rx="3.74" ry="1.20" fill="#000" fill-opacity="0.69"/>
<rect x="226.39" y="807.48" width="12.63" height="2.44" rx="3.79" ry="1.22" fill="#000" fill-opacity="0.80"/>
<rect x="243.34" y="807.50" width="12.45" height="2.39" rx="3.74" ry="1.20" fill="#000" fill-opacity="0.69"/>
<rect x="57.51" y="811.23" width="12.98" height="3.33" rx="3.89" ry="1.67" fill="#000" fill-opacity="1.00"/>
<rect x="74.38" y="811.23" width="12.98" height="3.33" rx="3.89" ry="1.67" fill="#000" fill-opacity="1.00"/>
<rect x="91.25" y="811.23" width="12.98" height="3.33" rx="3.89" ry="1.67" fill="#000" fill-opacity="1.00"/>
<rect x="108.21" y="811.27" width="12.80" height="3.26" rx="3.84" ry="1.63" fill="#000" fill-opacity="0.92"/>
<rect x="125.08" y="811.27" width="12.80" height="3.26" rx="3.84" ry="1.63" fill="#000" fill-opacity="0.92"/>
<rect x="141.90" y="811.25" width="12.89" height="3.30" rx="3.87" ry="1.65" fill="#000" fill-opacity="0.98"/>
<rect x="158.77" y="811.25" width="12.89" height="3.30" rx="3.87" ry="1.65" fill="#000" fill-opacity="0.98"/>
<rect x="175.69" y="811.27" width="12.80" height="3.26" rx="3.84" ry="1.63" fill="#000" fill-opacity="0.92"/>
<rect x="192.56" y="811.27" width="12.80" height="3.26" rx="3.84" ry="1.63" fill="#000" fill-opacity="0.92"/>
<rect x="209.38" y="811.25" width="12.89" height="3.30" rx="3.87" ry="1.65" fill="#000" fill-opacity="0.98"/>
<rect x="226.21" y="811.23" width="12.98" height="3.33" rx="3.89" ry="1.67" fill="#000" fill-opacity="1.00"/>
<rect x="243.17" y="811.27" width="12.80" height="3.26" rx="3.84" ry="1.63" fill="#000" fill-opacity="0.92"/>
</g></g>
<rect x="53.30" y="803.10" width="205.40" height="16.60" fill="none" stroke="#4a4646" stroke-width="0.9"/>
<clipPath id="c40"><rect x="53.30" y="821.70" width="205.40" height="16.60"/></clipPath>
<rect x="53.30" y="821.70" width="205.40" height="16.60" fill="#c6c6c6"/>
<g clip-path="url(#c40)"><g filter="url(#bl)">
<rect x="56.81" y="828.81" width="14.38" height="2.97" rx="4.31" ry="1.48" fill="#000" fill-opacity="1.00"/>
<rect x="73.68" y="828.81" width="14.38" height="2.97" rx="4.31" ry="1.48" fill="#000" fill-opacity="1.00"/>
<rect x="90.55" y="828.81" width="14.38" height="2.97" rx="4.31" ry="1.48" fill="#000" fill-opacity="1.00"/>
<rect x="107.42" y="828.81" width="14.38" height="2.97" rx="4.31" ry="1.48" fill="#000" fill-opacity="1.00"/>
<rect x="124.29" y="828.81" width="14.38" height="2.97" rx="4.31" ry="1.48" fill="#000" fill-opacity="1.00"/>
<rect x="141.16" y="828.81" width="14.38" height="2.97" rx="4.31" ry="1.48" fill="#000" fill-opacity="1.00"/>
<rect x="158.03" y="828.81" width="14.38" height="2.97" rx="4.31" ry="1.48" fill="#000" fill-opacity="1.00"/>
<rect x="174.90" y="828.81" width="14.38" height="2.97" rx="4.31" ry="1.48" fill="#000" fill-opacity="1.00"/>
<rect x="191.77" y="828.81" width="14.38" height="2.97" rx="4.31" ry="1.48" fill="#000" fill-opacity="1.00"/>
<rect x="208.64" y="828.81" width="14.38" height="2.97" rx="4.31" ry="1.48" fill="#000" fill-opacity="1.00"/>
<rect x="225.51" y="828.81" width="14.38" height="2.97" rx="4.31" ry="1.48" fill="#000" fill-opacity="1.00"/>
<rect x="242.38" y="828.81" width="14.38" height="2.97" rx="4.31" ry="1.48" fill="#000" fill-opacity="1.00"/>
<rect x="57.30" y="833.91" width="13.40" height="1.78" rx="4.02" ry="0.89" fill="#000" fill-opacity="0.45"/>
<rect x="74.17" y="833.91" width="13.40" height="1.78" rx="4.02" ry="0.89" fill="#000" fill-opacity="0.45"/>
<rect x="91.04" y="833.91" width="13.40" height="1.78" rx="4.02" ry="0.89" fill="#000" fill-opacity="0.45"/>
<rect x="107.91" y="833.91" width="13.40" height="1.78" rx="4.02" ry="0.89" fill="#000" fill-opacity="0.45"/>
<rect x="124.78" y="833.91" width="13.40" height="1.78" rx="4.02" ry="0.89" fill="#000" fill-opacity="0.45"/>
<rect x="141.65" y="833.91" width="13.40" height="1.78" rx="4.02" ry="0.89" fill="#000" fill-opacity="0.45"/>
<rect x="158.52" y="833.91" width="13.40" height="1.78" rx="4.02" ry="0.89" fill="#000" fill-opacity="0.45"/>
<rect x="175.39" y="833.91" width="13.40" height="1.78" rx="4.02" ry="0.89" fill="#000" fill-opacity="0.45"/>
<rect x="192.26" y="833.91" width="13.40" height="1.78" rx="4.02" ry="0.89" fill="#000" fill-opacity="0.45"/>
<rect x="209.13" y="833.91" width="13.40" height="1.78" rx="4.02" ry="0.89" fill="#000" fill-opacity="0.45"/>
<rect x="226.00" y="833.91" width="13.40" height="1.78" rx="4.02" ry="0.89" fill="#000" fill-opacity="0.45"/>
<rect x="242.87" y="833.91" width="13.40" height="1.78" rx="4.02" ry="0.89" fill="#000" fill-opacity="0.45"/>
</g></g>
<rect x="53.30" y="821.70" width="205.40" height="16.60" fill="none" stroke="#4a4646" stroke-width="0.9"/>
<clipPath id="c41"><rect x="53.30" y="840.30" width="205.40" height="20.60"/></clipPath>
<rect x="53.30" y="840.30" width="205.40" height="20.60" fill="#e6e6e6"/>
<g clip-path="url(#c41)"><g filter="url(#bl)">
<rect x="55.29" y="853.08" width="17.43" height="7.43" rx="3.72" ry="3.72" fill="#000" fill-opacity="0.13"/>
<rect x="72.16" y="853.08" width="17.43" height="7.43" rx="3.72" ry="3.72" fill="#000" fill-opacity="0.13"/>
<rect x="89.03" y="853.08" width="17.43" height="7.43" rx="3.72" ry="3.72" fill="#000" fill-opacity="0.13"/>
<rect x="105.90" y="853.08" width="17.43" height="7.43" rx="3.72" ry="3.72" fill="#000" fill-opacity="0.13"/>
<rect x="122.77" y="853.08" width="17.43" height="7.43" rx="3.72" ry="3.72" fill="#000" fill-opacity="0.13"/>
<rect x="139.64" y="853.08" width="17.43" height="7.43" rx="3.72" ry="3.72" fill="#000" fill-opacity="0.13"/>
<rect x="156.51" y="853.08" width="17.43" height="7.43" rx="3.72" ry="3.72" fill="#000" fill-opacity="0.13"/>
<rect x="173.38" y="853.08" width="17.43" height="7.43" rx="3.72" ry="3.72" fill="#000" fill-opacity="0.13"/>
<rect x="190.25" y="853.08" width="17.43" height="7.43" rx="3.72" ry="3.72" fill="#000" fill-opacity="0.13"/>
<rect x="207.12" y="853.08" width="17.43" height="7.43" rx="3.72" ry="3.72" fill="#000" fill-opacity="0.13"/>
<rect x="223.99" y="853.08" width="17.43" height="7.43" rx="3.72" ry="3.72" fill="#000" fill-opacity="0.13"/>
<rect x="240.86" y="853.08" width="17.43" height="7.43" rx="3.72" ry="3.72" fill="#000" fill-opacity="0.13"/>
<rect x="57.88" y="846.89" width="12.24" height="1.83" rx="3.67" ry="0.91" fill="#000" fill-opacity="0.15"/>
<rect x="74.71" y="846.42" width="12.33" height="1.85" rx="3.70" ry="0.92" fill="#000" fill-opacity="0.20"/>
<rect x="91.58" y="845.97" width="12.33" height="1.85" rx="3.70" ry="0.92" fill="#000" fill-opacity="0.20"/>
<rect x="108.31" y="845.48" width="12.61" height="1.91" rx="3.78" ry="0.96" fill="#000" fill-opacity="0.35"/>
<rect x="125.22" y="845.04" width="12.51" height="1.89" rx="3.75" ry="0.95" fill="#000" fill-opacity="0.30"/>
<rect x="142.14" y="844.59" width="12.42" height="1.87" rx="3.73" ry="0.94" fill="#000" fill-opacity="0.25"/>
<rect x="159.01" y="844.14" width="12.42" height="1.87" rx="3.73" ry="0.94" fill="#000" fill-opacity="0.25"/>
<rect x="175.93" y="843.69" width="12.33" height="1.85" rx="3.70" ry="0.92" fill="#000" fill-opacity="0.20"/>
<rect x="192.80" y="843.24" width="12.33" height="1.85" rx="3.70" ry="0.92" fill="#000" fill-opacity="0.20"/>
<rect x="209.67" y="842.79" width="12.33" height="1.85" rx="3.70" ry="0.92" fill="#000" fill-opacity="0.20"/>
<rect x="226.58" y="842.34" width="12.24" height="1.83" rx="3.67" ry="0.91" fill="#000" fill-opacity="0.15"/>
<rect x="243.36" y="841.87" width="12.42" height="1.87" rx="3.73" ry="0.94" fill="#000" fill-opacity="0.25"/>
<rect x="57.28" y="856.74" width="13.45" height="3.31" rx="4.03" ry="1.66" fill="#000" fill-opacity="0.69"/>
<rect x="74.05" y="856.33" width="13.64" height="3.38" rx="4.09" ry="1.69" fill="#000" fill-opacity="0.80"/>
<rect x="90.92" y="855.94" width="13.64" height="3.38" rx="4.09" ry="1.69" fill="#000" fill-opacity="0.80"/>
<rect x="107.50" y="855.45" width="14.21" height="3.60" rx="4.26" ry="1.80" fill="#000" fill-opacity="1.00"/>
<rect x="124.37" y="855.07" width="14.21" height="3.60" rx="4.26" ry="1.80" fill="#000" fill-opacity="1.00"/>
<rect x="141.29" y="854.71" width="14.12" height="3.56" rx="4.23" ry="1.78" fill="#000" fill-opacity="1.00"/>
<rect x="158.21" y="854.35" width="14.02" height="3.53" rx="4.21" ry="1.76" fill="#000" fill-opacity="1.00"/>
<rect x="175.22" y="854.02" width="13.73" height="3.42" rx="4.12" ry="1.71" fill="#000" fill-opacity="0.86"/>
<rect x="192.05" y="853.62" width="13.83" height="3.46" rx="4.15" ry="1.73" fill="#000" fill-opacity="0.92"/>
<rect x="208.77" y="853.18" width="14.12" height="3.56" rx="4.23" ry="1.78" fill="#000" fill-opacity="1.00"/>
<rect x="225.64" y="852.80" width="14.12" height="3.56" rx="4.23" ry="1.78" fill="#000" fill-opacity="1.00"/>
<rect x="242.51" y="852.42" width="14.12" height="3.56" rx="4.23" ry="1.78" fill="#000" fill-opacity="1.00"/>
</g></g>
<rect x="53.30" y="840.30" width="205.40" height="20.60" fill="none" stroke="#4a4646" stroke-width="0.9"/>
<clipPath id="c42"><rect x="53.30" y="862.90" width="205.40" height="15.80"/></clipPath>
<rect x="53.30" y="862.90" width="205.40" height="15.80" fill="#e2e2e2"/>
<g clip-path="url(#c42)"><g filter="url(#bl)">
<rect x="56.50" y="867.10" width="15.00" height="3.00" rx="1.50" ry="1.50" fill="#000" fill-opacity="1.00"/>
<rect x="73.37" y="867.37" width="15.00" height="3.00" rx="1.50" ry="1.50" fill="#000" fill-opacity="1.00"/>
<rect x="90.24" y="867.65" width="15.00" height="3.00" rx="1.50" ry="1.50" fill="#000" fill-opacity="1.00"/>
<rect x="107.11" y="867.92" width="15.00" height="3.00" rx="1.50" ry="1.50" fill="#000" fill-opacity="1.00"/>
<rect x="123.98" y="868.19" width="15.00" height="3.00" rx="1.50" ry="1.50" fill="#000" fill-opacity="1.00"/>
<rect x="140.85" y="868.46" width="15.00" height="3.00" rx="1.50" ry="1.50" fill="#000" fill-opacity="1.00"/>
<rect x="157.72" y="868.74" width="15.00" height="3.00" rx="1.50" ry="1.50" fill="#000" fill-opacity="1.00"/>
<rect x="174.59" y="869.01" width="15.00" height="3.00" rx="1.50" ry="1.50" fill="#000" fill-opacity="1.00"/>
<rect x="191.46" y="869.28" width="15.00" height="3.00" rx="1.50" ry="1.50" fill="#000" fill-opacity="1.00"/>
<rect x="208.33" y="869.55" width="15.00" height="3.00" rx="1.50" ry="1.50" fill="#000" fill-opacity="1.00"/>
<rect x="225.20" y="869.83" width="15.00" height="3.00" rx="1.50" ry="1.50" fill="#000" fill-opacity="1.00"/>
<rect x="242.07" y="870.10" width="15.00" height="3.00" rx="1.50" ry="1.50" fill="#000" fill-opacity="1.00"/>
</g></g>
<rect x="53.30" y="862.90" width="205.40" height="15.80" fill="none" stroke="#4a4646" stroke-width="0.9"/>
<text x="48.80" y="740.50" font-size="8.60" text-anchor="end" fill="#1a1a1a">p-p70S6K</text>
<text x="48.80" y="758.50" font-size="8.60" text-anchor="end" fill="#1a1a1a">p70S6K</text>
<text x="48.80" y="777.00" font-size="8.60" text-anchor="end" fill="#1a1a1a">p-Akt</text>
<text x="48.80" y="796.00" font-size="8.60" text-anchor="end" fill="#1a1a1a">Akt</text>
<text x="48.80" y="814.50" font-size="8.60" text-anchor="end" fill="#1a1a1a">p-ERK</text>
<text x="48.80" y="832.30" font-size="8.60" text-anchor="end" fill="#1a1a1a">ERK</text>
<text x="48.80" y="848.80" font-size="8.60" text-anchor="end" fill="#1a1a1a">LC3B I</text>
<text x="48.80" y="859.30" font-size="8.60" text-anchor="end" fill="#1a1a1a">LC3B II</text>
<text x="48.80" y="873.00" font-size="8.60" text-anchor="end" fill="#1a1a1a">GAPDH</text>
<text x="266.80" y="717.10" font-size="5.30" text-anchor="middle" fill="#1a1a1a">MW</text>
<text x="267.50" y="722.90" font-size="5.30" text-anchor="middle" fill="#1a1a1a">(kDa)</text>
<line x1="258.70" y1="729.80" x2="261.60" y2="729.80" stroke="#222" stroke-width="0.75"/>
<text x="263.70" y="732.30" font-size="7.05" text-anchor="start" fill="#1a1a1a" textLength="11.0">100</text>
<line x1="258.70" y1="737.80" x2="261.60" y2="737.80" stroke="#222" stroke-width="0.75"/>
<text x="263.70" y="740.30" font-size="7.05" text-anchor="start" fill="#1a1a1a">70</text>
<line x1="258.70" y1="749.10" x2="261.60" y2="749.10" stroke="#222" stroke-width="0.75"/>
<text x="263.70" y="751.60" font-size="7.05" text-anchor="start" fill="#1a1a1a" textLength="11.0">100</text>
<line x1="258.70" y1="758.40" x2="261.60" y2="758.40" stroke="#222" stroke-width="0.75"/>
<text x="263.70" y="760.90" font-size="7.05" text-anchor="start" fill="#1a1a1a">70</text>
<line x1="258.70" y1="769.20" x2="261.60" y2="769.20" stroke="#222" stroke-width="0.75"/>
<text x="263.70" y="771.70" font-size="7.05" text-anchor="start" fill="#1a1a1a">70</text>
<line x1="258.70" y1="779.00" x2="261.60" y2="779.00" stroke="#222" stroke-width="0.75"/>
<text x="263.70" y="781.50" font-size="7.05" text-anchor="start" fill="#1a1a1a">55</text>
<line x1="258.70" y1="789.50" x2="261.60" y2="789.50" stroke="#222" stroke-width="0.75"/>
<text x="263.70" y="792.00" font-size="7.05" text-anchor="start" fill="#1a1a1a">70</text>
<line x1="258.70" y1="798.80" x2="261.60" y2="798.80" stroke="#222" stroke-width="0.75"/>
<text x="263.70" y="801.30" font-size="7.05" text-anchor="start" fill="#1a1a1a">55</text>
<line x1="258.70" y1="811.90" x2="261.60" y2="811.90" stroke="#222" stroke-width="0.75"/>
<text x="263.70" y="814.40" font-size="7.05" text-anchor="start" fill="#1a1a1a">40</text>
<line x1="258.70" y1="831.00" x2="261.60" y2="831.00" stroke="#222" stroke-width="0.75"/>
<text x="263.70" y="833.50" font-size="7.05" text-anchor="start" fill="#1a1a1a">40</text>
<line x1="258.70" y1="849.60" x2="261.60" y2="849.60" stroke="#222" stroke-width="0.75"/>
<text x="263.70" y="852.10" font-size="7.05" text-anchor="start" fill="#1a1a1a">15</text>
<line x1="258.70" y1="865.40" x2="261.60" y2="865.40" stroke="#222" stroke-width="0.75"/>
<text x="263.70" y="867.90" font-size="7.05" text-anchor="start" fill="#1a1a1a">40</text>
<line x1="258.70" y1="877.50" x2="261.60" y2="877.50" stroke="#222" stroke-width="0.75"/>
<text x="263.70" y="880.00" font-size="7.05" text-anchor="start" fill="#1a1a1a">35</text>
<rect x="62.85" y="938.99" width="6.40" height="47.71" fill="#ffffff" stroke="#1a1a1a" stroke-width="0.8"/>
<line x1="66.05" y1="936.70" x2="66.05" y2="940.57" stroke="#1a1a1a" stroke-width="0.70"/>
<line x1="64.06" y1="936.70" x2="68.04" y2="936.70" stroke="#1a1a1a" stroke-width="0.70"/>
<line x1="64.06" y1="940.57" x2="68.04" y2="940.57" stroke="#1a1a1a" stroke-width="0.70"/>
<circle cx="64.21" cy="935.30" r="1.25" fill="#000"/>
<circle cx="67.89" cy="937.43" r="1.25" fill="#000"/>
<circle cx="66.05" cy="942.03" r="1.25" fill="#000"/>
<rect x="73.95" y="953.85" width="6.40" height="32.85" fill="#ed1c24" stroke="#1a1a1a" stroke-width="0.8"/>
<line x1="77.15" y1="952.05" x2="77.15" y2="954.95" stroke="#1a1a1a" stroke-width="0.70"/>
<line x1="75.16" y1="952.05" x2="79.14" y2="952.05" stroke="#1a1a1a" stroke-width="0.70"/>
<line x1="75.16" y1="954.95" x2="79.14" y2="954.95" stroke="#1a1a1a" stroke-width="0.70"/>
<circle cx="77.15" cy="950.45" r="1.25" fill="#000"/>
<circle cx="75.31" cy="953.98" r="1.25" fill="#000"/>
<circle cx="78.99" cy="955.19" r="1.25" fill="#000"/>
<rect x="84.95" y="905.59" width="6.40" height="81.11" fill="#808080" stroke="#1a1a1a" stroke-width="0.8"/>
<line x1="88.15" y1="903.06" x2="88.15" y2="907.42" stroke="#1a1a1a" stroke-width="0.70"/>
<line x1="86.16" y1="903.06" x2="90.14" y2="903.06" stroke="#1a1a1a" stroke-width="0.70"/>
<line x1="86.16" y1="907.42" x2="90.14" y2="907.42" stroke="#1a1a1a" stroke-width="0.70"/>
<circle cx="86.31" cy="902.19" r="1.25" fill="#000"/>
<circle cx="89.99" cy="903.11" r="1.25" fill="#000"/>
<circle cx="88.15" cy="909.21" r="1.25" fill="#000"/>
<rect x="95.95" y="916.77" width="6.40" height="69.93" fill="#f7941d" stroke="#1a1a1a" stroke-width="0.8"/>
<line x1="99.15" y1="912.79" x2="99.15" y2="920.05" stroke="#1a1a1a" stroke-width="0.70"/>
<line x1="97.16" y1="912.79" x2="101.14" y2="912.79" stroke="#1a1a1a" stroke-width="0.70"/>
<line x1="97.16" y1="920.05" x2="101.14" y2="920.05" stroke="#1a1a1a" stroke-width="0.70"/>
<circle cx="99.15" cy="910.28" r="1.25" fill="#000"/>
<circle cx="99.15" cy="916.42" r="1.25" fill="#000"/>
<circle cx="99.15" cy="922.09" r="1.25" fill="#000"/>
<rect x="113.85" y="938.70" width="6.40" height="48.00" fill="#ffffff" stroke="#1a1a1a" stroke-width="0.8"/>
<line x1="117.05" y1="935.06" x2="117.05" y2="941.64" stroke="#1a1a1a" stroke-width="0.70"/>
<line x1="115.06" y1="935.06" x2="119.04" y2="935.06" stroke="#1a1a1a" stroke-width="0.70"/>
<line x1="115.06" y1="941.64" x2="119.04" y2="941.64" stroke="#1a1a1a" stroke-width="0.70"/>
<circle cx="117.05" cy="932.06" r="1.25" fill="#000"/>
<circle cx="115.52" cy="939.90" r="1.25" fill="#000"/>
<circle cx="118.89" cy="942.03" r="1.25" fill="#000"/>
<rect x="124.85" y="960.48" width="6.40" height="26.22" fill="#ed1c24" stroke="#1a1a1a" stroke-width="0.8"/>
<line x1="128.05" y1="958.19" x2="128.05" y2="962.06" stroke="#1a1a1a" stroke-width="0.70"/>
<line x1="126.06" y1="958.19" x2="130.04" y2="958.19" stroke="#1a1a1a" stroke-width="0.70"/>
<line x1="126.06" y1="962.06" x2="130.04" y2="962.06" stroke="#1a1a1a" stroke-width="0.70"/>
<circle cx="128.05" cy="956.26" r="1.25" fill="#000"/>
<circle cx="126.21" cy="960.13" r="1.25" fill="#000"/>
<circle cx="129.89" cy="963.47" r="1.25" fill="#000"/>
<rect x="135.75" y="932.12" width="6.40" height="54.58" fill="#808080" stroke="#1a1a1a" stroke-width="0.8"/>
<line x1="138.95" y1="930.56" x2="138.95" y2="932.98" stroke="#1a1a1a" stroke-width="0.70"/>
<line x1="136.96" y1="930.56" x2="140.94" y2="930.56" stroke="#1a1a1a" stroke-width="0.70"/>
<line x1="136.96" y1="932.98" x2="140.94" y2="932.98" stroke="#1a1a1a" stroke-width="0.70"/>
<circle cx="138.95" cy="929.01" r="1.25" fill="#000"/>
<circle cx="137.11" cy="931.77" r="1.25" fill="#000"/>
<circle cx="140.79" cy="932.98" r="1.25" fill="#000"/>
<rect x="146.85" y="958.93" width="6.40" height="27.77" fill="#f7941d" stroke="#1a1a1a" stroke-width="0.8"/>
<line x1="150.05" y1="956.50" x2="150.05" y2="960.66" stroke="#1a1a1a" stroke-width="0.70"/>
<line x1="148.06" y1="956.50" x2="152.04" y2="956.50" stroke="#1a1a1a" stroke-width="0.70"/>
<line x1="148.06" y1="960.66" x2="152.04" y2="960.66" stroke="#1a1a1a" stroke-width="0.70"/>
<circle cx="148.21" cy="955.53" r="1.25" fill="#000"/>
<circle cx="151.89" cy="957.03" r="1.25" fill="#000"/>
<circle cx="150.05" cy="962.40" r="1.25" fill="#000"/>
<rect x="164.75" y="938.99" width="6.40" height="47.71" fill="#ffffff" stroke="#1a1a1a" stroke-width="0.8"/>
<line x1="167.95" y1="935.98" x2="167.95" y2="941.30" stroke="#1a1a1a" stroke-width="0.70"/>
<line x1="165.96" y1="935.98" x2="169.94" y2="935.98" stroke="#1a1a1a" stroke-width="0.70"/>
<line x1="165.96" y1="941.30" x2="169.94" y2="941.30" stroke="#1a1a1a" stroke-width="0.70"/>
<circle cx="166.11" cy="934.04" r="1.25" fill="#000"/>
<circle cx="169.79" cy="936.80" r="1.25" fill="#000"/>
<circle cx="167.95" cy="943.72" r="1.25" fill="#000"/>
<rect x="175.85" y="943.59" width="6.40" height="43.11" fill="#ed1c24" stroke="#1a1a1a" stroke-width="0.8"/>
<line x1="179.05" y1="941.78" x2="179.05" y2="944.69" stroke="#1a1a1a" stroke-width="0.70"/>
<line x1="177.06" y1="941.78" x2="181.04" y2="941.78" stroke="#1a1a1a" stroke-width="0.70"/>
<line x1="177.06" y1="944.69" x2="181.04" y2="944.69" stroke="#1a1a1a" stroke-width="0.70"/>
<circle cx="177.21" cy="940.96" r="1.25" fill="#000"/>
<circle cx="180.89" cy="942.03" r="1.25" fill="#000"/>
<circle cx="179.05" cy="946.00" r="1.25" fill="#000"/>
<rect x="186.75" y="944.85" width="6.40" height="41.85" fill="#808080" stroke="#1a1a1a" stroke-width="0.8"/>
<line x1="189.95" y1="943.04" x2="189.95" y2="945.95" stroke="#1a1a1a" stroke-width="0.70"/>
<line x1="187.96" y1="943.04" x2="191.94" y2="943.04" stroke="#1a1a1a" stroke-width="0.70"/>
<line x1="187.96" y1="945.95" x2="191.94" y2="945.95" stroke="#1a1a1a" stroke-width="0.70"/>
<circle cx="189.95" cy="941.25" r="1.25" fill="#000"/>
<circle cx="188.11" cy="945.22" r="1.25" fill="#000"/>
<circle cx="191.79" cy="946.00" r="1.25" fill="#000"/>
<rect x="197.75" y="947.89" width="6.40" height="38.81" fill="#f7941d" stroke="#1a1a1a" stroke-width="0.8"/>
<line x1="200.95" y1="945.03" x2="200.95" y2="950.06" stroke="#1a1a1a" stroke-width="0.70"/>
<line x1="198.96" y1="945.03" x2="202.94" y2="945.03" stroke="#1a1a1a" stroke-width="0.70"/>
<line x1="198.96" y1="950.06" x2="202.94" y2="950.06" stroke="#1a1a1a" stroke-width="0.70"/>
<circle cx="199.11" cy="943.24" r="1.25" fill="#000"/>
<circle cx="202.79" cy="946.00" r="1.25" fill="#000"/>
<circle cx="200.95" cy="952.43" r="1.25" fill="#000"/>
<rect x="215.85" y="938.99" width="6.40" height="47.71" fill="#ffffff" stroke="#1a1a1a" stroke-width="0.8"/>
<line x1="219.05" y1="937.57" x2="219.05" y2="939.70" stroke="#1a1a1a" stroke-width="0.70"/>
<line x1="217.06" y1="937.57" x2="221.04" y2="937.57" stroke="#1a1a1a" stroke-width="0.70"/>
<line x1="217.06" y1="939.70" x2="221.04" y2="939.70" stroke="#1a1a1a" stroke-width="0.70"/>
<circle cx="219.05" cy="936.36" r="1.25" fill="#000"/>
<circle cx="217.21" cy="938.35" r="1.25" fill="#000"/>
<circle cx="220.89" cy="940.19" r="1.25" fill="#000"/>
<rect x="226.95" y="910.97" width="6.40" height="75.73" fill="#ed1c24" stroke="#1a1a1a" stroke-width="0.8"/>
<line x1="230.15" y1="909.94" x2="230.15" y2="911.29" stroke="#1a1a1a" stroke-width="0.70"/>
<line x1="228.16" y1="909.94" x2="232.14" y2="909.94" stroke="#1a1a1a" stroke-width="0.70"/>
<line x1="228.16" y1="911.29" x2="232.14" y2="911.29" stroke="#1a1a1a" stroke-width="0.70"/>
<circle cx="228.16" cy="908.29" r="1.25" fill="#000"/>
<circle cx="230.15" cy="909.84" r="1.25" fill="#000"/>
<circle cx="232.30" cy="910.76" r="1.25" fill="#000"/>
<rect x="237.85" y="933.18" width="6.40" height="53.52" fill="#808080" stroke="#1a1a1a" stroke-width="0.8"/>
<line x1="241.05" y1="930.17" x2="241.05" y2="935.49" stroke="#1a1a1a" stroke-width="0.70"/>
<line x1="239.06" y1="930.17" x2="243.04" y2="930.17" stroke="#1a1a1a" stroke-width="0.70"/>
<line x1="239.06" y1="935.49" x2="243.04" y2="935.49" stroke="#1a1a1a" stroke-width="0.70"/>
<circle cx="239.21" cy="927.94" r="1.25" fill="#000"/>
<circle cx="242.89" cy="930.22" r="1.25" fill="#000"/>
<circle cx="241.05" cy="939.12" r="1.25" fill="#000"/>
<rect x="248.85" y="915.56" width="6.40" height="71.14" fill="#f7941d" stroke="#1a1a1a" stroke-width="0.8"/>
<line x1="252.05" y1="912.79" x2="252.05" y2="917.63" stroke="#1a1a1a" stroke-width="0.70"/>
<line x1="250.06" y1="912.79" x2="254.04" y2="912.79" stroke="#1a1a1a" stroke-width="0.70"/>
<line x1="250.06" y1="917.63" x2="254.04" y2="917.63" stroke="#1a1a1a" stroke-width="0.70"/>
<circle cx="250.21" cy="910.28" r="1.25" fill="#000"/>
<circle cx="253.89" cy="913.37" r="1.25" fill="#000"/>
<circle cx="252.05" cy="919.96" r="1.25" fill="#000"/>
<line x1="58.30" y1="889.50" x2="58.30" y2="987.10" stroke="#1a1a1a" stroke-width="0.85"/>
<line x1="57.90" y1="986.70" x2="259.90" y2="986.70" stroke="#1a1a1a" stroke-width="0.85"/>
<line x1="52.80" y1="986.70" x2="58.30" y2="986.70" stroke="#1a1a1a" stroke-width="0.85"/>
<text x="51.50" y="989.70" font-size="8.40" text-anchor="end" fill="#1a1a1a">0.0</text>
<line x1="52.80" y1="962.50" x2="58.30" y2="962.50" stroke="#1a1a1a" stroke-width="0.85"/>
<text x="51.50" y="965.50" font-size="8.40" text-anchor="end" fill="#1a1a1a">0.5</text>
<line x1="52.80" y1="938.30" x2="58.30" y2="938.30" stroke="#1a1a1a" stroke-width="0.85"/>
<text x="51.50" y="941.30" font-size="8.40" text-anchor="end" fill="#1a1a1a">1.0</text>
<line x1="52.80" y1="914.10" x2="58.30" y2="914.10" stroke="#1a1a1a" stroke-width="0.85"/>
<text x="51.50" y="917.10" font-size="8.40" text-anchor="end" fill="#1a1a1a">1.5</text>
<line x1="52.80" y1="889.90" x2="58.30" y2="889.90" stroke="#1a1a1a" stroke-width="0.85"/>
<text x="51.50" y="892.90" font-size="8.40" text-anchor="end" fill="#1a1a1a">2.0</text>
<text transform="translate(34.00,938.30) rotate(-90)" font-size="8.40" text-anchor="middle" fill="#1a1a1a">Fold Change</text>
<line x1="82.30" y1="986.70" x2="82.30" y2="991.30" stroke="#1a1a1a" stroke-width="0.85"/>
<text x="87.20" y="1000.30" font-size="8.60" text-anchor="middle" fill="#1a1a1a">p-p70S6K</text>
<line x1="133.25" y1="986.70" x2="133.25" y2="991.30" stroke="#1a1a1a" stroke-width="0.85"/>
<text x="136.90" y="1000.30" font-size="8.60" text-anchor="middle" fill="#1a1a1a">p-Akt</text>
<line x1="184.15" y1="986.70" x2="184.15" y2="991.30" stroke="#1a1a1a" stroke-width="0.85"/>
<text x="190.50" y="1000.30" font-size="8.60" text-anchor="middle" fill="#1a1a1a">p-ERK</text>
<line x1="235.25" y1="986.70" x2="235.25" y2="991.30" stroke="#1a1a1a" stroke-width="0.85"/>
<text x="235.60" y="1000.30" font-size="8.60" text-anchor="middle" fill="#1a1a1a">LC3B II/I</text>
<text x="88.30" y="884.00" font-size="5.00" text-anchor="middle" fill="#222">p&lt;0.001</text>
<line x1="76.60" y1="886.10" x2="99.20" y2="886.10" stroke="#222" stroke-width="0.75"/>
<text x="77.60" y="890.20" font-size="5.00" text-anchor="middle" fill="#222">p=0.001</text>
<line x1="66.60" y1="892.40" x2="87.90" y2="892.40" stroke="#222" stroke-width="0.75"/>
<text x="73.20" y="897.80" font-size="5.00" text-anchor="middle" fill="#222">p&lt;0.001</text>
<line x1="66.60" y1="899.90" x2="76.60" y2="899.90" stroke="#222" stroke-width="0.75"/>
<text x="94.50" y="897.80" font-size="5.00" text-anchor="middle" fill="#222">p&lt;0.010</text>
<line x1="87.90" y1="899.90" x2="98.70" y2="899.90" stroke="#222" stroke-width="0.75"/>
<text x="123.30" y="897.80" font-size="5.00" text-anchor="middle" fill="#222">p=0.001</text>
<line x1="117.60" y1="899.90" x2="127.60" y2="899.90" stroke="#222" stroke-width="0.75"/>
<text x="146.00" y="897.80" font-size="5.00" text-anchor="middle" fill="#222">p&lt;0.001</text>
<line x1="140.00" y1="899.90" x2="150.30" y2="899.90" stroke="#222" stroke-width="0.75"/>
<text x="224.20" y="897.90" font-size="5.00" text-anchor="middle" fill="#222">p&lt;0.001</text>
<line x1="219.40" y1="900.00" x2="229.70" y2="900.00" stroke="#222" stroke-width="0.75"/>
<text x="247.20" y="897.90" font-size="5.00" text-anchor="middle" fill="#222">p&lt;0.001</text>
<line x1="241.80" y1="900.00" x2="251.80" y2="900.00" stroke="#222" stroke-width="0.75"/>
<rect x="263.80" y="889.05" width="11.90" height="4.10" fill="#ffffff" stroke="#1a1a1a" stroke-width="0.8"/>
<text x="283.70" y="893.80" font-size="8.70" text-anchor="start" fill="#1a1a1a">si<tspan font-style="italic">Neg</tspan></text>
<rect x="263.80" y="901.45" width="11.90" height="4.10" fill="#ed1c24" stroke="#1a1a1a" stroke-width="0.8"/>
<text x="283.70" y="906.20" font-size="8.70" text-anchor="start" fill="#1a1a1a">si<tspan font-style="italic" letter-spacing="-0.2">Armh4</tspan></text>
<rect x="263.80" y="913.85" width="11.90" height="4.10" fill="#808080" stroke="#1a1a1a" stroke-width="0.8"/>
<text x="283.70" y="918.60" font-size="8.70" text-anchor="start" fill="#1a1a1a">si<tspan font-style="italic">Neg</tspan>+IGF1</text>
<rect x="263.80" y="926.05" width="11.90" height="4.10" fill="#f7941d" stroke="#1a1a1a" stroke-width="0.8"/>
<text x="283.70" y="930.80" font-size="8.70" text-anchor="start" fill="#1a1a1a">si<tspan font-style="italic" letter-spacing="-0.2">Armh4</tspan>+IGF1</text>
<text x="385.70" y="696.70" font-size="8.75" text-anchor="end" fill="#1a1a1a">si<tspan font-style="italic">Neg</tspan></text>
<circle cx="400.30" cy="693.90" r="2.80" fill="#000"/>
<circle cx="417.17" cy="693.90" r="2.80" fill="#000"/>
<circle cx="434.04" cy="693.90" r="2.80" fill="#000"/>
<circle cx="450.91" cy="693.90" r="2.50" fill="#fff" stroke="#111" stroke-width="0.7"/>
<circle cx="467.78" cy="693.90" r="2.50" fill="#fff" stroke="#111" stroke-width="0.7"/>
<circle cx="484.65" cy="693.90" r="2.50" fill="#fff" stroke="#111" stroke-width="0.7"/>
<circle cx="501.52" cy="693.90" r="2.80" fill="#000"/>
<circle cx="518.39" cy="693.90" r="2.80" fill="#000"/>
<circle cx="535.26" cy="693.90" r="2.80" fill="#000"/>
<circle cx="552.13" cy="693.90" r="2.50" fill="#fff" stroke="#111" stroke-width="0.7"/>
<circle cx="569.00" cy="693.90" r="2.50" fill="#fff" stroke="#111" stroke-width="0.7"/>
<circle cx="585.87" cy="693.90" r="2.50" fill="#fff" stroke="#111" stroke-width="0.7"/>
<text x="385.70" y="709.70" font-size="8.75" text-anchor="end" fill="#1a1a1a">si<tspan font-style="italic" letter-spacing="-0.2">Armh4</tspan></text>
<circle cx="400.30" cy="706.90" r="2.50" fill="#fff" stroke="#111" stroke-width="0.7"/>
<circle cx="417.17" cy="706.90" r="2.50" fill="#fff" stroke="#111" stroke-width="0.7"/>
<circle cx="434.04" cy="706.90" r="2.50" fill="#fff" stroke="#111" stroke-width="0.7"/>
<circle cx="450.91" cy="706.90" r="2.80" fill="#000"/>
<circle cx="467.78" cy="706.90" r="2.80" fill="#000"/>
<circle cx="484.65" cy="706.90" r="2.80" fill="#000"/>
<circle cx="501.52" cy="706.90" r="2.50" fill="#fff" stroke="#111" stroke-width="0.7"/>
<circle cx="518.39" cy="706.90" r="2.50" fill="#fff" stroke="#111" stroke-width="0.7"/>
<circle cx="535.26" cy="706.90" r="2.50" fill="#fff" stroke="#111" stroke-width="0.7"/>
<circle cx="552.13" cy="706.90" r="2.80" fill="#000"/>
<circle cx="569.00" cy="706.90" r="2.80" fill="#000"/>
<circle cx="585.87" cy="706.90" r="2.80" fill="#000"/>
<text x="385.70" y="723.10" font-size="8.75" text-anchor="end" fill="#1a1a1a">FGF2</text>
<circle cx="400.30" cy="720.30" r="2.50" fill="#fff" stroke="#111" stroke-width="0.7"/>
<circle cx="417.17" cy="720.30" r="2.50" fill="#fff" stroke="#111" stroke-width="0.7"/>
<circle cx="434.04" cy="720.30" r="2.50" fill="#fff" stroke="#111" stroke-width="0.7"/>
<circle cx="450.91" cy="720.30" r="2.50" fill="#fff" stroke="#111" stroke-width="0.7"/>
<circle cx="467.78" cy="720.30" r="2.50" fill="#fff" stroke="#111" stroke-width="0.7"/>
<circle cx="484.65" cy="720.30" r="2.50" fill="#fff" stroke="#111" stroke-width="0.7"/>
<circle cx="501.52" cy="720.30" r="2.80" fill="#000"/>
<circle cx="518.39" cy="720.30" r="2.80" fill="#000"/>
<circle cx="535.26" cy="720.30" r="2.80" fill="#000"/>
<circle cx="552.13" cy="720.30" r="2.80" fill="#000"/>
<circle cx="569.00" cy="720.30" r="2.80" fill="#000"/>
<circle cx="585.87" cy="720.30" r="2.80" fill="#000"/>
<clipPath id="c43"><rect x="390.30" y="728.30" width="205.20" height="16.30"/></clipPath>
<rect x="390.30" y="728.30" width="205.20" height="16.30" fill="#d4d4d4"/>
<g clip-path="url(#c43)"><g filter="url(#bl)">
<rect x="393.88" y="733.97" width="12.84" height="1.66" rx="3.85" ry="0.83" fill="#000" fill-opacity="0.16"/>
<rect x="410.75" y="733.97" width="12.84" height="1.66" rx="3.85" ry="0.83" fill="#000" fill-opacity="0.16"/>
<rect x="427.62" y="733.97" width="12.84" height="1.66" rx="3.85" ry="0.83" fill="#000" fill-opacity="0.16"/>
<rect x="444.49" y="733.97" width="12.84" height="1.66" rx="3.85" ry="0.83" fill="#000" fill-opacity="0.16"/>
<rect x="461.36" y="733.97" width="12.84" height="1.66" rx="3.85" ry="0.83" fill="#000" fill-opacity="0.16"/>
<rect x="478.23" y="733.97" width="12.84" height="1.66" rx="3.85" ry="0.83" fill="#000" fill-opacity="0.16"/>
<rect x="495.10" y="733.97" width="12.84" height="1.66" rx="3.85" ry="0.83" fill="#000" fill-opacity="0.16"/>
<rect x="511.97" y="733.97" width="12.84" height="1.66" rx="3.85" ry="0.83" fill="#000" fill-opacity="0.16"/>
<rect x="528.84" y="733.97" width="12.84" height="1.66" rx="3.85" ry="0.83" fill="#000" fill-opacity="0.16"/>
<rect x="545.71" y="733.97" width="12.84" height="1.66" rx="3.85" ry="0.83" fill="#000" fill-opacity="0.16"/>
<rect x="562.58" y="733.97" width="12.84" height="1.66" rx="3.85" ry="0.83" fill="#000" fill-opacity="0.16"/>
<rect x="579.45" y="733.97" width="12.84" height="1.66" rx="3.85" ry="0.83" fill="#000" fill-opacity="0.16"/>
<rect x="393.24" y="739.42" width="14.12" height="3.17" rx="4.23" ry="1.58" fill="#000" fill-opacity="1.00"/>
<rect x="410.11" y="739.42" width="14.12" height="3.17" rx="4.23" ry="1.58" fill="#000" fill-opacity="1.00"/>
<rect x="426.98" y="739.42" width="14.12" height="3.17" rx="4.23" ry="1.58" fill="#000" fill-opacity="1.00"/>
<rect x="443.85" y="739.42" width="14.12" height="3.17" rx="4.23" ry="1.58" fill="#000" fill-opacity="1.00"/>
<rect x="460.72" y="739.42" width="14.12" height="3.17" rx="4.23" ry="1.58" fill="#000" fill-opacity="1.00"/>
<rect x="477.59" y="739.42" width="14.12" height="3.17" rx="4.23" ry="1.58" fill="#000" fill-opacity="1.00"/>
<rect x="494.46" y="739.42" width="14.12" height="3.17" rx="4.23" ry="1.58" fill="#000" fill-opacity="1.00"/>
<rect x="511.33" y="739.42" width="14.12" height="3.17" rx="4.23" ry="1.58" fill="#000" fill-opacity="1.00"/>
<rect x="528.20" y="739.42" width="14.12" height="3.17" rx="4.23" ry="1.58" fill="#000" fill-opacity="1.00"/>
<rect x="545.07" y="739.42" width="14.12" height="3.17" rx="4.23" ry="1.58" fill="#000" fill-opacity="1.00"/>
<rect x="561.94" y="739.42" width="14.12" height="3.17" rx="4.23" ry="1.58" fill="#000" fill-opacity="1.00"/>
<rect x="578.81" y="739.42" width="14.12" height="3.17" rx="4.23" ry="1.58" fill="#000" fill-opacity="1.00"/>
</g></g>
<rect x="390.30" y="728.30" width="205.20" height="16.30" fill="none" stroke="#4a4646" stroke-width="0.9"/>
<clipPath id="c44"><rect x="390.30" y="746.60" width="205.20" height="16.40"/></clipPath>
<rect x="390.30" y="746.60" width="205.20" height="16.40" fill="#d8d8d8"/>
<g clip-path="url(#c44)"><g filter="url(#bl)">
<rect x="393.11" y="756.12" width="14.38" height="3.56" rx="4.31" ry="1.78" fill="#000" fill-opacity="1.00"/>
<rect x="409.98" y="756.12" width="14.38" height="3.56" rx="4.31" ry="1.78" fill="#000" fill-opacity="1.00"/>
<rect x="426.85" y="756.12" width="14.38" height="3.56" rx="4.31" ry="1.78" fill="#000" fill-opacity="1.00"/>
<rect x="443.72" y="756.12" width="14.38" height="3.56" rx="4.31" ry="1.78" fill="#000" fill-opacity="1.00"/>
<rect x="460.59" y="756.12" width="14.38" height="3.56" rx="4.31" ry="1.78" fill="#000" fill-opacity="1.00"/>
<rect x="477.46" y="756.12" width="14.38" height="3.56" rx="4.31" ry="1.78" fill="#000" fill-opacity="1.00"/>
<rect x="494.33" y="756.12" width="14.38" height="3.56" rx="4.31" ry="1.78" fill="#000" fill-opacity="1.00"/>
<rect x="511.20" y="756.12" width="14.38" height="3.56" rx="4.31" ry="1.78" fill="#000" fill-opacity="1.00"/>
<rect x="528.07" y="756.12" width="14.38" height="3.56" rx="4.31" ry="1.78" fill="#000" fill-opacity="1.00"/>
<rect x="544.94" y="756.12" width="14.38" height="3.56" rx="4.31" ry="1.78" fill="#000" fill-opacity="1.00"/>
<rect x="561.81" y="756.12" width="14.38" height="3.56" rx="4.31" ry="1.78" fill="#000" fill-opacity="1.00"/>
<rect x="578.68" y="756.12" width="14.38" height="3.56" rx="4.31" ry="1.78" fill="#000" fill-opacity="1.00"/>
</g></g>
<rect x="390.30" y="746.60" width="205.20" height="16.40" fill="none" stroke="#4a4646" stroke-width="0.9"/>
<clipPath id="c45"><rect x="390.30" y="765.50" width="205.20" height="17.10"/></clipPath>
<rect x="390.30" y="765.50" width="205.20" height="17.10" fill="#c8c8c8"/>
<g clip-path="url(#c45)"><g filter="url(#bl)">
<rect x="394.21" y="772.96" width="12.18" height="2.67" rx="3.66" ry="1.33" fill="#000" fill-opacity="0.45"/>
<rect x="410.68" y="772.83" width="12.98" height="2.94" rx="3.89" ry="1.47" fill="#000" fill-opacity="1.00"/>
<rect x="427.55" y="772.83" width="12.98" height="2.94" rx="3.89" ry="1.47" fill="#000" fill-opacity="1.00"/>
<rect x="444.51" y="772.86" width="12.80" height="2.88" rx="3.84" ry="1.44" fill="#000" fill-opacity="0.92"/>
<rect x="461.47" y="772.89" width="12.63" height="2.82" rx="3.79" ry="1.41" fill="#000" fill-opacity="0.80"/>
<rect x="478.34" y="772.89" width="12.63" height="2.82" rx="3.79" ry="1.41" fill="#000" fill-opacity="0.80"/>
<rect x="494.98" y="772.81" width="13.07" height="2.97" rx="3.92" ry="1.48" fill="#000" fill-opacity="1.00"/>
<rect x="511.85" y="772.81" width="13.07" height="2.97" rx="3.92" ry="1.48" fill="#000" fill-opacity="1.00"/>
<rect x="528.72" y="772.81" width="13.07" height="2.97" rx="3.92" ry="1.48" fill="#000" fill-opacity="1.00"/>
<rect x="545.82" y="772.89" width="12.63" height="2.82" rx="3.79" ry="1.41" fill="#000" fill-opacity="0.80"/>
<rect x="562.60" y="772.86" width="12.80" height="2.88" rx="3.84" ry="1.44" fill="#000" fill-opacity="0.92"/>
<rect x="579.51" y="772.88" width="12.72" height="2.85" rx="3.81" ry="1.43" fill="#000" fill-opacity="0.86"/>
</g></g>
<rect x="390.30" y="765.50" width="205.20" height="17.10" fill="none" stroke="#4a4646" stroke-width="0.9"/>
<clipPath id="c46"><rect x="390.30" y="784.80" width="205.20" height="15.80"/></clipPath>
<rect x="390.30" y="784.80" width="205.20" height="15.80" fill="#e2e2e2"/>
<g clip-path="url(#c46)"><g filter="url(#bl)">
<rect x="392.73" y="790.50" width="15.13" height="4.20" rx="2.10" ry="2.10" fill="#000" fill-opacity="1.00"/>
<rect x="409.60" y="790.50" width="15.13" height="4.20" rx="2.10" ry="2.10" fill="#000" fill-opacity="1.00"/>
<rect x="426.47" y="790.50" width="15.13" height="4.20" rx="2.10" ry="2.10" fill="#000" fill-opacity="1.00"/>
<rect x="443.34" y="790.50" width="15.13" height="4.20" rx="2.10" ry="2.10" fill="#000" fill-opacity="1.00"/>
<rect x="460.21" y="790.50" width="15.13" height="4.20" rx="2.10" ry="2.10" fill="#000" fill-opacity="1.00"/>
<rect x="477.08" y="790.50" width="15.13" height="4.20" rx="2.10" ry="2.10" fill="#000" fill-opacity="1.00"/>
<rect x="493.95" y="790.50" width="15.13" height="4.20" rx="2.10" ry="2.10" fill="#000" fill-opacity="1.00"/>
<rect x="510.82" y="790.50" width="15.13" height="4.20" rx="2.10" ry="2.10" fill="#000" fill-opacity="1.00"/>
<rect x="527.69" y="790.50" width="15.13" height="4.20" rx="2.10" ry="2.10" fill="#000" fill-opacity="1.00"/>
<rect x="544.56" y="790.50" width="15.13" height="4.20" rx="2.10" ry="2.10" fill="#000" fill-opacity="1.00"/>
<rect x="561.43" y="790.50" width="15.13" height="4.20" rx="2.10" ry="2.10" fill="#000" fill-opacity="1.00"/>
<rect x="578.30" y="790.50" width="15.13" height="4.20" rx="2.10" ry="2.10" fill="#000" fill-opacity="1.00"/>
</g></g>
<rect x="390.30" y="784.80" width="205.20" height="15.80" fill="none" stroke="#4a4646" stroke-width="0.9"/>
<clipPath id="c47"><rect x="390.30" y="803.10" width="205.20" height="16.60"/></clipPath>
<rect x="390.30" y="803.10" width="205.20" height="16.60" fill="#dcdcdc"/>
<g clip-path="url(#c47)"><g filter="url(#bl)">
<rect x="393.24" y="808.81" width="14.11" height="1.98" rx="0.99" ry="0.99" fill="#000" fill-opacity="0.50"/>
<rect x="410.11" y="808.66" width="14.11" height="1.98" rx="0.99" ry="0.99" fill="#000" fill-opacity="0.50"/>
<rect x="426.98" y="808.52" width="14.11" height="1.98" rx="0.99" ry="0.99" fill="#000" fill-opacity="0.50"/>
<rect x="443.85" y="808.37" width="14.11" height="1.98" rx="0.99" ry="0.99" fill="#000" fill-opacity="0.50"/>
<rect x="460.72" y="808.23" width="14.11" height="1.98" rx="0.99" ry="0.99" fill="#000" fill-opacity="0.50"/>
<rect x="477.59" y="808.08" width="14.11" height="1.98" rx="0.99" ry="0.99" fill="#000" fill-opacity="0.50"/>
<rect x="494.36" y="807.92" width="14.32" height="2.02" rx="1.01" ry="1.01" fill="#000" fill-opacity="0.69"/>
<rect x="511.18" y="807.76" width="14.42" height="2.05" rx="1.02" ry="1.02" fill="#000" fill-opacity="0.75"/>
<rect x="528.05" y="807.61" width="14.42" height="2.05" rx="1.02" ry="1.02" fill="#000" fill-opacity="0.75"/>
<rect x="544.97" y="807.48" width="14.32" height="2.02" rx="1.01" ry="1.01" fill="#000" fill-opacity="0.69"/>
<rect x="561.84" y="807.33" width="14.32" height="2.02" rx="1.01" ry="1.01" fill="#000" fill-opacity="0.69"/>
<rect x="578.76" y="807.20" width="14.22" height="2.00" rx="1.00" ry="1.00" fill="#000" fill-opacity="0.63"/>
<rect x="392.51" y="812.23" width="15.58" height="2.94" rx="1.47" ry="1.47" fill="#000" fill-opacity="1.00"/>
<rect x="409.38" y="812.08" width="15.58" height="2.94" rx="1.47" ry="1.47" fill="#000" fill-opacity="1.00"/>
<rect x="426.25" y="811.92" width="15.58" height="2.94" rx="1.47" ry="1.47" fill="#000" fill-opacity="1.00"/>
<rect x="443.12" y="811.77" width="15.58" height="2.94" rx="1.47" ry="1.47" fill="#000" fill-opacity="1.00"/>
<rect x="459.99" y="811.61" width="15.58" height="2.94" rx="1.47" ry="1.47" fill="#000" fill-opacity="1.00"/>
<rect x="476.86" y="811.46" width="15.58" height="2.94" rx="1.47" ry="1.47" fill="#000" fill-opacity="1.00"/>
<rect x="493.71" y="811.30" width="15.62" height="2.95" rx="1.48" ry="1.48" fill="#000" fill-opacity="1.00"/>
<rect x="510.55" y="811.13" width="15.68" height="2.97" rx="1.48" ry="1.48" fill="#000" fill-opacity="1.00"/>
<rect x="527.42" y="810.98" width="15.68" height="2.97" rx="1.48" ry="1.48" fill="#000" fill-opacity="1.00"/>
<rect x="544.29" y="810.82" width="15.68" height="2.97" rx="1.48" ry="1.48" fill="#000" fill-opacity="1.00"/>
<rect x="561.16" y="810.67" width="15.68" height="2.97" rx="1.48" ry="1.48" fill="#000" fill-opacity="1.00"/>
<rect x="578.08" y="810.53" width="15.58" height="2.94" rx="1.47" ry="1.47" fill="#000" fill-opacity="1.00"/>
</g></g>
<rect x="390.30" y="803.10" width="205.20" height="16.60" fill="none" stroke="#4a4646" stroke-width="0.9"/>
<clipPath id="c48"><rect x="390.30" y="821.70" width="205.20" height="16.60"/></clipPath>
<rect x="390.30" y="821.70" width="205.20" height="16.60" fill="#d2d2d2"/>
<g clip-path="url(#c48)"><g filter="url(#bl)">
<rect x="393.44" y="828.92" width="13.72" height="3.17" rx="4.12" ry="1.58" fill="#000" fill-opacity="1.00"/>
<rect x="410.35" y="828.67" width="13.63" height="3.14" rx="4.09" ry="1.57" fill="#000" fill-opacity="1.00"/>
<rect x="427.18" y="828.39" width="13.72" height="3.17" rx="4.12" ry="1.58" fill="#000" fill-opacity="1.00"/>
<rect x="444.09" y="828.14" width="13.63" height="3.14" rx="4.09" ry="1.57" fill="#000" fill-opacity="1.00"/>
<rect x="460.92" y="827.86" width="13.72" height="3.17" rx="4.12" ry="1.58" fill="#000" fill-opacity="1.00"/>
<rect x="477.79" y="827.60" width="13.72" height="3.17" rx="4.12" ry="1.58" fill="#000" fill-opacity="1.00"/>
<rect x="494.75" y="827.37" width="13.54" height="3.10" rx="4.06" ry="1.55" fill="#000" fill-opacity="0.98"/>
<rect x="511.62" y="827.10" width="13.54" height="3.10" rx="4.06" ry="1.55" fill="#000" fill-opacity="0.98"/>
<rect x="528.58" y="826.87" width="13.35" height="3.04" rx="4.01" ry="1.52" fill="#000" fill-opacity="0.86"/>
<rect x="545.45" y="826.61" width="13.35" height="3.04" rx="4.01" ry="1.52" fill="#000" fill-opacity="0.86"/>
<rect x="562.18" y="826.30" width="13.63" height="3.14" rx="4.09" ry="1.57" fill="#000" fill-opacity="1.00"/>
<rect x="579.15" y="826.06" width="13.44" height="3.07" rx="4.03" ry="1.54" fill="#000" fill-opacity="0.92"/>
<rect x="393.86" y="834.45" width="12.88" height="1.50" rx="3.86" ry="0.75" fill="#000" fill-opacity="0.18"/>
<rect x="410.73" y="834.12" width="12.88" height="1.50" rx="3.86" ry="0.75" fill="#000" fill-opacity="0.18"/>
<rect x="427.60" y="833.79" width="12.88" height="1.50" rx="3.86" ry="0.75" fill="#000" fill-opacity="0.18"/>
<rect x="444.47" y="833.47" width="12.88" height="1.50" rx="3.86" ry="0.75" fill="#000" fill-opacity="0.18"/>
<rect x="461.34" y="833.14" width="12.88" height="1.50" rx="3.86" ry="0.75" fill="#000" fill-opacity="0.18"/>
<rect x="478.21" y="832.81" width="12.88" height="1.50" rx="3.86" ry="0.75" fill="#000" fill-opacity="0.18"/>
<rect x="495.08" y="832.48" width="12.88" height="1.50" rx="3.86" ry="0.75" fill="#000" fill-opacity="0.18"/>
<rect x="511.95" y="832.16" width="12.88" height="1.50" rx="3.86" ry="0.75" fill="#000" fill-opacity="0.18"/>
<rect x="528.82" y="831.83" width="12.88" height="1.50" rx="3.86" ry="0.75" fill="#000" fill-opacity="0.18"/>
<rect x="545.69" y="831.50" width="12.88" height="1.50" rx="3.86" ry="0.75" fill="#000" fill-opacity="0.18"/>
<rect x="562.56" y="831.17" width="12.88" height="1.50" rx="3.86" ry="0.75" fill="#000" fill-opacity="0.18"/>
<rect x="579.43" y="830.85" width="12.88" height="1.50" rx="3.86" ry="0.75" fill="#000" fill-opacity="0.18"/>
</g></g>
<rect x="390.30" y="821.70" width="205.20" height="16.60" fill="none" stroke="#4a4646" stroke-width="0.9"/>
<clipPath id="c49"><rect x="390.30" y="840.30" width="205.20" height="20.60"/></clipPath>
<rect x="390.30" y="840.30" width="205.20" height="20.60" fill="#d2d2d2"/>
<g clip-path="url(#c49)"><g filter="url(#bl)">
<rect x="393.72" y="845.30" width="13.17" height="2.60" rx="3.95" ry="1.30" fill="#000" fill-opacity="0.75"/>
<rect x="410.59" y="845.30" width="13.17" height="2.60" rx="3.95" ry="1.30" fill="#000" fill-opacity="0.75"/>
<rect x="427.41" y="845.28" width="13.26" height="2.63" rx="3.98" ry="1.32" fill="#000" fill-opacity="0.80"/>
<rect x="444.61" y="845.38" width="12.61" height="2.44" rx="3.78" ry="1.22" fill="#000" fill-opacity="0.35"/>
<rect x="461.43" y="845.37" width="12.70" height="2.46" rx="3.81" ry="1.23" fill="#000" fill-opacity="0.40"/>
<rect x="478.35" y="845.38" width="12.61" height="2.44" rx="3.78" ry="1.22" fill="#000" fill-opacity="0.35"/>
<rect x="494.94" y="845.30" width="13.17" height="2.60" rx="3.95" ry="1.30" fill="#000" fill-opacity="0.75"/>
<rect x="511.76" y="845.28" width="13.26" height="2.63" rx="3.98" ry="1.32" fill="#000" fill-opacity="0.80"/>
<rect x="528.63" y="845.28" width="13.26" height="2.63" rx="3.98" ry="1.32" fill="#000" fill-opacity="0.80"/>
<rect x="545.83" y="845.38" width="12.61" height="2.44" rx="3.78" ry="1.22" fill="#000" fill-opacity="0.35"/>
<rect x="562.60" y="845.35" width="12.79" height="2.49" rx="3.84" ry="1.25" fill="#000" fill-opacity="0.45"/>
<rect x="579.61" y="845.40" width="12.51" height="2.41" rx="3.75" ry="1.20" fill="#000" fill-opacity="0.30"/>
<rect x="392.98" y="853.92" width="14.64" height="3.37" rx="4.39" ry="1.68" fill="#000" fill-opacity="1.00"/>
<rect x="409.85" y="853.92" width="14.64" height="3.37" rx="4.39" ry="1.68" fill="#000" fill-opacity="1.00"/>
<rect x="426.72" y="853.92" width="14.64" height="3.37" rx="4.39" ry="1.68" fill="#000" fill-opacity="1.00"/>
<rect x="443.59" y="853.92" width="14.64" height="3.37" rx="4.39" ry="1.68" fill="#000" fill-opacity="1.00"/>
<rect x="460.46" y="853.92" width="14.64" height="3.37" rx="4.39" ry="1.68" fill="#000" fill-opacity="1.00"/>
<rect x="477.33" y="853.92" width="14.64" height="3.37" rx="4.39" ry="1.68" fill="#000" fill-opacity="1.00"/>
<rect x="494.20" y="853.92" width="14.64" height="3.37" rx="4.39" ry="1.68" fill="#000" fill-opacity="1.00"/>
<rect x="511.07" y="853.92" width="14.64" height="3.37" rx="4.39" ry="1.68" fill="#000" fill-opacity="1.00"/>
<rect x="527.94" y="853.92" width="14.64" height="3.37" rx="4.39" ry="1.68" fill="#000" fill-opacity="1.00"/>
<rect x="544.81" y="853.92" width="14.64" height="3.37" rx="4.39" ry="1.68" fill="#000" fill-opacity="1.00"/>
<rect x="561.68" y="853.92" width="14.64" height="3.37" rx="4.39" ry="1.68" fill="#000" fill-opacity="1.00"/>
<rect x="578.55" y="853.92" width="14.64" height="3.37" rx="4.39" ry="1.68" fill="#000" fill-opacity="1.00"/>
</g></g>
<rect x="390.30" y="840.30" width="205.20" height="20.60" fill="none" stroke="#4a4646" stroke-width="0.9"/>
<clipPath id="c50"><rect x="390.30" y="862.90" width="205.20" height="15.80"/></clipPath>
<rect x="390.30" y="862.90" width="205.20" height="15.80" fill="#e8e8e8"/>
<g clip-path="url(#c50)"><g filter="url(#bl)">
<rect x="391.62" y="870.10" width="17.37" height="3.00" rx="1.50" ry="1.50" fill="#000" fill-opacity="1.00"/>
<rect x="408.49" y="870.10" width="17.37" height="3.00" rx="1.50" ry="1.50" fill="#000" fill-opacity="1.00"/>
<rect x="425.36" y="870.10" width="17.37" height="3.00" rx="1.50" ry="1.50" fill="#000" fill-opacity="1.00"/>
<rect x="442.23" y="870.10" width="17.37" height="3.00" rx="1.50" ry="1.50" fill="#000" fill-opacity="1.00"/>
<rect x="459.10" y="870.10" width="17.37" height="3.00" rx="1.50" ry="1.50" fill="#000" fill-opacity="1.00"/>
<rect x="475.97" y="870.10" width="17.37" height="3.00" rx="1.50" ry="1.50" fill="#000" fill-opacity="1.00"/>
<rect x="492.84" y="870.10" width="17.37" height="3.00" rx="1.50" ry="1.50" fill="#000" fill-opacity="1.00"/>
<rect x="509.71" y="870.10" width="17.37" height="3.00" rx="1.50" ry="1.50" fill="#000" fill-opacity="1.00"/>
<rect x="526.58" y="870.10" width="17.37" height="3.00" rx="1.50" ry="1.50" fill="#000" fill-opacity="1.00"/>
<rect x="543.45" y="870.10" width="17.37" height="3.00" rx="1.50" ry="1.50" fill="#000" fill-opacity="1.00"/>
<rect x="560.32" y="870.10" width="17.37" height="3.00" rx="1.50" ry="1.50" fill="#000" fill-opacity="1.00"/>
<rect x="577.19" y="870.10" width="17.37" height="3.00" rx="1.50" ry="1.50" fill="#000" fill-opacity="1.00"/>
</g></g>
<rect x="390.30" y="862.90" width="205.20" height="15.80" fill="none" stroke="#4a4646" stroke-width="0.9"/>
<text x="385.70" y="740.00" font-size="8.60" text-anchor="end" fill="#1a1a1a">p-p70S6K</text>
<text x="385.70" y="759.00" font-size="8.60" text-anchor="end" fill="#1a1a1a">p70S6K</text>
<text x="385.70" y="777.00" font-size="8.60" text-anchor="end" fill="#1a1a1a">p-Akt</text>
<text x="385.70" y="796.00" font-size="8.60" text-anchor="end" fill="#1a1a1a">Akt</text>
<text x="385.70" y="814.20" font-size="8.60" text-anchor="end" fill="#1a1a1a">p-ERK</text>
<text x="385.70" y="833.20" font-size="8.60" text-anchor="end" fill="#1a1a1a">ERK</text>
<text x="385.70" y="848.50" font-size="8.60" text-anchor="end" fill="#1a1a1a">LC3B I</text>
<text x="385.70" y="859.00" font-size="8.60" text-anchor="end" fill="#1a1a1a">LC3B II</text>
<text x="385.70" y="873.30" font-size="8.60" text-anchor="end" fill="#1a1a1a">GAPDH</text>
<text x="601.90" y="717.10" font-size="5.30" text-anchor="middle" fill="#1a1a1a">MW</text>
<text x="602.60" y="723.10" font-size="5.30" text-anchor="middle" fill="#1a1a1a">(kDa)</text>
<line x1="595.50" y1="731.60" x2="598.40" y2="731.60" stroke="#222" stroke-width="0.75"/>
<text x="600.50" y="734.10" font-size="7.05" text-anchor="start" fill="#1a1a1a" textLength="11.0">100</text>
<line x1="595.50" y1="740.10" x2="598.40" y2="740.10" stroke="#222" stroke-width="0.75"/>
<text x="600.50" y="742.60" font-size="7.05" text-anchor="start" fill="#1a1a1a">70</text>
<line x1="595.50" y1="750.40" x2="598.40" y2="750.40" stroke="#222" stroke-width="0.75"/>
<text x="600.50" y="752.90" font-size="7.05" text-anchor="start" fill="#1a1a1a" textLength="11.0">100</text>
<line x1="595.50" y1="759.20" x2="598.40" y2="759.20" stroke="#222" stroke-width="0.75"/>
<text x="600.50" y="761.70" font-size="7.05" text-anchor="start" fill="#1a1a1a">70</text>
<line x1="595.50" y1="771.30" x2="598.40" y2="771.30" stroke="#222" stroke-width="0.75"/>
<text x="600.50" y="773.80" font-size="7.05" text-anchor="start" fill="#1a1a1a">70</text>
<line x1="595.50" y1="780.60" x2="598.40" y2="780.60" stroke="#222" stroke-width="0.75"/>
<text x="600.50" y="783.10" font-size="7.05" text-anchor="start" fill="#1a1a1a">55</text>
<line x1="595.50" y1="790.60" x2="598.40" y2="790.60" stroke="#222" stroke-width="0.75"/>
<text x="600.50" y="793.10" font-size="7.05" text-anchor="start" fill="#1a1a1a">70</text>
<line x1="595.50" y1="799.30" x2="598.40" y2="799.30" stroke="#222" stroke-width="0.75"/>
<text x="600.50" y="801.80" font-size="7.05" text-anchor="start" fill="#1a1a1a">55</text>
<line x1="595.50" y1="811.40" x2="598.40" y2="811.40" stroke="#222" stroke-width="0.75"/>
<text x="600.50" y="813.90" font-size="7.05" text-anchor="start" fill="#1a1a1a">40</text>
<line x1="595.50" y1="831.00" x2="598.40" y2="831.00" stroke="#222" stroke-width="0.75"/>
<text x="600.50" y="833.50" font-size="7.05" text-anchor="start" fill="#1a1a1a">40</text>
<line x1="595.50" y1="851.10" x2="598.40" y2="851.10" stroke="#222" stroke-width="0.75"/>
<text x="600.50" y="853.60" font-size="7.05" text-anchor="start" fill="#1a1a1a">15</text>
<line x1="595.50" y1="866.20" x2="598.40" y2="866.20" stroke="#222" stroke-width="0.75"/>
<text x="600.50" y="868.70" font-size="7.05" text-anchor="start" fill="#1a1a1a">40</text>
<line x1="595.50" y1="877.50" x2="598.40" y2="877.50" stroke="#222" stroke-width="0.75"/>
<text x="600.50" y="880.00" font-size="7.05" text-anchor="start" fill="#1a1a1a">35</text>
<rect x="394.45" y="939.33" width="6.40" height="47.37" fill="#ffffff" stroke="#1a1a1a" stroke-width="0.8"/>
<circle cx="395.50" cy="937.57" r="1.25" fill="#000"/>
<circle cx="397.65" cy="938.35" r="1.25" fill="#000"/>
<circle cx="399.80" cy="938.98" r="1.25" fill="#000"/>
<rect x="405.35" y="941.75" width="6.40" height="44.95" fill="#ed1c24" stroke="#1a1a1a" stroke-width="0.8"/>
<line x1="408.55" y1="940.53" x2="408.55" y2="942.27" stroke="#1a1a1a" stroke-width="0.70"/>
<line x1="406.56" y1="940.53" x2="410.54" y2="940.53" stroke="#1a1a1a" stroke-width="0.70"/>
<line x1="406.56" y1="942.27" x2="410.54" y2="942.27" stroke="#1a1a1a" stroke-width="0.70"/>
<circle cx="406.56" cy="938.64" r="1.25" fill="#000"/>
<circle cx="408.55" cy="940.48" r="1.25" fill="#000"/>
<circle cx="410.70" cy="941.74" r="1.25" fill="#000"/>
<rect x="416.25" y="931.78" width="6.40" height="54.92" fill="#808080" stroke="#1a1a1a" stroke-width="0.8"/>
<line x1="419.45" y1="929.73" x2="419.45" y2="933.12" stroke="#1a1a1a" stroke-width="0.70"/>
<line x1="417.46" y1="929.73" x2="421.44" y2="929.73" stroke="#1a1a1a" stroke-width="0.70"/>
<line x1="417.46" y1="933.12" x2="421.44" y2="933.12" stroke="#1a1a1a" stroke-width="0.70"/>
<circle cx="417.61" cy="928.38" r="1.25" fill="#000"/>
<circle cx="421.29" cy="930.51" r="1.25" fill="#000"/>
<circle cx="419.45" cy="934.38" r="1.25" fill="#000"/>
<rect x="427.25" y="945.91" width="6.40" height="40.79" fill="#f7941d" stroke="#1a1a1a" stroke-width="0.8"/>
<line x1="430.45" y1="944.83" x2="430.45" y2="946.29" stroke="#1a1a1a" stroke-width="0.70"/>
<line x1="428.46" y1="944.83" x2="432.44" y2="944.83" stroke="#1a1a1a" stroke-width="0.70"/>
<line x1="428.46" y1="946.29" x2="432.44" y2="946.29" stroke="#1a1a1a" stroke-width="0.70"/>
<circle cx="428.46" cy="943.72" r="1.25" fill="#000"/>
<circle cx="430.45" cy="945.08" r="1.25" fill="#000"/>
<circle cx="432.60" cy="946.33" r="1.25" fill="#000"/>
<rect x="445.25" y="938.70" width="6.40" height="48.00" fill="#ffffff" stroke="#1a1a1a" stroke-width="0.8"/>
<line x1="448.45" y1="933.61" x2="448.45" y2="943.09" stroke="#1a1a1a" stroke-width="0.70"/>
<line x1="446.46" y1="933.61" x2="450.44" y2="933.61" stroke="#1a1a1a" stroke-width="0.70"/>
<line x1="446.46" y1="943.09" x2="450.44" y2="943.09" stroke="#1a1a1a" stroke-width="0.70"/>
<circle cx="446.61" cy="933.27" r="1.25" fill="#000"/>
<circle cx="450.29" cy="934.38" r="1.25" fill="#000"/>
<circle cx="448.45" cy="947.54" r="1.25" fill="#000"/>
<rect x="456.15" y="943.30" width="6.40" height="43.40" fill="#ed1c24" stroke="#1a1a1a" stroke-width="0.8"/>
<line x1="459.35" y1="941.49" x2="459.35" y2="944.40" stroke="#1a1a1a" stroke-width="0.70"/>
<line x1="457.36" y1="941.49" x2="461.34" y2="941.49" stroke="#1a1a1a" stroke-width="0.70"/>
<line x1="457.36" y1="944.40" x2="461.34" y2="944.40" stroke="#1a1a1a" stroke-width="0.70"/>
<circle cx="459.35" cy="939.90" r="1.25" fill="#000"/>
<circle cx="457.51" cy="942.17" r="1.25" fill="#000"/>
<circle cx="461.19" cy="944.79" r="1.25" fill="#000"/>
<rect x="467.15" y="918.32" width="6.40" height="68.38" fill="#808080" stroke="#1a1a1a" stroke-width="0.8"/>
<circle cx="468.20" cy="916.91" r="1.25" fill="#000"/>
<circle cx="470.35" cy="917.97" r="1.25" fill="#000"/>
<circle cx="472.50" cy="919.04" r="1.25" fill="#000"/>
<rect x="478.05" y="934.73" width="6.40" height="51.97" fill="#f7941d" stroke="#1a1a1a" stroke-width="0.8"/>
<line x1="481.25" y1="932.35" x2="481.25" y2="936.41" stroke="#1a1a1a" stroke-width="0.70"/>
<line x1="479.26" y1="932.35" x2="483.24" y2="932.35" stroke="#1a1a1a" stroke-width="0.70"/>
<line x1="479.26" y1="936.41" x2="483.24" y2="936.41" stroke="#1a1a1a" stroke-width="0.70"/>
<circle cx="479.41" cy="930.51" r="1.25" fill="#000"/>
<circle cx="483.09" cy="933.75" r="1.25" fill="#000"/>
<circle cx="481.25" cy="937.57" r="1.25" fill="#000"/>
<rect x="496.05" y="938.99" width="6.40" height="47.71" fill="#ffffff" stroke="#1a1a1a" stroke-width="0.8"/>
<line x1="499.25" y1="937.04" x2="499.25" y2="940.24" stroke="#1a1a1a" stroke-width="0.70"/>
<line x1="497.26" y1="937.04" x2="501.24" y2="937.04" stroke="#1a1a1a" stroke-width="0.70"/>
<line x1="497.26" y1="940.24" x2="501.24" y2="940.24" stroke="#1a1a1a" stroke-width="0.70"/>
<circle cx="499.25" cy="935.30" r="1.25" fill="#000"/>
<circle cx="497.41" cy="938.98" r="1.25" fill="#000"/>
<circle cx="501.09" cy="940.62" r="1.25" fill="#000"/>
<rect x="507.15" y="944.36" width="6.40" height="42.34" fill="#ed1c24" stroke="#1a1a1a" stroke-width="0.8"/>
<line x1="510.35" y1="941.74" x2="510.35" y2="946.29" stroke="#1a1a1a" stroke-width="0.70"/>
<line x1="508.36" y1="941.74" x2="512.34" y2="941.74" stroke="#1a1a1a" stroke-width="0.70"/>
<line x1="508.36" y1="946.29" x2="512.34" y2="946.29" stroke="#1a1a1a" stroke-width="0.70"/>
<circle cx="508.51" cy="940.48" r="1.25" fill="#000"/>
<circle cx="512.19" cy="942.03" r="1.25" fill="#000"/>
<circle cx="510.35" cy="947.54" r="1.25" fill="#000"/>
<rect x="518.05" y="922.44" width="6.40" height="64.26" fill="#808080" stroke="#1a1a1a" stroke-width="0.8"/>
<line x1="521.25" y1="919.04" x2="521.25" y2="925.14" stroke="#1a1a1a" stroke-width="0.70"/>
<line x1="519.26" y1="919.04" x2="523.24" y2="919.04" stroke="#1a1a1a" stroke-width="0.70"/>
<line x1="519.26" y1="925.14" x2="523.24" y2="925.14" stroke="#1a1a1a" stroke-width="0.70"/>
<circle cx="521.25" cy="916.42" r="1.25" fill="#000"/>
<circle cx="521.25" cy="922.09" r="1.25" fill="#000"/>
<circle cx="521.25" cy="926.10" r="1.25" fill="#000"/>
<rect x="529.05" y="925.97" width="6.40" height="60.73" fill="#f7941d" stroke="#1a1a1a" stroke-width="0.8"/>
<line x1="532.25" y1="923.20" x2="532.25" y2="928.04" stroke="#1a1a1a" stroke-width="0.70"/>
<line x1="530.26" y1="923.20" x2="534.24" y2="923.20" stroke="#1a1a1a" stroke-width="0.70"/>
<line x1="530.26" y1="928.04" x2="534.24" y2="928.04" stroke="#1a1a1a" stroke-width="0.70"/>
<circle cx="530.41" cy="922.23" r="1.25" fill="#000"/>
<circle cx="534.09" cy="923.34" r="1.25" fill="#000"/>
<circle cx="532.25" cy="929.44" r="1.25" fill="#000"/>
<rect x="547.45" y="939.33" width="6.40" height="47.37" fill="#ffffff" stroke="#1a1a1a" stroke-width="0.8"/>
<circle cx="548.50" cy="937.57" r="1.25" fill="#000"/>
<circle cx="550.65" cy="938.64" r="1.25" fill="#000"/>
<circle cx="552.80" cy="939.41" r="1.25" fill="#000"/>
<rect x="558.45" y="912.66" width="6.40" height="74.04" fill="#ed1c24" stroke="#1a1a1a" stroke-width="0.8"/>
<circle cx="559.50" cy="911.53" r="1.25" fill="#000"/>
<circle cx="561.65" cy="912.12" r="1.25" fill="#000"/>
<circle cx="563.80" cy="912.60" r="1.25" fill="#000"/>
<rect x="569.25" y="940.25" width="6.40" height="46.45" fill="#808080" stroke="#1a1a1a" stroke-width="0.8"/>
<circle cx="570.30" cy="938.64" r="1.25" fill="#000"/>
<circle cx="572.45" cy="939.41" r="1.25" fill="#000"/>
<circle cx="574.60" cy="940.19" r="1.25" fill="#000"/>
<rect x="580.15" y="923.69" width="6.40" height="63.01" fill="#f7941d" stroke="#1a1a1a" stroke-width="0.8"/>
<line x1="583.35" y1="921.65" x2="583.35" y2="925.04" stroke="#1a1a1a" stroke-width="0.70"/>
<line x1="581.36" y1="921.65" x2="585.34" y2="921.65" stroke="#1a1a1a" stroke-width="0.70"/>
<line x1="581.36" y1="925.04" x2="585.34" y2="925.04" stroke="#1a1a1a" stroke-width="0.70"/>
<circle cx="583.35" cy="919.96" r="1.25" fill="#000"/>
<circle cx="581.51" cy="924.07" r="1.25" fill="#000"/>
<circle cx="585.19" cy="925.18" r="1.25" fill="#000"/>
<line x1="390.30" y1="889.50" x2="390.30" y2="987.10" stroke="#1a1a1a" stroke-width="0.85"/>
<line x1="389.90" y1="986.70" x2="590.70" y2="986.70" stroke="#1a1a1a" stroke-width="0.85"/>
<line x1="384.80" y1="986.70" x2="390.30" y2="986.70" stroke="#1a1a1a" stroke-width="0.85"/>
<text x="383.50" y="989.70" font-size="8.40" text-anchor="end" fill="#1a1a1a">0.0</text>
<line x1="384.80" y1="962.50" x2="390.30" y2="962.50" stroke="#1a1a1a" stroke-width="0.85"/>
<text x="383.50" y="965.50" font-size="8.40" text-anchor="end" fill="#1a1a1a">0.5</text>
<line x1="384.80" y1="938.30" x2="390.30" y2="938.30" stroke="#1a1a1a" stroke-width="0.85"/>
<text x="383.50" y="941.30" font-size="8.40" text-anchor="end" fill="#1a1a1a">1.0</text>
<line x1="384.80" y1="914.10" x2="390.30" y2="914.10" stroke="#1a1a1a" stroke-width="0.85"/>
<text x="383.50" y="917.10" font-size="8.40" text-anchor="end" fill="#1a1a1a">1.5</text>
<line x1="384.80" y1="889.90" x2="390.30" y2="889.90" stroke="#1a1a1a" stroke-width="0.85"/>
<text x="383.50" y="892.90" font-size="8.40" text-anchor="end" fill="#1a1a1a">2.0</text>
<text transform="translate(366.00,938.00) rotate(-90)" font-size="8.40" text-anchor="middle" fill="#1a1a1a">Fold Change</text>
<line x1="413.75" y1="986.70" x2="413.75" y2="991.30" stroke="#1a1a1a" stroke-width="0.85"/>
<text x="416.60" y="1000.40" font-size="8.60" text-anchor="middle" fill="#1a1a1a">p-p70S6K</text>
<line x1="464.55" y1="986.70" x2="464.55" y2="991.30" stroke="#1a1a1a" stroke-width="0.85"/>
<text x="465.60" y="1000.40" font-size="8.60" text-anchor="middle" fill="#1a1a1a">p-Akt</text>
<line x1="515.45" y1="986.70" x2="515.45" y2="991.30" stroke="#1a1a1a" stroke-width="0.85"/>
<text x="518.10" y="1000.40" font-size="8.60" text-anchor="middle" fill="#1a1a1a">p-ERK</text>
<line x1="566.70" y1="986.70" x2="566.70" y2="991.30" stroke="#1a1a1a" stroke-width="0.85"/>
<text x="567.50" y="1000.40" font-size="8.60" text-anchor="middle" fill="#1a1a1a">LC3B II/I</text>
<text x="408.40" y="894.50" font-size="5.00" text-anchor="middle" fill="#222">p=0.013</text>
<line x1="397.30" y1="896.40" x2="419.10" y2="896.40" stroke="#222" stroke-width="0.75"/>
<text x="425.30" y="902.60" font-size="5.00" text-anchor="middle" fill="#222">p=0.001</text>
<line x1="419.40" y1="904.20" x2="430.00" y2="904.20" stroke="#222" stroke-width="0.75"/>
<text x="469.40" y="887.00" font-size="5.00" text-anchor="middle" fill="#222">p=0.021</text>
<line x1="458.10" y1="888.60" x2="480.00" y2="888.60" stroke="#222" stroke-width="0.75"/>
<text x="458.40" y="894.50" font-size="5.00" text-anchor="middle" fill="#222">p&lt;0.001</text>
<line x1="447.50" y1="896.40" x2="469.40" y2="896.40" stroke="#222" stroke-width="0.75"/>
<text x="475.00" y="902.60" font-size="5.00" text-anchor="middle" fill="#222">p=0.001</text>
<line x1="469.40" y1="904.20" x2="480.20" y2="904.20" stroke="#222" stroke-width="0.75"/>
<text x="519.70" y="886.30" font-size="5.00" text-anchor="middle" fill="#222">p=0.001</text>
<line x1="508.90" y1="888.70" x2="531.90" y2="888.70" stroke="#222" stroke-width="0.75"/>
<text x="508.90" y="894.40" font-size="5.00" text-anchor="middle" fill="#222">p=0.001</text>
<line x1="498.50" y1="896.80" x2="520.80" y2="896.80" stroke="#222" stroke-width="0.75"/>
<text x="571.50" y="886.30" font-size="5.00" text-anchor="middle" fill="#222">p=0.002</text>
<line x1="560.00" y1="888.70" x2="582.40" y2="888.70" stroke="#222" stroke-width="0.75"/>
<text x="555.10" y="900.30" font-size="5.00" text-anchor="middle" fill="#222">p=0.001</text>
<line x1="550.00" y1="902.20" x2="560.00" y2="902.20" stroke="#222" stroke-width="0.75"/>
<text x="579.00" y="900.30" font-size="5.00" text-anchor="middle" fill="#222">p=0.001</text>
<line x1="573.50" y1="902.20" x2="583.70" y2="902.20" stroke="#222" stroke-width="0.75"/>
<rect x="592.80" y="889.25" width="12.10" height="4.10" fill="#ffffff" stroke="#1a1a1a" stroke-width="0.8"/>
<text x="612.90" y="894.00" font-size="8.70" text-anchor="start" fill="#1a1a1a">si<tspan font-style="italic">Neg</tspan></text>
<rect x="592.80" y="902.05" width="12.10" height="4.10" fill="#ed1c24" stroke="#1a1a1a" stroke-width="0.8"/>
<text x="612.90" y="906.80" font-size="8.70" text-anchor="start" fill="#1a1a1a">si<tspan font-style="italic" letter-spacing="-0.2">Armh4</tspan></text>
<rect x="592.80" y="914.45" width="12.10" height="4.10" fill="#808080" stroke="#1a1a1a" stroke-width="0.8"/>
<text x="612.90" y="919.20" font-size="8.70" text-anchor="start" fill="#1a1a1a">si<tspan font-style="italic">Neg</tspan>+FGF2</text>
<rect x="592.80" y="926.85" width="12.10" height="4.10" fill="#f7941d" stroke="#1a1a1a" stroke-width="0.8"/>
<text x="612.90" y="931.60" font-size="8.70" text-anchor="start" fill="#1a1a1a">si<tspan font-style="italic" letter-spacing="-0.2">Armh4</tspan>+FGF2</text>
</svg>
</body></html>
